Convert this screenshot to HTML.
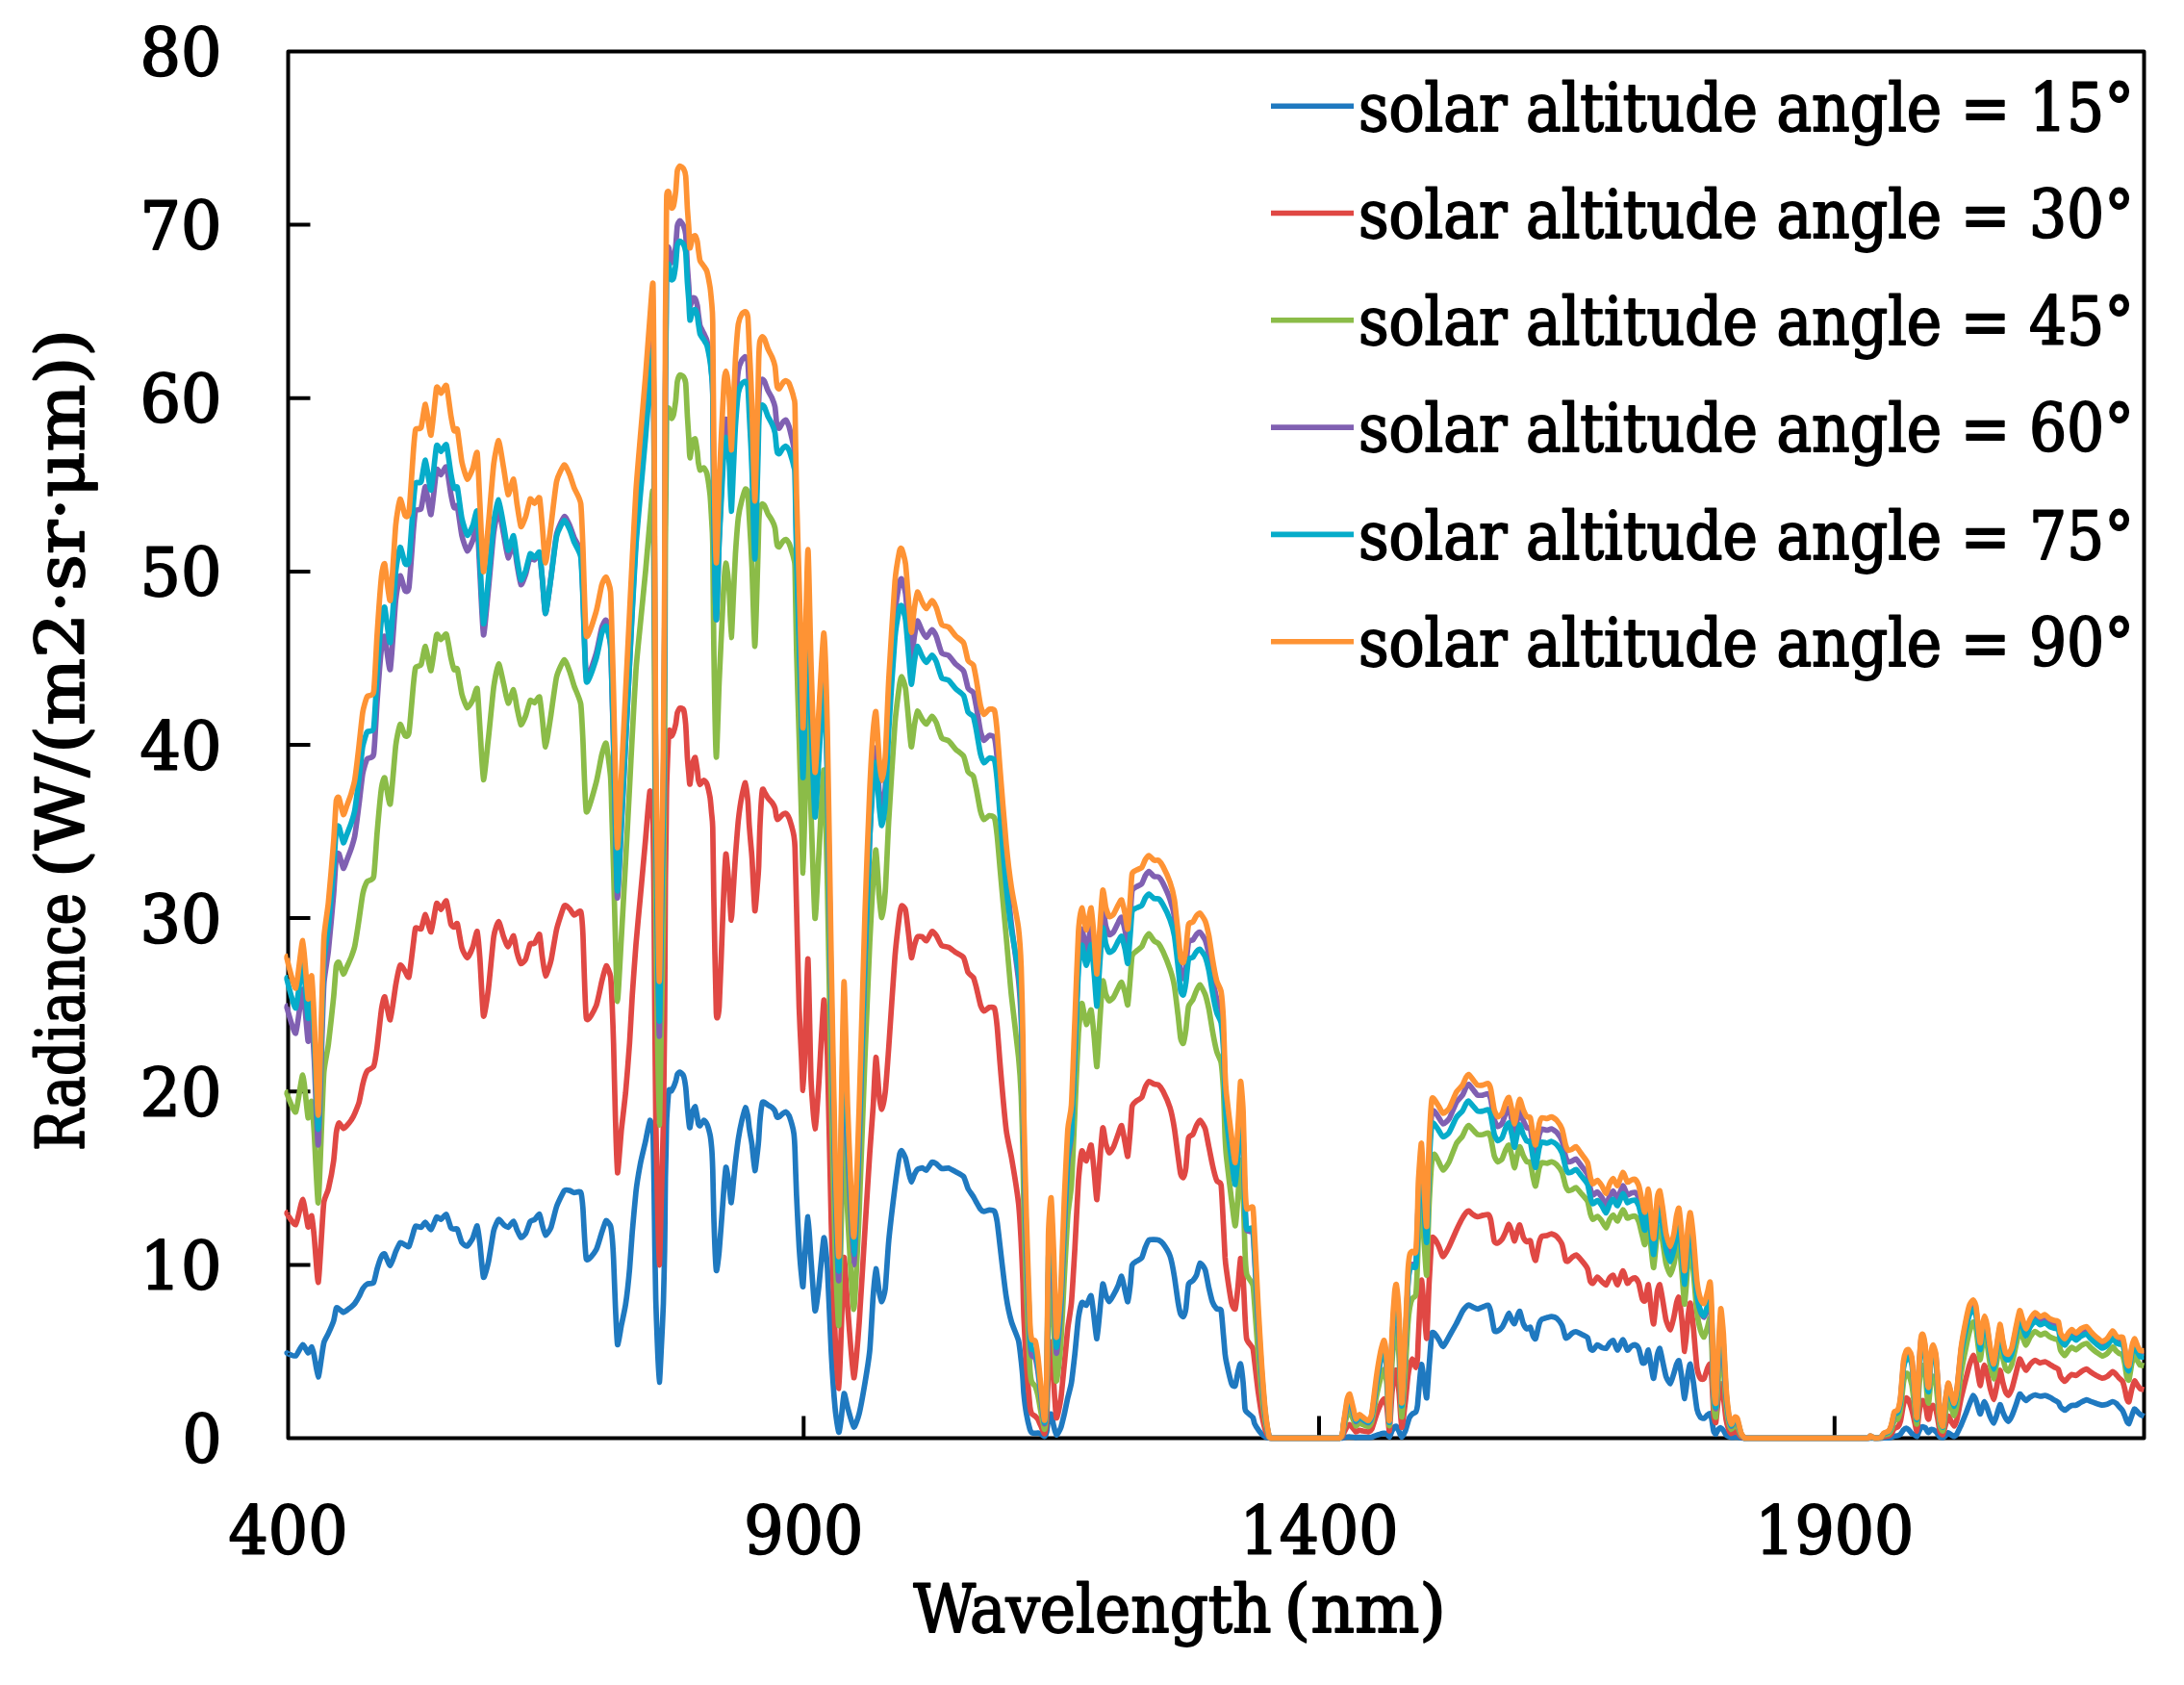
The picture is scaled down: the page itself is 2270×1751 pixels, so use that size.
<!DOCTYPE html>
<html lang="en"><head><meta charset="utf-8"><title>Radiance vs Wavelength</title>
<style>html,body{margin:0;padding:0;background:#fff}svg{display:block}</style></head>
<body>
<svg width="2270" height="1751" viewBox="0 0 2270 1751">
<rect width="2270" height="1751" fill="#fff"/>
<g font-family="'DejaVu Serif Condensed','DejaVu Serif','Liberation Serif',serif" font-size="70" fill="#000" stroke="#000" stroke-width="1.8" stroke-linejoin="round">
<rect x="299.5" y="53.5" width="1929" height="1441" fill="none" stroke="#000" stroke-width="4"/>
<path d="M299.5,1314.4h23 M299.5,1134.2h23 M299.5,954.1h23 M299.5,774.0h23 M299.5,593.9h23 M299.5,413.8h23 M299.5,233.6h23 M835.3,1494.5v-23 M1371,1494.5v-23 M1906.8,1494.5v-23" stroke="#000" stroke-width="4" fill="none"/>
<text x="230.5" y="1520.0" text-anchor="end" textLength="41" lengthAdjust="spacingAndGlyphs">0</text>
<text x="230.5" y="1339.9" text-anchor="end" textLength="85" lengthAdjust="spacingAndGlyphs">10</text>
<text x="230.5" y="1159.8" text-anchor="end" textLength="85" lengthAdjust="spacingAndGlyphs">20</text>
<text x="230.5" y="979.6" text-anchor="end" textLength="85" lengthAdjust="spacingAndGlyphs">30</text>
<text x="230.5" y="799.5" text-anchor="end" textLength="85" lengthAdjust="spacingAndGlyphs">40</text>
<text x="230.5" y="619.4" text-anchor="end" textLength="85" lengthAdjust="spacingAndGlyphs">50</text>
<text x="230.5" y="439.2" text-anchor="end" textLength="85" lengthAdjust="spacingAndGlyphs">60</text>
<text x="230.5" y="259.1" text-anchor="end" textLength="85" lengthAdjust="spacingAndGlyphs">70</text>
<text x="230.5" y="79.0" text-anchor="end" textLength="85" lengthAdjust="spacingAndGlyphs">80</text>
<text x="237.5" y="1614.5" textLength="124" lengthAdjust="spacingAndGlyphs">400</text>
<text x="773.3" y="1614.5" textLength="124" lengthAdjust="spacingAndGlyphs">900</text>
<text x="1288.5" y="1614.5" textLength="165" lengthAdjust="spacingAndGlyphs">1400</text>
<text x="1824.3" y="1614.5" textLength="165" lengthAdjust="spacingAndGlyphs">1900</text>
<text x="949.5" y="1695.5" textLength="372" lengthAdjust="spacingAndGlyphs">Wavelength</text>
<text x="1334.5" y="1695.5" textLength="168.5" lengthAdjust="spacingAndGlyphs">(nm)</text>
<text transform="translate(86.5,1196) rotate(-90)" textLength="268" lengthAdjust="spacingAndGlyphs">Radiance</text>
<text transform="translate(86.5,912) rotate(-90)" textLength="570" lengthAdjust="spacingAndGlyphs">(W/(m2·sr·μm))</text>
<g fill="none" stroke-width="5.7" stroke-linejoin="round" stroke-linecap="butt">
<path stroke="#1F79C0" d="M299.5,1405.8C298.2,1405.8 298.2,1405.8 298.2,1406.1C298.9,1406.4 305.9,1409.8 307.4,1409.0C308.9,1408.2 313.5,1397.5 314.7,1397.3C315.9,1397.0 319.4,1405.8 320.2,1406.0C321.0,1406.2 323.3,1399.4 323.9,1399.6C324.5,1399.9 326.0,1406.0 326.6,1408.8C327.2,1411.6 330.0,1430.6 330.7,1430.9C331.4,1431.1 333.5,1415.1 334.0,1411.9C334.5,1408.7 336.0,1397.5 336.7,1395.1C337.4,1392.7 340.4,1387.7 341.3,1385.7C342.2,1383.7 346.1,1374.9 346.8,1372.5C347.5,1370.2 349.0,1360.6 349.5,1359.4C350.0,1358.3 351.6,1359.7 352.3,1360.1C353.0,1360.5 356.1,1363.6 356.8,1363.8C357.5,1363.9 359.8,1362.1 360.5,1361.6C361.2,1361.1 364.4,1358.8 365.1,1358.2C365.8,1357.6 368.1,1355.5 368.8,1354.5C369.5,1353.5 372.6,1348.5 373.3,1347.1C374.0,1345.8 376.3,1340.3 377.0,1339.2C377.7,1338.0 380.6,1335.0 381.6,1334.4C382.6,1333.8 387.5,1334.0 388.4,1332.6C389.3,1331.2 391.2,1321.3 391.9,1318.9C392.6,1316.4 395.8,1306.8 396.5,1305.4C397.2,1303.9 399.1,1302.3 399.9,1303.2C400.7,1304.1 404.6,1315.3 405.6,1315.1C406.6,1314.9 410.4,1302.8 411.3,1300.7C412.2,1298.6 415.0,1292.1 415.9,1291.4C416.8,1290.8 420.2,1293.2 421.0,1293.6C421.8,1293.9 424.3,1296.4 425.1,1295.2C425.9,1294.0 429.1,1282.4 429.7,1280.5C430.3,1278.6 431.2,1274.5 431.9,1274.1C432.6,1273.6 436.8,1275.7 437.7,1275.4C438.6,1275.0 441.3,1270.0 442.2,1270.2C443.1,1270.4 447.0,1278.3 448.0,1277.8C449.0,1277.3 452.8,1265.8 453.7,1264.8C454.6,1263.8 457.4,1267.3 458.3,1267.1C459.2,1266.8 463.1,1261.3 464.0,1262.1C464.9,1262.9 467.9,1274.5 468.6,1275.8C469.3,1277.2 471.4,1277.0 472.0,1277.2C472.6,1277.3 474.7,1276.2 475.4,1277.4C476.1,1278.7 479.1,1289.7 480.0,1291.2C480.9,1292.8 484.7,1295.3 485.7,1294.9C486.7,1294.5 490.6,1288.2 491.5,1286.4C492.4,1284.5 495.3,1273.4 496.0,1273.9C496.7,1274.5 498.2,1287.6 498.8,1292.4C499.4,1297.2 501.7,1325.5 502.5,1327.3C503.3,1329.0 506.5,1316.5 507.5,1312.1C508.5,1307.8 512.2,1282.9 513.2,1278.8C514.2,1274.8 517.4,1267.8 518.3,1267.3C519.2,1266.7 522.6,1271.9 523.5,1272.6C524.4,1273.3 527.2,1275.7 528.1,1275.3C529.0,1275.0 533.0,1268.8 533.8,1269.0C534.6,1269.2 536.6,1276.5 537.3,1278.0C538.0,1279.5 540.6,1285.6 541.4,1286.0C542.2,1286.3 545.5,1283.2 546.4,1281.8C547.3,1280.3 550.2,1270.8 551.0,1269.5C551.8,1268.2 554.7,1268.1 555.6,1267.4C556.5,1266.7 560.1,1261.2 560.8,1261.7C561.5,1262.2 563.0,1271.1 563.6,1273.0C564.2,1275.0 566.2,1283.5 567.0,1283.7C567.8,1283.9 571.7,1278.1 572.7,1275.5C573.7,1272.8 577.3,1257.3 578.5,1253.9C579.7,1250.5 585.3,1238.7 586.5,1237.2C587.7,1235.7 591.3,1237.0 592.2,1237.1C593.1,1237.3 595.8,1239.1 596.8,1239.3C597.8,1239.4 602.8,1237.4 603.6,1238.9C604.4,1240.3 605.4,1249.5 605.9,1255.7C606.4,1262.0 608.2,1304.5 609.4,1308.3C610.6,1312.2 618.3,1301.1 619.7,1298.6C621.1,1296.2 624.5,1283.6 625.4,1280.9C626.3,1278.1 629.2,1269.0 630.0,1268.4C630.8,1267.8 634.0,1272.5 634.6,1274.0C635.2,1275.5 635.9,1282.2 636.2,1285.3C636.5,1288.4 637.4,1301.7 637.7,1308.1C638.0,1314.6 639.2,1349.0 639.6,1357.1C640.0,1365.1 641.2,1395.7 641.8,1397.4C642.4,1399.2 645.2,1380.2 646.0,1376.5C646.8,1372.7 649.4,1361.0 650.2,1355.8C651.0,1350.6 653.8,1325.2 654.4,1318.4C655.0,1311.6 656.6,1287.3 657.2,1280.1C657.8,1272.9 660.3,1244.8 661.0,1238.5C661.7,1232.1 664.6,1214.5 665.5,1209.7C666.4,1205.0 670.1,1189.8 671.0,1185.7C671.9,1181.6 674.8,1164.9 675.5,1164.2C676.2,1163.6 678.3,1172.0 678.7,1178.1C679.1,1184.1 679.6,1221.0 679.8,1231.5C680.0,1242.0 680.4,1284.2 680.6,1294.9C680.8,1305.6 681.4,1341.3 681.6,1350.3C681.8,1359.3 682.9,1387.1 683.2,1394.9C683.5,1402.6 684.9,1435.9 685.3,1436.3C685.7,1436.7 687.0,1407.1 687.4,1399.8C687.8,1392.4 689.2,1363.5 689.5,1354.4C689.8,1345.3 690.6,1307.8 690.8,1298.8C691.0,1289.8 691.2,1261.2 691.3,1254.6C691.4,1247.9 691.5,1230.4 691.6,1224.6C691.7,1218.8 692.3,1195.5 692.4,1189.9C692.5,1184.3 692.7,1167.3 693.0,1162.2C693.3,1157.1 694.8,1135.9 695.2,1133.3C695.6,1130.7 697.5,1133.9 697.9,1133.6C698.3,1133.2 699.7,1130.4 700.1,1129.6C700.5,1128.7 701.9,1124.9 702.3,1123.7C702.7,1122.6 703.6,1117.3 704.0,1116.4C704.4,1115.5 706.1,1113.9 706.7,1114.1C707.3,1114.2 710.0,1116.7 710.5,1118.1C711.0,1119.5 712.3,1126.8 712.7,1129.8C713.1,1132.7 714.1,1147.5 714.4,1150.8C714.7,1154.1 715.8,1164.4 716.0,1166.3C716.2,1168.2 716.7,1172.8 717.1,1171.7C717.5,1170.7 719.4,1157.1 719.9,1155.1C720.4,1153.2 722.2,1149.6 722.6,1150.1C723.0,1150.7 724.5,1159.5 724.8,1161.1C725.1,1162.7 725.6,1167.3 725.9,1168.1C726.2,1168.9 727.1,1170.1 727.6,1169.8C728.1,1169.4 730.8,1164.3 731.4,1164.1C732.0,1163.9 734.1,1166.5 734.7,1167.9C735.3,1169.2 737.5,1176.9 738.0,1179.2C738.5,1181.4 739.4,1189.7 739.7,1193.0C740.0,1196.3 740.6,1209.4 740.8,1215.7C741.0,1222.1 741.6,1254.3 741.9,1263.7C742.2,1273.1 744.0,1316.7 744.5,1320.0C745.0,1323.3 746.9,1306.4 747.5,1300.2C748.1,1294.1 750.7,1257.9 751.2,1251.6C751.7,1245.4 752.4,1234.2 752.7,1230.8C753.0,1227.3 754.2,1213.8 754.5,1213.0C754.8,1212.2 756.1,1219.9 756.4,1221.9C756.7,1223.8 757.9,1232.2 758.2,1234.7C758.5,1237.2 759.7,1250.3 760.1,1249.8C760.5,1249.4 761.8,1233.6 762.2,1229.8C762.6,1225.9 763.9,1211.3 764.4,1207.1C764.9,1202.9 766.8,1187.3 767.4,1183.5C768.0,1179.7 770.3,1167.6 771.0,1164.7C771.7,1161.8 774.1,1151.4 774.7,1151.0C775.3,1150.5 776.9,1157.7 777.3,1159.6C777.7,1161.5 778.4,1169.8 778.7,1171.9C779.0,1174.0 780.2,1181.2 780.5,1182.8C780.8,1184.4 781.2,1186.5 781.6,1189.6C782.0,1192.6 784.1,1216.0 784.6,1216.5C785.1,1217.0 787.1,1198.2 787.5,1195.3C787.9,1192.4 788.4,1186.7 788.6,1184.1C788.8,1181.5 789.4,1170.0 789.7,1166.5C790.0,1163.1 791.8,1147.9 792.3,1146.1C792.8,1144.2 794.3,1145.5 794.8,1145.7C795.3,1145.9 797.4,1147.8 798.1,1148.3C798.8,1148.8 801.8,1150.3 802.5,1150.9C803.2,1151.5 805.1,1153.8 805.5,1154.5C805.9,1155.3 806.7,1158.7 806.9,1159.3C807.1,1159.9 807.7,1160.9 808.0,1161.0C808.3,1161.1 809.4,1160.8 809.9,1160.5C810.4,1160.2 812.9,1157.8 813.5,1157.3C814.1,1156.8 816.2,1155.2 816.8,1155.4C817.4,1155.6 819.5,1158.2 820.1,1159.3C820.7,1160.5 822.5,1166.4 823.0,1168.1C823.5,1169.8 824.9,1175.9 825.2,1178.5C825.5,1181.0 826.1,1190.8 826.3,1196.5C826.5,1202.2 827.5,1233.2 827.9,1242.1C828.3,1251.1 830.1,1288.5 830.6,1296.0C831.1,1303.4 832.6,1321.3 833.0,1325.0C833.4,1328.7 834.3,1338.7 834.6,1337.0C834.9,1335.2 836.0,1312.3 836.5,1305.8C837.0,1299.3 839.2,1263.9 839.8,1264.3C840.4,1264.7 842.3,1301.0 843.0,1309.8C843.7,1318.6 846.4,1359.6 847.1,1362.1C847.8,1364.6 850.2,1344.3 851.0,1337.5C851.8,1330.7 855.5,1288.1 856.3,1286.3C857.1,1284.6 859.3,1307.3 860.0,1318.0C860.7,1328.7 863.3,1392.3 864.0,1405.4C864.7,1418.5 867.3,1456.1 868.0,1463.6C868.7,1471.1 871.2,1487.6 871.8,1488.4C872.4,1489.2 874.0,1476.1 874.5,1472.5C875.0,1468.9 876.7,1449.0 877.3,1448.1C877.9,1447.2 880.1,1459.4 881.0,1462.5C881.9,1465.7 886.3,1482.4 887.4,1483.0C888.5,1483.6 892.0,1473.1 893.0,1469.0C894.0,1464.9 898.0,1443.1 899.0,1437.2C900.0,1431.3 903.2,1411.5 904.0,1403.4C904.8,1395.3 906.9,1354.9 907.5,1347.2C908.1,1339.6 909.8,1319.0 910.4,1318.5C911.0,1318.0 913.2,1338.7 913.7,1341.8C914.2,1344.9 915.9,1352.8 916.5,1352.6C917.1,1352.4 919.4,1345.0 920.1,1339.3C920.8,1333.5 922.9,1298.3 923.8,1288.8C924.7,1279.3 929.2,1241.5 930.2,1233.5C931.2,1225.6 934.2,1204.1 934.8,1200.7C935.4,1197.3 936.6,1195.4 937.2,1195.7C937.8,1196.0 940.5,1201.5 941.2,1203.7C941.9,1205.9 944.4,1218.1 944.9,1220.3C945.4,1222.5 946.8,1228.3 947.3,1228.3C947.8,1228.3 949.8,1221.6 950.4,1220.4C951.0,1219.2 952.8,1216.0 953.5,1215.3C954.2,1214.7 957.8,1213.6 958.6,1213.6C959.4,1213.7 961.9,1216.6 962.8,1216.0C963.7,1215.5 967.8,1208.3 968.7,1207.7C969.6,1207.1 972.4,1208.8 973.3,1209.4C974.2,1210.0 977.6,1213.9 978.8,1214.3C980.0,1214.7 984.8,1213.6 986.1,1213.9C987.4,1214.3 992.0,1217.0 993.4,1217.7C994.8,1218.5 1000.4,1221.1 1001.6,1222.7C1002.8,1224.3 1005.3,1233.5 1006.2,1235.4C1007.1,1237.2 1011.0,1242.3 1011.7,1243.5C1012.4,1244.7 1013.8,1247.6 1014.5,1248.7C1015.2,1249.9 1018.3,1255.5 1019.0,1256.4C1019.7,1257.3 1021.9,1258.8 1022.7,1258.9C1023.5,1259.0 1027.2,1257.4 1028.2,1257.4C1029.2,1257.4 1033.0,1257.8 1033.7,1258.9C1034.4,1260.0 1035.9,1266.6 1036.4,1269.6C1036.9,1272.7 1038.4,1286.0 1039.2,1293.0C1040.0,1300.0 1044.7,1340.1 1045.8,1347.3C1046.9,1354.6 1050.1,1369.5 1051.3,1373.6C1052.5,1377.8 1057.7,1389.4 1058.6,1393.0C1059.5,1396.6 1061.0,1410.5 1061.4,1414.2C1061.8,1417.8 1063.0,1430.6 1063.2,1433.6C1063.4,1436.6 1063.8,1444.6 1064.1,1447.8C1064.4,1451.0 1066.2,1465.6 1066.8,1469.0C1067.4,1472.4 1070.0,1483.8 1070.5,1485.6C1071.0,1487.3 1071.8,1488.3 1072.3,1488.7C1072.8,1489.0 1075.4,1489.4 1076.0,1489.4C1076.6,1489.5 1078.2,1488.9 1078.8,1489.0C1079.4,1489.1 1081.8,1490.2 1082.4,1490.5C1083.0,1490.8 1085.2,1492.9 1085.7,1492.6C1086.2,1492.4 1087.5,1489.6 1087.9,1487.9C1088.3,1486.1 1089.3,1475.0 1089.7,1473.4C1090.1,1471.7 1092.0,1468.8 1092.5,1469.5C1093.0,1470.3 1094.7,1479.9 1095.2,1481.8C1095.7,1483.8 1097.3,1491.2 1098.0,1491.3C1098.7,1491.5 1101.9,1485.6 1102.6,1483.6C1103.3,1481.7 1105.5,1472.5 1106.2,1469.6C1106.9,1466.8 1109.2,1455.0 1109.9,1452.1C1110.6,1449.2 1112.9,1441.1 1113.6,1437.0C1114.3,1433.0 1116.5,1413.0 1117.2,1406.9C1117.9,1400.7 1120.2,1373.8 1120.9,1369.1C1121.6,1364.3 1123.8,1354.7 1124.5,1353.6C1125.2,1352.5 1128.2,1357.1 1129.1,1356.4C1130.0,1355.8 1133.4,1345.1 1134.1,1346.5C1134.8,1347.8 1136.9,1367.3 1137.4,1371.3C1137.9,1375.4 1139.6,1391.8 1140.1,1391.2C1140.6,1390.6 1142.4,1370.3 1142.9,1365.2C1143.4,1360.0 1145.6,1336.1 1146.2,1334.4C1146.8,1332.6 1148.7,1343.9 1149.3,1345.5C1149.9,1347.2 1152.2,1352.7 1152.9,1352.7C1153.6,1352.7 1156.7,1346.9 1157.5,1345.4C1158.3,1344.0 1161.4,1337.9 1162.1,1336.2C1162.8,1334.5 1165.1,1325.8 1165.8,1326.3C1166.5,1326.8 1168.8,1339.3 1169.4,1341.7C1170.0,1344.1 1171.7,1353.3 1172.2,1352.7C1172.7,1352.0 1174.5,1337.9 1174.9,1334.5C1175.3,1331.1 1176.1,1316.7 1176.7,1314.6C1177.3,1312.4 1180.4,1311.3 1181.3,1310.6C1182.2,1310.0 1186.0,1308.3 1186.8,1307.0C1187.6,1305.7 1189.8,1297.6 1190.5,1295.9C1191.2,1294.3 1193.3,1289.4 1194.1,1288.7C1194.9,1288.0 1198.7,1288.2 1199.6,1288.2C1200.5,1288.2 1203.4,1288.3 1204.2,1288.6C1205.0,1289.0 1207.7,1290.8 1208.8,1292.3C1209.9,1293.8 1215.0,1302.0 1216.1,1305.1C1217.2,1308.2 1220.0,1322.8 1220.7,1327.1C1221.4,1331.4 1223.8,1349.5 1224.4,1352.9C1225.0,1356.4 1226.6,1364.2 1227.1,1365.6C1227.6,1366.9 1229.4,1368.7 1229.9,1368.3C1230.4,1367.8 1232.1,1363.1 1232.6,1360.1C1233.1,1357.1 1234.6,1337.4 1235.3,1334.8C1236.0,1332.1 1239.2,1331.7 1239.9,1330.8C1240.6,1329.9 1242.9,1326.9 1243.6,1325.2C1244.3,1323.6 1246.5,1313.0 1247.3,1312.5C1248.1,1312.0 1251.9,1317.4 1252.7,1319.7C1253.5,1322.0 1255.7,1335.1 1256.4,1338.0C1257.1,1341.0 1259.4,1350.8 1260.1,1352.8C1260.8,1354.8 1263.9,1359.4 1264.7,1360.2C1265.5,1361.0 1268.6,1359.4 1269.2,1361.8C1269.8,1364.3 1271.2,1383.3 1271.6,1387.4C1272.0,1391.4 1273.0,1404.4 1273.3,1407.0C1273.6,1409.5 1274.1,1412.9 1274.7,1415.7C1275.3,1418.5 1279.4,1436.1 1280.2,1438.3C1281.0,1440.5 1283.3,1441.0 1283.9,1440.0C1284.5,1438.9 1286.1,1428.2 1286.6,1426.2C1287.1,1424.1 1288.9,1416.3 1289.4,1417.3C1289.9,1418.2 1291.7,1432.9 1292.1,1437.1C1292.5,1441.3 1293.7,1461.1 1294.0,1463.8C1294.3,1466.5 1295.1,1466.6 1295.8,1467.4C1296.5,1468.2 1301.5,1471.9 1302.2,1473.0C1302.9,1474.0 1303.5,1478.2 1304.0,1479.4C1304.5,1480.5 1307.0,1484.7 1307.7,1485.6C1308.4,1486.6 1310.7,1489.5 1311.4,1490.2C1312.1,1490.9 1314.3,1492.6 1315.0,1493.0C1315.7,1493.4 1318.1,1494.2 1318.7,1494.3C1319.3,1494.4 1318.7,1494.5 1321.4,1494.5C1328.0,1494.5 1385.2,1494.5 1392.0,1494.5C1396.5,1494.5 1395.8,1494.1 1396.5,1494.0C1397.2,1493.9 1399.5,1493.4 1400.1,1493.3C1400.7,1493.2 1402.3,1493.0 1402.9,1493.1C1403.5,1493.1 1406.0,1493.4 1406.6,1493.5C1407.2,1493.5 1408.7,1493.8 1409.3,1493.8C1409.9,1493.8 1412.3,1493.6 1413.0,1493.6C1413.7,1493.6 1415.8,1493.6 1416.6,1493.7C1417.4,1493.7 1421.3,1493.8 1422.1,1493.7C1422.9,1493.7 1425.1,1493.6 1425.8,1493.4C1426.5,1493.2 1429.6,1491.9 1430.4,1491.6C1431.2,1491.3 1434.2,1490.4 1434.9,1490.2C1435.6,1489.9 1438.0,1489.3 1438.6,1489.3C1439.2,1489.3 1440.9,1489.5 1441.4,1489.8C1441.9,1490.2 1443.6,1493.6 1444.1,1493.3C1444.6,1493.1 1446.3,1487.9 1446.8,1486.9C1447.3,1486.0 1449.2,1483.3 1449.6,1482.8C1450.0,1482.4 1451.0,1481.8 1451.4,1482.3C1451.8,1482.7 1453.7,1486.8 1454.2,1487.8C1454.7,1488.8 1456.3,1493.4 1456.9,1493.4C1457.5,1493.3 1460.0,1488.6 1460.6,1487.2C1461.2,1485.9 1462.9,1479.4 1463.3,1478.1C1463.7,1476.8 1464.8,1473.4 1465.2,1472.7C1465.6,1471.9 1467.3,1469.9 1467.9,1469.4C1468.5,1468.9 1471.1,1468.1 1471.6,1467.3C1472.1,1466.4 1473.2,1461.7 1473.4,1460.1C1473.6,1458.5 1473.9,1453.0 1474.3,1449.2C1474.7,1445.4 1476.8,1418.8 1477.4,1417.8C1478.0,1416.9 1480.2,1435.5 1480.7,1438.6C1481.2,1441.7 1482.5,1454.2 1482.9,1452.6C1483.3,1450.9 1484.8,1426.0 1485.3,1420.0C1485.8,1414.1 1487.6,1389.4 1488.1,1386.3C1488.6,1383.2 1490.1,1384.9 1490.8,1385.4C1491.5,1385.9 1494.6,1390.8 1495.4,1392.0C1496.2,1393.3 1499.0,1399.6 1500.0,1399.3C1501.0,1399.0 1505.2,1390.5 1506.4,1388.3C1507.6,1386.2 1512.5,1377.8 1513.7,1375.5C1514.9,1373.2 1519.2,1364.3 1520.1,1362.7C1521.0,1361.2 1523.2,1358.7 1523.8,1358.1C1524.4,1357.5 1525.8,1356.1 1526.5,1356.1C1527.2,1356.2 1530.3,1358.0 1531.1,1358.4C1531.9,1358.7 1534.8,1360.2 1535.7,1360.2C1536.6,1360.2 1540.2,1358.5 1541.2,1358.1C1542.2,1357.8 1546.0,1355.9 1546.7,1356.3C1547.4,1356.8 1548.8,1360.3 1549.4,1362.7C1550.0,1365.0 1552.4,1380.6 1553.1,1382.4C1553.8,1384.3 1556.0,1383.3 1556.7,1383.1C1557.4,1382.8 1560.6,1380.2 1561.3,1379.2C1562.0,1378.2 1564.4,1373.1 1565.0,1371.8C1565.6,1370.5 1567.7,1364.5 1568.3,1364.5C1568.9,1364.6 1570.9,1370.9 1571.4,1371.9C1571.9,1372.9 1573.6,1376.0 1574.1,1375.6C1574.6,1375.3 1576.4,1369.3 1576.9,1368.2C1577.4,1367.0 1579.0,1362.0 1579.6,1362.7C1580.2,1363.4 1582.6,1373.9 1583.3,1375.5C1584.0,1377.2 1586.3,1380.7 1587.0,1381.0C1587.7,1381.4 1590.0,1378.5 1590.6,1379.2C1591.2,1379.8 1592.9,1387.3 1593.4,1388.4C1593.9,1389.5 1595.5,1392.3 1596.1,1391.1C1596.7,1390.0 1599.2,1377.3 1599.8,1375.5C1600.4,1373.7 1601.8,1371.5 1602.5,1371.0C1603.2,1370.4 1607.1,1369.4 1608.0,1369.1C1608.9,1368.9 1611.7,1368.1 1612.6,1368.2C1613.5,1368.3 1617.1,1369.2 1618.1,1370.0C1619.1,1370.9 1622.8,1375.6 1623.6,1377.4C1624.4,1379.2 1626.7,1389.1 1627.3,1390.2C1627.9,1391.3 1629.4,1389.7 1630.0,1389.3C1630.6,1388.9 1633.0,1386.1 1633.7,1385.6C1634.4,1385.1 1637.3,1383.7 1638.2,1383.8C1639.1,1383.8 1642.6,1385.9 1643.7,1386.5C1644.8,1387.1 1649.3,1388.8 1650.1,1390.1C1650.9,1391.4 1652.4,1400.0 1652.9,1401.2C1653.4,1402.3 1654.9,1403.4 1655.6,1403.0C1656.3,1402.7 1659.4,1397.8 1660.2,1397.5C1661.0,1397.3 1664.0,1399.9 1664.8,1400.3C1665.6,1400.6 1668.7,1401.6 1669.4,1401.2C1670.1,1400.8 1672.3,1396.5 1673.0,1395.7C1673.7,1395.0 1676.0,1392.3 1676.7,1392.9C1677.4,1393.6 1680.4,1403.1 1681.3,1403.0C1682.2,1402.9 1685.9,1392.0 1686.8,1392.0C1687.7,1392.0 1690.7,1402.3 1691.4,1403.0C1692.1,1403.7 1694.3,1399.9 1695.0,1399.4C1695.7,1398.9 1698.9,1397.3 1699.6,1397.5C1700.3,1397.7 1702.6,1399.7 1703.3,1401.3C1704.0,1402.9 1706.3,1414.4 1706.9,1415.7C1707.5,1417.0 1709.1,1417.0 1709.7,1415.8C1710.3,1414.7 1712.7,1402.6 1713.3,1402.9C1713.9,1403.3 1715.6,1416.9 1716.1,1419.6C1716.6,1422.2 1718.2,1433.4 1718.8,1432.4C1719.4,1431.3 1721.9,1411.3 1722.5,1408.4C1723.1,1405.6 1724.7,1400.7 1725.2,1401.2C1725.7,1401.7 1727.4,1411.4 1728.0,1414.1C1728.6,1416.7 1730.9,1428.2 1731.6,1430.3C1732.3,1432.5 1735.5,1438.1 1736.2,1437.8C1736.9,1437.5 1739.3,1428.6 1739.9,1426.8C1740.5,1425.0 1742.1,1418.9 1742.6,1417.7C1743.1,1416.6 1744.6,1412.7 1745.1,1414.1C1745.6,1415.5 1747.7,1429.3 1748.2,1432.8C1748.7,1436.4 1750.5,1453.7 1751.0,1453.3C1751.5,1452.9 1753.8,1431.6 1754.3,1428.4C1754.8,1425.2 1756.3,1416.9 1756.8,1417.6C1757.3,1418.3 1759.5,1432.3 1760.1,1436.5C1760.7,1440.7 1763.1,1461.0 1763.8,1464.3C1764.5,1467.6 1766.8,1472.0 1767.5,1472.9C1768.2,1473.7 1770.4,1474.2 1771.1,1473.9C1771.8,1473.7 1774.2,1470.8 1774.8,1470.3C1775.4,1469.9 1777.1,1468.4 1777.5,1469.0C1777.9,1469.5 1779.1,1474.6 1779.4,1476.3C1779.7,1478.0 1780.8,1486.3 1781.2,1487.5C1781.6,1488.8 1783.0,1490.4 1783.4,1490.3C1783.8,1490.1 1785.3,1486.2 1785.8,1485.6C1786.3,1485.0 1788.0,1483.7 1788.5,1483.7C1789.0,1483.8 1790.8,1485.8 1791.3,1486.5C1791.8,1487.1 1793.5,1490.3 1794.0,1490.9C1794.5,1491.4 1796.3,1492.6 1796.8,1492.9C1797.3,1493.1 1798.9,1493.6 1799.5,1493.7C1800.1,1493.7 1802.6,1493.4 1803.2,1493.4C1803.8,1493.4 1805.3,1493.4 1805.9,1493.5C1806.5,1493.6 1808.9,1494.1 1809.6,1494.2C1810.3,1494.3 1812.9,1494.5 1813.3,1494.5C1813.5,1494.5 1813.3,1494.5 1813.5,1494.5C1825.0,1494.5 1929.3,1494.5 1941.0,1494.5C1943.9,1494.5 1943.2,1494.4 1943.9,1494.4C1944.6,1494.4 1948.0,1494.5 1949.0,1494.5C1950.0,1494.5 1954.1,1494.5 1954.9,1494.5C1955.7,1494.4 1957.1,1494.3 1957.8,1494.2C1958.5,1494.2 1962.3,1494.1 1963.0,1494.1C1963.7,1494.0 1965.4,1493.7 1965.9,1493.5C1966.4,1493.4 1968.2,1492.6 1968.8,1492.4C1969.4,1492.3 1971.9,1492.1 1972.5,1491.9C1973.1,1491.7 1974.9,1490.8 1975.4,1490.3C1975.9,1489.7 1977.9,1486.5 1978.4,1486.0C1978.9,1485.4 1980.8,1484.0 1981.3,1484.0C1981.8,1484.0 1983.4,1485.3 1983.9,1485.8C1984.4,1486.4 1986.6,1489.3 1987.1,1489.8C1987.6,1490.2 1988.8,1490.3 1989.3,1490.5C1989.8,1490.8 1991.8,1493.0 1992.3,1492.7C1992.8,1492.4 1994.1,1488.3 1994.5,1487.4C1994.9,1486.6 1996.3,1484.0 1996.7,1483.6C1997.1,1483.1 1998.2,1482.7 1998.6,1482.7C1999.0,1482.8 2000.7,1483.2 2001.1,1483.6C2001.5,1484.0 2003.0,1487.2 2003.3,1487.6C2003.6,1488.1 2004.4,1488.7 2004.7,1488.5C2005.0,1488.3 2006.5,1485.9 2006.9,1485.6C2007.3,1485.4 2008.6,1485.5 2009.1,1485.7C2009.6,1485.9 2011.6,1487.3 2012.1,1487.8C2012.6,1488.2 2013.8,1490.1 2014.2,1490.6C2014.6,1491.1 2015.9,1493.0 2016.4,1493.3C2016.9,1493.6 2018.9,1494.0 2019.4,1494.0C2019.9,1493.9 2021.1,1492.8 2021.6,1492.4C2022.1,1491.9 2024.4,1489.0 2024.9,1488.8C2025.4,1488.7 2026.8,1490.2 2027.4,1490.6C2028.0,1490.9 2030.5,1492.7 2031.1,1492.7C2031.7,1492.6 2033.3,1491.1 2034.0,1490.0C2034.7,1488.9 2037.5,1482.6 2038.4,1480.7C2039.3,1478.7 2042.8,1470.0 2043.6,1468.0C2044.4,1466.0 2046.5,1460.0 2047.2,1458.4C2047.9,1456.8 2050.3,1450.4 2050.9,1450.1C2051.5,1449.8 2053.3,1453.9 2053.8,1455.1C2054.3,1456.2 2055.6,1461.7 2056.0,1463.0C2056.4,1464.3 2057.8,1469.6 2058.2,1469.5C2058.6,1469.5 2060.0,1463.7 2060.4,1462.6C2060.8,1461.4 2062.1,1456.5 2062.6,1456.6C2063.1,1456.6 2065.0,1461.8 2065.5,1463.2C2066.0,1464.6 2067.9,1470.7 2068.5,1472.1C2069.1,1473.5 2071.5,1479.1 2072.1,1479.0C2072.7,1478.9 2074.5,1473.1 2075.1,1471.4C2075.7,1469.6 2078.1,1460.0 2078.7,1459.6C2079.3,1459.2 2081.1,1465.8 2081.6,1467.0C2082.1,1468.3 2084.1,1472.8 2084.6,1473.7C2085.1,1474.6 2086.9,1477.3 2087.5,1477.0C2088.1,1476.8 2090.5,1472.8 2091.2,1471.2C2091.9,1469.6 2094.9,1461.3 2095.6,1459.3C2096.3,1457.3 2098.6,1449.4 2099.2,1448.7C2099.8,1448.0 2101.6,1451.2 2102.2,1451.8C2102.8,1452.3 2105.1,1455.3 2105.8,1455.3C2106.5,1455.3 2109.3,1452.3 2110.2,1451.8C2111.1,1451.2 2114.4,1449.5 2115.3,1449.5C2116.2,1449.4 2119.6,1450.9 2120.5,1451.0C2121.4,1451.1 2124.7,1450.1 2125.6,1450.2C2126.5,1450.3 2129.8,1451.7 2130.7,1452.1C2131.6,1452.5 2134.3,1454.3 2135.1,1454.8C2135.9,1455.3 2138.9,1456.8 2139.5,1457.4C2140.1,1458.1 2141.1,1461.3 2141.7,1462.0C2142.3,1462.7 2145.4,1465.5 2146.1,1465.5C2146.8,1465.6 2149.1,1463.2 2149.8,1462.7C2150.5,1462.3 2152.7,1460.7 2153.4,1460.5C2154.1,1460.3 2156.9,1460.6 2157.8,1460.3C2158.7,1460.0 2162.0,1457.7 2163.0,1457.2C2164.0,1456.7 2167.9,1454.7 2168.8,1454.6C2169.7,1454.5 2172.3,1456.0 2173.2,1456.4C2174.1,1456.7 2178.0,1458.1 2179.1,1458.5C2180.2,1458.8 2183.9,1460.0 2184.9,1460.1C2185.9,1460.1 2189.1,1459.5 2190.1,1459.2C2191.1,1458.9 2195.0,1456.6 2195.9,1456.5C2196.8,1456.4 2199.0,1457.9 2199.6,1458.4C2200.2,1458.8 2201.9,1461.0 2202.5,1461.7C2203.1,1462.4 2205.7,1465.1 2206.2,1465.9C2206.7,1466.8 2208.0,1470.0 2208.4,1471.0C2208.8,1472.0 2210.2,1476.2 2210.6,1476.9C2211.0,1477.7 2212.3,1479.9 2212.8,1479.4C2213.3,1478.9 2215.2,1472.5 2215.7,1471.2C2216.2,1469.8 2218.1,1464.5 2218.6,1464.1C2219.1,1463.8 2221.1,1466.5 2221.6,1467.0C2222.1,1467.5 2223.9,1469.4 2224.5,1469.9C2225.1,1470.3 2228.1,1471.6 2228.5,1471.8"/>
<path stroke="#E04844" d="M299.5,1259.6C298.2,1259.8 298.2,1259.9 298.2,1261.0C298.9,1262.2 305.9,1273.8 307.4,1272.5C308.9,1271.2 313.5,1246.1 314.7,1246.3C315.9,1246.6 319.4,1273.5 320.2,1275.0C321.0,1276.5 323.3,1262.4 323.9,1263.4C324.5,1264.3 326.0,1279.0 326.6,1285.2C327.2,1291.5 330.0,1332.5 330.7,1332.7C331.4,1332.9 333.5,1294.8 334.0,1287.3C334.5,1279.8 336.0,1253.5 336.7,1248.9C337.4,1244.3 340.4,1239.5 341.3,1235.6C342.2,1231.8 346.1,1211.5 346.8,1206.2C347.5,1200.9 349.0,1180.7 349.5,1177.2C350.0,1173.7 351.6,1167.4 352.3,1167.0C353.0,1166.6 356.1,1172.4 356.8,1172.6C357.5,1172.9 359.8,1170.5 360.5,1169.7C361.2,1168.9 364.4,1165.1 365.1,1163.9C365.8,1162.8 368.1,1158.6 368.8,1156.9C369.5,1155.2 372.6,1147.8 373.3,1145.1C374.0,1142.4 376.3,1129.7 377.0,1126.8C377.7,1123.9 380.6,1114.6 381.6,1113.0C382.6,1111.3 387.5,1110.4 388.4,1108.2C389.3,1106.0 391.2,1093.9 391.9,1088.5C392.6,1083.2 395.8,1053.4 396.5,1048.6C397.2,1043.9 399.1,1034.9 399.9,1035.9C400.7,1036.9 404.6,1060.9 405.6,1059.8C406.6,1058.7 410.4,1028.8 411.3,1023.7C412.2,1018.6 415.0,1004.4 415.9,1003.1C416.8,1001.8 420.2,1008.2 421.0,1009.3C421.8,1010.4 424.3,1017.7 425.1,1015.0C425.9,1012.4 429.1,984.6 429.7,980.0C430.3,975.4 431.2,965.6 431.9,964.3C432.6,963.0 436.8,966.5 437.7,965.3C438.6,964.0 441.3,950.2 442.2,950.5C443.1,950.8 447.0,969.4 448.0,968.4C449.0,967.3 452.8,941.1 453.7,939.0C454.6,936.9 457.4,945.3 458.3,945.1C459.2,944.8 463.1,934.9 464.0,936.3C464.9,937.6 467.9,957.7 468.6,960.1C469.3,962.6 471.4,963.3 472.0,963.3C472.6,963.3 474.7,958.2 475.4,960.1C476.1,962.0 479.1,981.6 480.0,984.7C480.9,987.9 484.7,995.5 485.7,995.4C486.7,995.3 490.6,986.5 491.5,984.0C492.4,981.6 495.3,966.9 496.0,968.0C496.7,969.0 498.2,988.1 498.8,996.0C499.4,1003.9 501.7,1052.8 502.5,1055.8C503.3,1058.7 506.5,1036.4 507.5,1029.0C508.5,1021.5 512.2,979.6 513.2,973.1C514.2,966.7 517.4,957.6 518.3,957.7C519.2,957.8 522.6,971.4 523.5,973.8C524.4,976.1 527.2,984.0 528.1,983.9C529.0,983.8 533.0,971.9 533.8,972.4C534.6,973.0 536.6,987.2 537.3,989.8C538.0,992.5 540.6,1000.8 541.4,1001.4C542.2,1002.0 545.5,998.6 546.4,996.7C547.3,994.9 550.2,982.4 551.0,980.9C551.8,979.5 554.7,981.2 555.6,980.3C556.5,979.4 560.1,969.7 560.8,970.9C561.5,972.1 563.0,990.0 563.6,993.9C564.2,997.8 566.2,1013.7 567.0,1014.1C567.8,1014.5 571.7,1002.5 572.7,998.2C573.7,993.8 577.3,970.9 578.5,965.8C579.7,960.7 585.3,943.2 586.5,941.3C587.7,939.3 591.3,943.7 592.2,944.6C593.1,945.5 595.8,950.7 596.8,950.9C597.8,951.2 602.8,945.5 603.6,947.2C604.4,949.0 605.4,960.8 605.9,970.8C606.4,980.8 608.2,1051.2 609.4,1057.9C610.6,1064.6 618.3,1048.4 619.7,1045.0C621.1,1041.6 624.5,1023.9 625.4,1020.1C626.3,1016.4 629.2,1004.1 630.0,1003.6C630.8,1003.1 634.0,1011.2 634.6,1014.7C635.2,1018.2 635.9,1036.2 636.2,1042.5C636.5,1048.7 637.4,1073.6 637.7,1084.2C638.0,1094.8 639.2,1148.0 639.6,1160.1C640.0,1172.2 641.2,1217.7 641.8,1218.8C642.4,1220.0 645.2,1180.3 646.0,1172.8C646.8,1165.4 649.4,1143.9 650.2,1135.9C651.0,1127.8 653.8,1092.6 654.4,1083.4C655.0,1074.3 656.6,1043.3 657.2,1034.1C657.8,1024.9 660.3,990.7 661.0,981.5C661.7,972.4 664.6,942.5 665.5,932.6C666.4,922.7 670.1,881.6 671.0,871.7C671.9,861.7 674.8,823.8 675.5,822.1C676.2,820.3 678.3,841.7 678.7,852.0C679.1,862.3 679.6,918.4 679.8,936.8C680.0,955.1 680.4,1035.5 680.6,1055.6C680.8,1075.8 681.4,1144.3 681.6,1160.9C681.8,1177.4 682.9,1225.6 683.2,1239.4C683.5,1253.2 684.9,1314.0 685.3,1314.5C685.7,1315.0 687.0,1258.4 687.4,1245.0C687.8,1231.6 689.2,1182.4 689.5,1165.8C689.8,1149.3 690.6,1078.1 690.8,1060.7C691.0,1043.4 691.2,986.2 691.3,973.0C691.4,959.8 691.5,924.8 691.6,914.4C691.7,904.0 692.3,867.0 692.4,857.9C692.5,848.8 692.7,822.3 693.0,813.5C693.3,804.7 694.8,764.3 695.2,759.9C695.6,755.6 697.5,765.1 697.9,765.1C698.3,765.2 699.7,761.9 700.1,760.8C700.5,759.7 701.9,754.5 702.3,752.7C702.7,750.9 703.6,742.3 704.0,740.8C704.4,739.2 706.1,736.2 706.7,735.9C707.3,735.6 710.0,735.8 710.5,737.4C711.0,738.9 712.3,748.5 712.7,753.0C713.1,757.4 714.1,782.2 714.4,786.9C714.7,791.6 715.8,802.7 716.0,805.2C716.2,807.7 716.7,815.9 717.1,814.9C717.5,813.8 719.4,795.8 719.9,793.3C720.4,790.8 722.2,786.5 722.6,787.1C723.0,787.8 724.5,798.5 724.8,800.7C725.1,802.8 725.6,809.3 725.9,810.6C726.2,811.9 727.1,815.4 727.6,815.4C728.1,815.4 730.8,810.9 731.4,810.9C732.0,810.8 734.1,812.8 734.7,814.4C735.3,816.0 737.5,825.7 738.0,828.5C738.5,831.3 739.4,843.1 739.7,845.9C740.0,848.8 740.6,852.5 740.8,860.3C741.0,868.0 741.6,914.6 741.9,932.0C742.2,949.3 744.0,1042.5 744.5,1052.8C745.0,1063.1 746.9,1055.3 747.5,1046.4C748.1,1037.4 750.7,965.1 751.2,953.4C751.7,941.6 752.4,921.5 752.7,915.6C753.0,909.6 754.2,888.4 754.5,887.4C754.8,886.4 756.1,900.8 756.4,904.4C756.7,908.0 757.9,922.5 758.2,927.2C758.5,931.8 759.7,956.4 760.1,956.1C760.5,955.9 761.8,930.8 762.2,924.8C762.6,918.8 763.9,896.1 764.4,889.6C764.9,883.1 766.8,858.1 767.4,852.5C768.0,846.9 770.3,831.0 771.0,827.5C771.7,824.0 774.1,813.0 774.7,813.4C775.3,813.8 776.9,828.1 777.3,832.0C777.7,836.0 778.4,852.9 778.7,857.1C779.0,861.3 780.2,875.4 780.5,878.5C780.8,881.6 781.2,885.4 781.6,891.5C782.0,897.6 784.1,944.2 784.6,946.4C785.1,948.6 787.1,920.2 787.5,916.0C787.9,911.8 788.4,904.7 788.6,899.9C788.8,895.1 789.4,869.8 789.7,862.7C790.0,855.7 791.8,824.9 792.3,821.3C792.8,817.8 794.3,822.6 794.8,823.3C795.3,824.0 797.4,828.0 798.1,829.0C798.8,830.0 801.8,833.1 802.5,834.0C803.2,835.0 805.1,838.6 805.5,839.9C805.9,841.2 806.7,847.4 806.9,848.5C807.1,849.5 807.7,851.4 808.0,851.6C808.3,851.7 809.4,850.7 809.9,850.2C810.4,849.7 812.9,846.9 813.5,846.4C814.1,846.0 816.2,844.9 816.8,845.3C817.4,845.6 819.5,848.7 820.1,850.0C820.7,851.2 822.5,857.5 823.0,859.2C823.5,860.9 824.9,866.9 825.2,868.8C825.5,870.8 826.1,874.5 826.3,881.2C826.5,887.8 827.5,927.8 827.9,942.8C828.3,957.7 830.1,1033.2 830.6,1047.2C831.1,1061.2 832.6,1091.0 833.0,1098.7C833.4,1106.4 834.3,1133.3 834.6,1133.1C834.9,1132.9 836.0,1108.7 836.5,1096.5C837.0,1084.2 839.2,994.2 839.8,996.5C840.4,998.9 842.3,1106.4 843.0,1122.2C843.7,1138.1 846.4,1172.6 847.1,1173.0C847.8,1173.4 850.2,1139.1 851.0,1127.1C851.8,1115.1 855.5,1042.0 856.3,1039.3C857.1,1036.6 859.3,1076.3 860.0,1097.3C860.7,1118.2 863.3,1245.5 864.0,1271.7C864.7,1298.0 867.3,1373.1 868.0,1388.5C868.7,1403.8 871.2,1443.5 871.8,1442.7C872.4,1441.9 874.0,1391.7 874.5,1379.5C875.0,1367.2 876.7,1308.6 877.3,1306.7C877.9,1304.8 880.1,1346.8 881.0,1358.1C881.9,1369.3 886.3,1430.2 887.4,1431.7C888.5,1433.2 892.0,1388.7 893.0,1374.9C894.0,1361.1 898.0,1294.0 899.0,1278.1C900.0,1262.2 903.2,1209.7 904.0,1198.2C904.8,1186.7 906.9,1159.3 907.5,1150.3C908.1,1141.4 909.8,1099.9 910.4,1098.8C911.0,1097.6 913.2,1132.9 913.7,1137.7C914.2,1142.6 915.9,1153.0 916.5,1152.7C917.1,1152.5 919.4,1140.9 920.1,1135.0C920.8,1129.2 922.9,1100.3 923.8,1087.6C924.7,1074.9 929.2,1006.3 930.2,994.0C931.2,981.8 934.2,956.7 934.8,951.9C935.4,947.2 936.6,941.9 937.2,941.3C937.8,940.8 940.5,942.9 941.2,945.9C941.9,949.0 944.4,970.9 944.9,975.3C945.4,979.7 946.8,994.7 947.3,995.3C947.8,995.9 949.8,984.2 950.4,982.3C951.0,980.3 952.8,974.4 953.5,973.7C954.2,972.9 957.8,973.2 958.6,973.5C959.4,973.9 961.9,978.1 962.8,977.7C963.7,977.2 967.8,968.5 968.7,968.0C969.6,967.5 972.4,971.0 973.3,972.3C974.2,973.6 977.6,981.6 978.8,982.6C980.0,983.7 984.8,983.7 986.1,984.4C987.4,985.0 992.0,988.9 993.4,989.8C994.8,990.8 1000.4,993.3 1001.6,995.2C1002.8,997.1 1005.3,1008.8 1006.2,1010.6C1007.1,1012.5 1011.0,1014.5 1011.7,1015.8C1012.4,1017.0 1013.8,1022.4 1014.5,1025.0C1015.2,1027.5 1018.3,1041.8 1019.0,1044.1C1019.7,1046.5 1021.9,1050.6 1022.7,1050.8C1023.5,1051.1 1027.2,1047.1 1028.2,1046.8C1029.2,1046.6 1033.0,1046.2 1033.7,1048.0C1034.4,1049.8 1035.9,1061.8 1036.4,1066.6C1036.9,1071.5 1038.4,1092.7 1039.2,1102.4C1040.0,1112.0 1044.7,1164.7 1045.8,1173.8C1046.9,1182.8 1050.1,1195.8 1051.3,1202.7C1052.5,1209.6 1057.7,1242.4 1058.6,1250.3C1059.5,1258.3 1061.0,1283.6 1061.4,1291.1C1061.8,1298.5 1063.0,1326.3 1063.2,1333.2C1063.4,1340.0 1063.8,1360.0 1064.1,1367.7C1064.4,1375.3 1066.2,1409.9 1066.8,1418.3C1067.4,1426.8 1070.0,1457.1 1070.5,1461.6C1071.0,1466.2 1071.8,1468.2 1072.3,1469.1C1072.8,1470.1 1075.4,1471.2 1076.0,1471.7C1076.6,1472.3 1078.2,1473.8 1078.8,1474.8C1079.4,1475.9 1081.8,1481.6 1082.4,1482.9C1083.0,1484.3 1085.2,1490.6 1085.7,1489.8C1086.2,1489.1 1087.5,1480.7 1087.9,1474.7C1088.3,1468.7 1089.3,1430.2 1089.7,1423.0C1090.1,1415.8 1092.0,1393.4 1092.5,1394.6C1093.0,1395.8 1094.7,1429.1 1095.2,1436.2C1095.7,1443.4 1097.3,1471.9 1098.0,1473.5C1098.7,1475.1 1101.9,1458.7 1102.6,1453.7C1103.3,1448.7 1105.5,1424.7 1106.2,1418.0C1106.9,1411.4 1109.2,1385.5 1109.9,1379.8C1110.6,1374.0 1112.9,1361.3 1113.6,1353.8C1114.3,1346.4 1116.5,1308.7 1117.2,1297.3C1117.9,1285.9 1120.2,1235.9 1120.9,1226.8C1121.6,1217.7 1123.8,1197.9 1124.5,1196.1C1125.2,1194.2 1128.2,1206.9 1129.1,1206.3C1130.0,1205.7 1133.4,1188.6 1134.1,1189.8C1134.8,1191.0 1136.9,1214.3 1137.4,1219.4C1137.9,1224.5 1139.6,1247.5 1140.1,1246.6C1140.6,1245.7 1142.4,1216.1 1142.9,1209.4C1143.4,1202.7 1145.6,1174.0 1146.2,1172.1C1146.8,1170.2 1148.7,1185.7 1149.3,1188.1C1149.9,1190.4 1152.2,1197.6 1152.9,1198.0C1153.6,1198.3 1156.7,1193.3 1157.5,1191.6C1158.3,1189.9 1161.4,1180.7 1162.1,1178.7C1162.8,1176.7 1165.1,1168.9 1165.8,1169.7C1166.5,1170.5 1168.8,1185.0 1169.4,1187.8C1170.0,1190.7 1171.7,1202.9 1172.2,1201.6C1172.7,1200.3 1174.5,1178.0 1174.9,1173.4C1175.3,1168.7 1176.1,1152.3 1176.7,1149.7C1177.3,1147.0 1180.4,1144.8 1181.3,1144.0C1182.2,1143.1 1186.0,1141.6 1186.8,1140.3C1187.6,1139.0 1189.8,1130.7 1190.5,1129.3C1191.2,1127.8 1193.3,1124.1 1194.1,1123.8C1194.9,1123.6 1198.7,1126.2 1199.6,1126.6C1200.5,1126.9 1203.4,1126.8 1204.2,1127.5C1205.0,1128.1 1207.7,1131.8 1208.8,1133.9C1209.9,1136.0 1215.0,1147.7 1216.1,1151.2C1217.2,1154.8 1220.0,1168.8 1220.7,1173.3C1221.4,1177.8 1223.8,1196.8 1224.4,1201.0C1225.0,1205.2 1226.6,1217.9 1227.1,1219.9C1227.6,1222.0 1229.4,1224.2 1229.9,1223.6C1230.4,1223.1 1232.1,1217.2 1232.6,1213.6C1233.1,1209.9 1234.6,1185.9 1235.3,1182.7C1236.0,1179.6 1239.2,1180.0 1239.9,1178.8C1240.6,1177.6 1242.9,1170.9 1243.6,1169.6C1244.3,1168.3 1246.5,1163.8 1247.3,1164.1C1248.1,1164.4 1251.9,1170.6 1252.7,1173.1C1253.5,1175.6 1255.7,1188.2 1256.4,1191.5C1257.1,1194.8 1259.4,1206.8 1260.1,1210.0C1260.8,1213.2 1263.9,1225.1 1264.7,1227.0C1265.5,1229.0 1268.6,1227.5 1269.2,1231.7C1269.8,1235.8 1271.2,1266.3 1271.6,1273.1C1272.0,1279.8 1273.0,1302.5 1273.3,1306.7C1273.6,1310.8 1274.1,1315.3 1274.7,1319.6C1275.3,1323.9 1279.4,1350.9 1280.2,1354.5C1281.0,1358.1 1283.3,1361.5 1283.9,1360.1C1284.5,1358.7 1286.1,1343.1 1286.6,1338.4C1287.1,1333.7 1288.9,1308.6 1289.4,1307.7C1289.9,1306.8 1291.7,1323.1 1292.1,1328.4C1292.5,1333.8 1293.7,1361.4 1294.0,1367.1C1294.3,1372.8 1295.1,1388.4 1295.8,1391.5C1296.5,1394.6 1301.5,1399.2 1302.2,1401.3C1302.9,1403.4 1303.5,1410.9 1304.0,1415.0C1304.5,1419.0 1307.0,1441.1 1307.7,1446.1C1308.4,1451.0 1310.7,1466.4 1311.4,1470.0C1312.1,1473.5 1314.3,1483.5 1315.0,1485.6C1315.7,1487.7 1318.1,1492.5 1318.7,1493.3C1319.3,1494.1 1318.7,1494.4 1321.4,1494.5C1328.0,1494.5 1385.2,1494.5 1392.0,1494.5C1396.5,1494.1 1395.8,1490.7 1396.5,1489.6C1397.2,1488.5 1399.5,1483.3 1400.1,1482.4C1400.7,1481.6 1402.3,1480.2 1402.9,1480.4C1403.5,1480.6 1406.0,1484.0 1406.6,1484.6C1407.2,1485.3 1408.7,1487.8 1409.3,1488.0C1409.9,1488.1 1412.3,1486.4 1413.0,1486.3C1413.7,1486.2 1415.8,1486.8 1416.6,1487.0C1417.4,1487.1 1421.3,1488.2 1422.1,1488.0C1422.9,1487.8 1425.1,1486.6 1425.8,1485.1C1426.5,1483.5 1429.6,1473.2 1430.4,1470.9C1431.2,1468.5 1434.2,1460.9 1434.9,1459.4C1435.6,1457.8 1438.0,1453.5 1438.6,1453.6C1439.2,1453.8 1440.9,1458.3 1441.4,1461.2C1441.9,1464.2 1443.6,1488.0 1444.1,1486.8C1444.6,1485.6 1446.3,1453.0 1446.8,1447.6C1447.3,1442.3 1449.2,1429.1 1449.6,1427.0C1450.0,1424.9 1451.0,1422.5 1451.4,1424.4C1451.8,1426.3 1453.7,1442.5 1454.2,1447.8C1454.7,1453.1 1456.3,1482.5 1456.9,1483.4C1457.5,1484.3 1460.0,1462.4 1460.6,1457.7C1461.2,1452.9 1462.9,1434.0 1463.3,1430.5C1463.7,1427.1 1464.8,1421.3 1465.2,1419.6C1465.6,1418.0 1467.3,1412.1 1467.9,1412.2C1468.5,1412.3 1471.1,1421.2 1471.6,1421.0C1472.1,1420.8 1473.2,1413.3 1473.4,1410.3C1473.6,1407.4 1473.9,1395.4 1474.3,1388.2C1474.7,1381.0 1476.8,1332.3 1477.4,1330.3C1478.0,1328.4 1480.2,1361.2 1480.7,1366.6C1481.2,1372.0 1482.5,1393.4 1482.9,1390.6C1483.3,1387.7 1484.8,1343.9 1485.3,1334.6C1485.8,1325.4 1487.6,1292.4 1488.1,1288.1C1488.6,1283.8 1490.1,1286.4 1490.8,1287.0C1491.5,1287.6 1494.6,1293.3 1495.4,1295.0C1496.2,1296.7 1499.0,1305.9 1500.0,1305.9C1501.0,1305.9 1505.2,1297.4 1506.4,1294.9C1507.6,1292.4 1512.5,1281.1 1513.7,1278.5C1514.9,1275.8 1519.2,1267.3 1520.1,1265.7C1521.0,1264.0 1523.2,1260.8 1523.8,1260.1C1524.4,1259.4 1525.8,1258.1 1526.5,1258.3C1527.2,1258.5 1530.3,1261.6 1531.1,1262.1C1531.9,1262.7 1534.8,1264.3 1535.7,1264.4C1536.6,1264.5 1540.2,1263.1 1541.2,1262.9C1542.2,1262.7 1546.0,1261.6 1546.7,1262.0C1547.4,1262.4 1548.8,1264.9 1549.4,1267.4C1550.0,1269.9 1552.4,1287.8 1553.1,1290.0C1553.8,1292.2 1556.0,1292.0 1556.7,1291.8C1557.4,1291.6 1560.6,1288.7 1561.3,1287.7C1562.0,1286.6 1564.4,1281.6 1565.0,1280.2C1565.6,1278.8 1567.7,1272.0 1568.3,1272.0C1568.9,1272.0 1570.9,1278.7 1571.4,1280.3C1571.9,1281.9 1573.6,1289.6 1574.1,1289.6C1574.6,1289.6 1576.4,1281.7 1576.9,1280.2C1577.4,1278.7 1579.0,1272.4 1579.6,1272.9C1580.2,1273.4 1582.6,1284.2 1583.3,1285.8C1584.0,1287.4 1586.3,1290.1 1587.0,1290.4C1587.7,1290.7 1590.0,1288.3 1590.6,1289.4C1591.2,1290.5 1592.9,1300.6 1593.4,1302.4C1593.9,1304.2 1595.5,1310.7 1596.1,1309.7C1596.7,1308.6 1599.2,1293.4 1599.8,1291.2C1600.4,1289.0 1601.8,1285.5 1602.5,1284.9C1603.2,1284.2 1607.1,1284.2 1608.0,1284.0C1608.9,1283.7 1611.7,1282.0 1612.6,1282.1C1613.5,1282.2 1617.1,1283.9 1618.1,1284.9C1619.1,1285.9 1622.8,1290.9 1623.6,1293.1C1624.4,1295.4 1626.7,1308.1 1627.3,1309.7C1627.9,1311.2 1629.4,1310.8 1630.0,1310.5C1630.6,1310.3 1633.0,1307.4 1633.7,1306.8C1634.4,1306.3 1637.3,1303.8 1638.2,1304.1C1639.1,1304.3 1642.6,1308.3 1643.7,1309.6C1644.8,1310.9 1649.3,1316.6 1650.1,1318.6C1650.9,1320.6 1652.4,1330.2 1652.9,1331.6C1653.4,1332.9 1654.9,1333.9 1655.6,1333.5C1656.3,1333.1 1659.4,1327.2 1660.2,1327.0C1661.0,1326.8 1664.0,1330.8 1664.8,1331.6C1665.6,1332.3 1668.7,1335.6 1669.4,1335.3C1670.1,1334.9 1672.3,1328.9 1673.0,1328.0C1673.7,1327.1 1676.0,1324.5 1676.7,1325.2C1677.4,1325.8 1680.4,1335.6 1681.3,1335.2C1682.2,1334.8 1685.9,1320.7 1686.8,1320.6C1687.7,1320.4 1690.7,1332.6 1691.4,1333.4C1692.1,1334.3 1694.3,1330.3 1695.0,1329.8C1695.7,1329.3 1698.9,1327.6 1699.6,1327.9C1700.3,1328.3 1702.6,1331.6 1703.3,1333.5C1704.0,1335.5 1706.3,1348.2 1706.9,1349.8C1707.5,1351.4 1709.1,1353.1 1709.7,1351.8C1710.3,1350.4 1712.7,1334.4 1713.3,1335.1C1713.9,1335.7 1715.6,1355.5 1716.1,1359.2C1716.6,1362.8 1718.2,1377.2 1718.8,1375.7C1719.4,1374.2 1721.9,1346.1 1722.5,1342.5C1723.1,1338.8 1724.7,1334.5 1725.2,1335.1C1725.7,1335.8 1727.4,1346.7 1728.0,1350.0C1728.6,1353.3 1730.9,1368.8 1731.6,1371.7C1732.3,1374.6 1735.5,1382.3 1736.2,1382.0C1736.9,1381.7 1739.3,1370.7 1739.9,1368.2C1740.5,1365.6 1742.1,1355.5 1742.6,1353.7C1743.1,1351.9 1744.6,1346.6 1745.1,1348.3C1745.6,1350.0 1747.7,1367.6 1748.2,1372.6C1748.7,1377.7 1750.5,1404.6 1751.0,1404.4C1751.5,1404.1 1753.8,1374.5 1754.3,1370.0C1754.8,1365.5 1756.3,1353.3 1756.8,1354.2C1757.3,1355.1 1759.5,1373.9 1760.1,1379.9C1760.7,1385.9 1763.1,1416.4 1763.8,1421.2C1764.5,1425.9 1766.8,1431.7 1767.5,1432.7C1768.2,1433.7 1770.4,1433.7 1771.1,1432.7C1771.8,1431.7 1774.2,1423.1 1774.8,1421.8C1775.4,1420.4 1777.1,1416.3 1777.5,1417.6C1777.9,1418.8 1779.1,1431.0 1779.4,1435.7C1779.7,1440.5 1780.8,1466.5 1781.2,1470.3C1781.6,1474.1 1783.0,1479.5 1783.4,1478.2C1783.8,1476.9 1785.3,1459.2 1785.8,1455.6C1786.3,1452.0 1788.0,1438.4 1788.5,1438.0C1789.0,1437.7 1790.8,1448.3 1791.3,1451.6C1791.8,1454.9 1793.5,1471.6 1794.0,1474.7C1794.5,1477.7 1796.3,1484.2 1796.8,1485.5C1797.3,1486.9 1798.9,1489.5 1799.5,1489.7C1800.1,1489.9 1802.6,1488.0 1803.2,1487.9C1803.8,1487.8 1805.3,1488.0 1805.9,1488.5C1806.5,1488.9 1808.9,1492.3 1809.6,1492.9C1810.3,1493.4 1812.9,1494.4 1813.3,1494.5C1813.5,1494.5 1813.3,1494.5 1813.5,1494.5C1825.0,1494.5 1929.3,1494.5 1941.0,1494.5C1943.9,1494.4 1943.2,1493.8 1943.9,1493.8C1944.6,1493.8 1948.0,1494.4 1949.0,1494.5C1950.0,1494.5 1954.1,1494.4 1954.9,1494.3C1955.7,1494.1 1957.1,1493.1 1957.8,1492.9C1958.5,1492.7 1962.3,1492.4 1963.0,1492.1C1963.7,1491.8 1965.4,1490.4 1965.9,1489.7C1966.4,1489.0 1968.2,1485.2 1968.8,1484.5C1969.4,1483.9 1971.9,1483.7 1972.5,1482.9C1973.1,1482.2 1974.9,1478.6 1975.4,1476.5C1975.9,1474.4 1977.9,1461.6 1978.4,1459.5C1978.9,1457.3 1980.8,1453.1 1981.3,1452.7C1981.8,1452.4 1983.4,1454.3 1983.9,1455.4C1984.4,1456.5 1986.6,1463.3 1987.1,1465.0C1987.6,1466.7 1988.8,1472.2 1989.3,1474.2C1989.8,1476.2 1991.8,1487.5 1992.3,1487.0C1992.8,1486.6 1994.1,1471.8 1994.5,1469.1C1994.9,1466.4 1996.3,1458.4 1996.7,1457.1C1997.1,1455.9 1998.2,1455.1 1998.6,1455.3C1999.0,1455.5 2000.7,1457.7 2001.1,1459.2C2001.5,1460.8 2003.0,1471.2 2003.3,1472.5C2003.6,1473.9 2004.4,1475.4 2004.7,1474.6C2005.0,1473.7 2006.5,1464.2 2006.9,1462.9C2007.3,1461.7 2008.6,1460.3 2009.1,1460.5C2009.6,1460.7 2011.6,1463.7 2012.1,1465.1C2012.6,1466.4 2013.8,1473.5 2014.2,1475.5C2014.6,1477.6 2015.9,1486.4 2016.4,1487.7C2016.9,1489.1 2018.9,1491.2 2019.4,1490.7C2019.9,1490.2 2021.1,1484.3 2021.6,1482.5C2022.1,1480.8 2024.4,1472.3 2024.9,1471.7C2025.4,1471.1 2026.8,1474.9 2027.4,1475.8C2028.0,1476.7 2030.5,1481.9 2031.1,1481.9C2031.7,1481.8 2033.3,1477.5 2034.0,1474.9C2034.7,1472.2 2037.5,1456.5 2038.4,1452.6C2039.3,1448.7 2042.8,1434.7 2043.6,1431.6C2044.4,1428.5 2046.5,1420.0 2047.2,1417.9C2047.9,1415.8 2050.3,1408.7 2050.9,1408.5C2051.5,1408.2 2053.3,1413.0 2053.8,1414.8C2054.3,1416.6 2055.6,1426.2 2056.0,1428.4C2056.4,1430.7 2057.8,1439.9 2058.2,1439.9C2058.6,1439.8 2060.0,1429.5 2060.4,1427.6C2060.8,1425.7 2062.1,1418.5 2062.6,1418.5C2063.1,1418.5 2065.0,1425.3 2065.5,1427.5C2066.0,1429.6 2067.9,1440.1 2068.5,1442.5C2069.1,1444.9 2071.5,1454.4 2072.1,1454.4C2072.7,1454.3 2074.5,1444.7 2075.1,1442.0C2075.7,1439.2 2078.1,1424.6 2078.7,1424.0C2079.3,1423.5 2081.1,1434.1 2081.6,1436.2C2082.1,1438.2 2084.1,1445.3 2084.6,1446.5C2085.1,1447.8 2086.9,1450.3 2087.5,1450.0C2088.1,1449.6 2090.5,1445.1 2091.2,1442.9C2091.9,1440.7 2094.9,1428.8 2095.6,1426.0C2096.3,1423.2 2098.6,1413.0 2099.2,1412.2C2099.8,1411.5 2101.6,1416.6 2102.2,1417.7C2102.8,1418.7 2105.1,1424.0 2105.8,1424.0C2106.5,1424.0 2109.3,1418.6 2110.2,1417.7C2111.1,1416.7 2114.4,1413.7 2115.3,1413.6C2116.2,1413.5 2119.6,1416.2 2120.5,1416.3C2121.4,1416.4 2124.7,1414.8 2125.6,1415.0C2126.5,1415.1 2129.8,1417.4 2130.7,1418.0C2131.6,1418.5 2134.3,1420.1 2135.1,1420.6C2135.9,1421.0 2138.9,1422.2 2139.5,1423.1C2140.1,1424.0 2141.1,1429.6 2141.7,1430.7C2142.3,1431.9 2145.4,1435.5 2146.1,1435.5C2146.8,1435.6 2149.1,1431.9 2149.8,1431.3C2150.5,1430.6 2152.7,1428.5 2153.4,1428.3C2154.1,1428.2 2156.9,1429.7 2157.8,1429.4C2158.7,1429.1 2162.0,1426.1 2163.0,1425.5C2164.0,1424.9 2167.9,1422.7 2168.8,1422.7C2169.7,1422.7 2172.3,1425.3 2173.2,1425.9C2174.1,1426.5 2178.0,1428.9 2179.1,1429.5C2180.2,1430.0 2183.9,1432.1 2184.9,1432.2C2185.9,1432.3 2189.1,1431.0 2190.1,1430.4C2191.1,1429.8 2195.0,1425.5 2195.9,1425.4C2196.8,1425.2 2199.0,1428.0 2199.6,1428.6C2200.2,1429.2 2201.9,1431.3 2202.5,1431.9C2203.1,1432.5 2205.7,1434.5 2206.2,1435.6C2206.7,1436.6 2208.0,1441.7 2208.4,1443.3C2208.8,1444.9 2210.2,1452.4 2210.6,1453.6C2211.0,1454.8 2212.3,1457.6 2212.8,1456.7C2213.3,1455.8 2215.2,1445.6 2215.7,1443.7C2216.2,1441.7 2218.1,1435.4 2218.6,1435.1C2219.1,1434.7 2221.1,1438.7 2221.6,1439.4C2222.1,1440.1 2223.9,1442.7 2224.5,1443.1C2225.1,1443.5 2228.1,1444.0 2228.5,1444.1"/>
<path stroke="#8BBC48" d="M299.5,1134.5C298.2,1134.6 298.2,1134.5 298.2,1136.4C298.9,1138.3 305.9,1157.3 307.4,1155.6C308.9,1153.9 313.5,1116.6 314.7,1117.1C315.9,1117.6 319.4,1159.0 320.2,1161.5C321.0,1164.0 323.3,1142.9 323.9,1144.4C324.5,1145.8 326.0,1168.4 326.6,1177.9C327.2,1187.4 330.0,1250.2 330.7,1250.1C331.4,1250.0 333.5,1189.4 334.0,1177.1C334.5,1164.8 336.0,1122.2 336.7,1113.9C337.4,1105.6 340.4,1092.3 341.3,1085.3C342.2,1078.3 346.1,1043.1 346.8,1035.7C347.5,1028.4 349.0,1006.6 349.5,1003.4C350.0,1000.1 351.6,999.3 352.3,1000.1C353.0,1000.9 356.1,1011.8 356.8,1012.2C357.5,1012.7 359.8,1006.5 360.5,1004.8C361.2,1003.2 364.4,996.4 365.1,994.4C365.8,992.5 368.1,986.5 368.8,982.9C369.5,979.3 372.6,959.5 373.3,954.7C374.0,949.9 376.3,932.8 377.0,929.3C377.7,925.8 380.6,917.7 381.6,916.0C382.6,914.4 387.5,915.5 388.4,911.0C389.3,906.5 391.2,874.6 391.9,866.3C392.6,858.0 395.8,824.0 396.5,818.7C397.2,813.5 399.1,806.9 399.9,808.4C400.7,809.9 404.6,838.5 405.6,835.5C406.6,832.5 410.4,782.4 411.3,775.0C412.2,767.5 415.0,753.8 415.9,752.8C416.8,751.9 420.2,763.9 421.0,764.6C421.8,765.4 424.3,765.9 425.1,761.0C425.9,756.2 429.1,717.0 429.7,711.0C430.3,705.0 431.2,695.7 431.9,693.9C432.6,692.0 436.8,692.6 437.7,690.6C438.6,688.6 441.3,671.2 442.2,671.7C443.1,672.3 447.0,698.0 448.0,696.9C449.0,695.8 452.8,662.7 453.7,659.8C454.6,656.9 457.4,664.7 458.3,664.7C459.2,664.6 463.1,657.5 464.0,659.2C464.9,660.8 467.9,679.9 468.6,683.2C469.3,686.5 471.4,694.7 472.0,695.8C472.6,696.9 474.7,693.0 475.4,695.3C476.1,697.6 479.1,717.4 480.0,721.1C480.9,724.7 484.7,735.0 485.7,735.6C486.7,736.1 490.6,729.1 491.5,727.4C492.4,725.6 495.3,713.0 496.0,715.6C496.7,718.2 498.2,747.5 498.8,756.0C499.4,764.5 501.7,809.0 502.5,810.2C503.3,811.3 506.5,777.4 507.5,768.7C508.5,760.1 512.2,720.8 513.2,713.7C514.2,706.7 517.4,690.3 518.3,690.0C519.2,689.7 522.6,707.0 523.5,710.7C524.4,714.4 527.2,730.3 528.1,730.8C529.0,731.3 533.0,716.3 533.8,716.7C534.6,717.1 536.6,732.1 537.3,735.4C538.0,738.7 540.6,752.3 541.4,753.1C542.2,753.8 545.5,745.9 546.4,743.6C547.3,741.4 550.2,729.2 551.0,728.0C551.8,726.8 554.7,730.7 555.6,730.3C556.5,730.0 560.1,722.9 560.8,724.3C561.5,725.7 563.0,741.5 563.6,746.1C564.2,750.8 566.2,776.3 567.0,776.0C567.8,775.7 571.7,749.0 572.7,742.5C573.7,735.9 577.3,708.5 578.5,703.4C579.7,698.2 585.3,686.1 586.5,685.6C587.7,685.2 591.3,695.7 592.2,698.1C593.1,700.6 595.8,710.0 596.8,713.0C597.8,716.0 602.8,726.4 603.6,731.5C604.4,736.5 605.4,759.1 605.9,769.2C606.4,779.3 608.2,839.6 609.4,843.5C610.6,847.5 618.3,818.4 619.7,813.1C621.1,807.8 624.5,788.2 625.4,784.5C626.3,780.9 629.2,770.4 630.0,772.5C630.8,774.5 634.0,800.1 634.6,807.5C635.2,814.8 635.9,845.7 636.2,854.3C636.5,862.9 637.4,892.2 637.7,903.0C638.0,913.7 639.2,961.8 639.6,974.2C640.0,986.5 641.2,1040.7 641.8,1040.5C642.4,1040.3 645.2,984.6 646.0,971.6C646.8,958.6 649.4,909.8 650.2,896.0C651.0,882.1 653.8,829.4 654.4,817.4C655.0,805.5 656.6,774.5 657.2,763.6C657.8,752.7 660.3,706.8 661.0,696.5C661.7,686.2 664.6,658.3 665.5,649.0C666.4,639.8 670.1,603.0 671.0,593.4C671.9,583.7 674.8,549.0 675.5,541.6C676.2,534.2 678.3,503.7 678.7,510.9C679.1,518.1 679.6,595.8 679.8,621.5C680.0,647.1 680.4,765.9 680.6,795.5C680.8,825.1 681.4,926.8 681.6,950.7C681.8,974.6 682.9,1041.7 683.2,1061.3C683.5,1081.0 684.9,1168.7 685.3,1169.0C685.7,1169.2 687.0,1083.8 687.4,1064.1C687.8,1044.4 689.2,974.7 689.5,950.2C689.8,925.7 690.6,818.5 690.8,792.1C691.0,765.7 691.2,677.1 691.3,656.9C691.4,636.7 691.5,582.3 691.6,567.2C691.7,552.1 692.3,501.9 692.4,489.4C692.5,476.9 692.7,434.6 693.0,428.8C693.3,422.9 694.8,423.8 695.2,424.3C695.6,424.8 697.5,434.2 697.9,434.7C698.3,435.3 699.7,432.3 700.1,430.7C700.5,429.1 701.9,419.7 702.3,416.7C702.7,413.6 703.6,399.0 704.0,396.6C704.4,394.2 706.1,390.1 706.7,389.6C707.3,389.2 710.0,390.9 710.5,391.6C711.0,392.4 712.3,394.5 712.7,398.1C713.1,401.7 714.1,426.4 714.4,431.7C714.7,437.0 715.8,452.9 716.0,456.9C716.2,460.8 716.7,475.6 717.1,475.8C717.5,475.9 719.4,460.4 719.9,458.7C720.4,456.9 722.2,455.3 722.6,456.3C723.0,457.3 724.5,467.4 724.8,469.6C725.1,471.8 725.6,479.3 725.9,481.0C726.2,482.7 727.1,488.1 727.6,488.6C728.1,489.0 730.8,485.8 731.4,486.1C732.0,486.4 734.1,489.4 734.7,491.9C735.3,494.4 737.5,509.8 738.0,514.2C738.5,518.5 739.4,535.9 739.7,540.5C740.0,545.0 740.6,553.3 740.8,565.0C741.0,576.8 741.6,650.9 741.9,670.9C742.2,690.8 744.0,783.3 744.5,786.7C745.0,790.0 746.9,722.3 747.5,708.2C748.1,694.2 750.7,640.3 751.2,630.7C751.7,621.1 752.4,605.5 752.7,601.4C753.0,597.3 754.2,585.7 754.5,585.3C754.8,584.9 756.1,593.9 756.4,596.9C756.7,599.8 757.9,612.5 758.2,618.4C758.5,624.3 759.7,662.1 760.1,662.4C760.5,662.7 761.8,629.2 762.2,621.4C762.6,613.6 763.9,583.0 764.4,575.5C764.9,567.9 766.8,542.7 767.4,537.8C768.0,532.8 770.3,522.7 771.0,520.1C771.7,517.4 774.1,509.1 774.7,508.4C775.3,507.6 776.9,509.2 777.3,511.7C777.7,514.2 778.4,531.2 778.7,536.1C779.0,541.0 780.2,561.7 780.5,566.6C780.8,571.4 781.2,580.4 781.6,589.8C782.0,599.3 784.1,671.8 784.6,671.6C785.1,671.4 787.1,599.1 787.5,587.7C787.9,576.4 788.4,550.4 788.6,545.1C788.8,539.8 789.4,530.8 789.7,528.9C790.0,526.9 791.8,523.9 792.3,523.7C792.8,523.4 794.3,525.0 794.8,525.9C795.3,526.8 797.4,532.4 798.1,533.8C798.8,535.1 801.8,539.5 802.5,540.9C803.2,542.2 805.1,546.9 805.5,548.7C805.9,550.5 806.7,559.3 806.9,560.9C807.1,562.6 807.7,566.5 808.0,567.1C808.3,567.8 809.4,568.5 809.9,568.2C810.4,567.8 812.9,563.6 813.5,562.9C814.1,562.2 816.2,560.3 816.8,560.5C817.4,560.6 819.5,563.4 820.1,564.5C820.7,565.7 822.5,571.6 823.0,573.1C823.5,574.6 824.9,579.6 825.2,581.3C825.5,582.9 826.1,582.4 826.3,591.0C826.5,599.5 827.5,660.3 827.9,676.1C828.3,691.9 830.1,751.5 830.6,766.9C831.1,782.4 832.6,835.2 833.0,847.8C833.4,860.5 834.3,907.6 834.6,907.3C834.9,907.0 836.0,860.4 836.5,844.3C837.0,828.2 839.2,728.0 839.8,728.0C840.4,728.0 842.3,824.3 843.0,844.6C843.7,865.0 846.4,950.2 847.1,954.2C847.8,958.3 850.2,903.6 851.0,889.8C851.8,875.9 855.5,797.3 856.3,800.2C857.1,803.1 859.3,891.5 860.0,921.7C860.7,951.9 863.3,1101.9 864.0,1135.7C864.7,1169.4 867.3,1275.0 868.0,1296.7C868.7,1318.5 871.2,1380.0 871.8,1377.4C872.4,1374.7 874.0,1286.7 874.5,1267.4C875.0,1248.0 876.7,1162.9 877.3,1162.3C877.9,1161.8 880.1,1243.1 881.0,1260.9C881.9,1278.8 886.3,1360.8 887.4,1360.7C888.5,1360.6 892.0,1283.2 893.0,1259.7C894.0,1236.2 898.0,1124.3 899.0,1099.1C900.0,1073.9 903.2,996.3 904.0,979.7C904.8,963.1 906.9,923.5 907.5,914.8C908.1,906.1 909.8,881.9 910.4,883.3C911.0,884.7 913.2,923.8 913.7,930.1C914.2,936.4 915.9,953.8 916.5,953.5C917.1,953.2 919.4,936.0 920.1,926.8C920.8,917.6 922.9,867.2 923.8,851.4C924.7,835.7 929.2,764.2 930.2,751.7C931.2,739.2 934.2,716.9 934.8,712.5C935.4,708.2 936.6,703.0 937.2,703.2C937.8,703.5 940.5,710.8 941.2,715.4C941.9,720.0 944.4,748.9 944.9,754.4C945.4,759.8 946.8,776.2 947.3,776.1C947.8,776.1 949.8,757.0 950.4,753.7C951.0,750.3 952.8,739.5 953.5,739.0C954.2,738.4 957.8,746.4 958.6,747.6C959.4,748.8 961.9,752.7 962.8,752.5C963.7,752.2 967.8,744.5 968.7,744.3C969.6,744.2 972.4,749.2 973.3,751.2C974.2,753.2 977.6,765.1 978.8,766.8C980.0,768.5 984.8,768.9 986.1,770.0C987.4,771.0 992.0,777.3 993.4,778.7C994.8,780.1 1000.4,783.8 1001.6,785.9C1002.8,788.0 1005.3,800.2 1006.2,802.1C1007.1,803.9 1011.0,805.1 1011.7,806.6C1012.4,808.1 1013.8,815.4 1014.5,818.7C1015.2,821.9 1018.3,839.7 1019.0,842.7C1019.7,845.6 1021.9,851.2 1022.7,851.7C1023.5,852.1 1027.2,847.7 1028.2,847.5C1029.2,847.4 1033.0,848.2 1033.7,850.1C1034.4,851.9 1035.9,864.0 1036.4,868.5C1036.9,873.0 1038.4,890.8 1039.2,900.2C1040.0,909.6 1044.7,960.8 1045.8,973.0C1046.9,985.1 1050.1,1024.0 1051.3,1035.2C1052.5,1046.5 1057.7,1088.8 1058.6,1098.1C1059.5,1107.4 1061.0,1129.5 1061.4,1138.5C1061.8,1147.4 1063.0,1187.0 1063.2,1197.4C1063.4,1207.8 1063.8,1241.6 1064.1,1254.5C1064.4,1267.4 1066.2,1326.0 1066.8,1341.1C1067.4,1356.2 1070.0,1413.8 1070.5,1422.4C1071.0,1430.9 1071.8,1434.2 1072.3,1435.8C1072.8,1437.5 1075.4,1439.3 1076.0,1440.6C1076.6,1441.9 1078.2,1447.6 1078.8,1450.2C1079.4,1452.8 1081.8,1466.8 1082.4,1470.0C1083.0,1473.1 1085.2,1486.2 1085.7,1485.2C1086.2,1484.1 1087.5,1468.5 1087.9,1458.1C1088.3,1447.8 1089.3,1381.5 1089.7,1370.2C1090.1,1358.9 1092.0,1331.5 1092.5,1332.1C1093.0,1332.8 1094.7,1367.8 1095.2,1377.1C1095.7,1386.4 1097.3,1433.4 1098.0,1435.1C1098.7,1436.9 1101.9,1406.3 1102.6,1396.6C1103.3,1386.9 1105.5,1339.6 1106.2,1327.5C1106.9,1315.4 1109.2,1271.1 1109.9,1262.5C1110.6,1253.9 1112.9,1241.2 1113.6,1231.6C1114.3,1222.0 1116.5,1170.0 1117.2,1155.8C1117.9,1141.6 1120.2,1083.7 1120.9,1073.5C1121.6,1063.4 1123.8,1043.5 1124.5,1042.7C1125.2,1041.9 1128.2,1064.0 1129.1,1064.6C1130.0,1065.2 1133.4,1048.2 1134.1,1049.5C1134.8,1050.8 1136.9,1073.8 1137.4,1079.1C1137.9,1084.4 1139.6,1109.7 1140.1,1108.4C1140.6,1107.1 1142.4,1072.8 1142.9,1064.8C1143.4,1056.8 1145.6,1022.5 1146.2,1019.6C1146.8,1016.8 1148.7,1031.2 1149.3,1033.0C1149.9,1034.8 1152.2,1039.8 1152.9,1040.1C1153.6,1040.3 1156.7,1037.3 1157.5,1036.1C1158.3,1034.9 1161.4,1028.1 1162.1,1026.7C1162.8,1025.3 1165.1,1020.2 1165.8,1020.7C1166.5,1021.1 1168.8,1029.7 1169.4,1031.8C1170.0,1033.9 1171.7,1045.7 1172.2,1044.1C1172.7,1042.5 1174.5,1018.8 1174.9,1014.2C1175.3,1009.6 1176.1,995.5 1176.7,993.2C1177.3,990.8 1180.4,989.1 1181.3,988.2C1182.2,987.4 1186.0,984.9 1186.8,983.7C1187.6,982.5 1189.8,976.3 1190.5,975.1C1191.2,973.9 1193.3,970.0 1194.1,970.3C1194.9,970.5 1198.7,976.9 1199.6,977.8C1200.5,978.8 1203.4,979.6 1204.2,980.6C1205.0,981.6 1207.7,986.4 1208.8,988.8C1209.9,991.2 1215.0,1003.8 1216.1,1007.1C1217.2,1010.3 1220.0,1020.8 1220.7,1025.1C1221.4,1029.4 1223.8,1049.9 1224.4,1054.7C1225.0,1059.6 1226.6,1076.4 1227.1,1079.0C1227.6,1081.7 1229.4,1085.1 1229.9,1084.3C1230.4,1083.5 1232.1,1073.7 1232.6,1070.2C1233.1,1066.8 1234.6,1048.8 1235.3,1046.0C1236.0,1043.1 1239.2,1040.2 1239.9,1038.7C1240.6,1037.2 1242.9,1030.6 1243.6,1029.2C1244.3,1027.8 1246.5,1023.0 1247.3,1023.4C1248.1,1023.7 1251.9,1031.2 1252.7,1033.5C1253.5,1035.7 1255.7,1044.8 1256.4,1048.1C1257.1,1051.4 1259.4,1066.3 1260.1,1070.4C1260.8,1074.4 1263.9,1089.8 1264.7,1092.9C1265.5,1095.9 1268.6,1100.8 1269.2,1104.4C1269.8,1107.9 1271.2,1125.9 1271.6,1132.8C1272.0,1139.8 1273.0,1175.5 1273.3,1181.7C1273.6,1188.0 1274.1,1196.3 1274.7,1202.3C1275.3,1208.3 1279.4,1241.8 1280.2,1248.3C1281.0,1254.7 1283.3,1274.1 1283.9,1273.8C1284.5,1273.6 1286.1,1251.8 1286.6,1245.6C1287.1,1239.5 1288.9,1205.9 1289.4,1205.4C1289.9,1204.8 1291.7,1230.7 1292.1,1239.2C1292.5,1247.6 1293.7,1291.9 1294.0,1299.5C1294.3,1307.2 1295.1,1320.9 1295.8,1324.2C1296.5,1327.4 1301.5,1332.5 1302.2,1335.3C1302.9,1338.2 1303.5,1349.7 1304.0,1356.1C1304.5,1362.5 1307.0,1398.3 1307.7,1406.6C1308.4,1414.9 1310.7,1441.5 1311.4,1447.8C1312.1,1454.1 1314.3,1472.7 1315.0,1476.7C1315.7,1480.7 1318.1,1490.5 1318.7,1492.1C1319.3,1493.7 1318.7,1494.3 1321.4,1494.5C1328.0,1494.5 1385.2,1494.5 1392.0,1494.5C1396.5,1493.6 1395.8,1486.8 1396.5,1484.7C1397.2,1482.5 1399.5,1472.0 1400.1,1470.4C1400.7,1468.8 1402.3,1466.3 1402.9,1466.7C1403.5,1467.2 1406.0,1473.9 1406.6,1475.3C1407.2,1476.7 1408.7,1481.6 1409.3,1481.9C1409.9,1482.3 1412.3,1479.0 1413.0,1478.9C1413.7,1478.8 1415.8,1480.1 1416.6,1480.4C1417.4,1480.7 1421.3,1482.8 1422.1,1482.5C1422.9,1482.3 1425.1,1480.1 1425.8,1477.4C1426.5,1474.7 1429.6,1456.3 1430.4,1452.2C1431.2,1448.2 1434.2,1435.0 1434.9,1432.4C1435.6,1429.8 1438.0,1422.8 1438.6,1423.3C1439.2,1423.8 1440.9,1432.5 1441.4,1437.7C1441.9,1443.0 1443.6,1483.4 1444.1,1481.6C1444.6,1479.8 1446.3,1426.1 1446.8,1417.4C1447.3,1408.8 1449.2,1388.7 1449.6,1385.5C1450.0,1382.2 1451.0,1378.7 1451.4,1381.1C1451.8,1383.4 1453.7,1403.4 1454.2,1411.6C1454.7,1419.9 1456.3,1471.3 1456.9,1472.5C1457.5,1473.6 1460.0,1433.0 1460.6,1424.4C1461.2,1415.8 1462.9,1382.3 1463.3,1376.5C1463.7,1370.6 1464.8,1361.4 1465.2,1359.0C1465.6,1356.5 1467.3,1350.4 1467.9,1349.2C1468.5,1348.0 1471.1,1348.7 1471.6,1345.2C1472.1,1341.8 1473.2,1316.1 1473.4,1310.6C1473.6,1305.2 1473.9,1290.1 1474.3,1284.6C1474.7,1279.1 1476.8,1248.2 1477.4,1249.5C1478.0,1250.8 1480.2,1292.3 1480.7,1299.1C1481.2,1305.9 1482.5,1328.7 1482.9,1324.7C1483.3,1320.6 1484.8,1264.3 1485.3,1253.8C1485.8,1243.4 1487.6,1213.2 1488.1,1208.3C1488.6,1203.4 1490.1,1199.4 1490.8,1199.3C1491.5,1199.2 1494.6,1205.8 1495.4,1207.3C1496.2,1208.8 1499.0,1216.0 1500.0,1216.0C1501.0,1215.9 1505.2,1209.3 1506.4,1206.9C1507.6,1204.4 1512.5,1190.8 1513.7,1188.4C1514.9,1186.1 1519.2,1182.0 1520.1,1180.6C1521.0,1179.2 1523.2,1173.6 1523.8,1172.6C1524.4,1171.6 1525.8,1169.4 1526.5,1169.5C1527.2,1169.7 1530.3,1173.4 1531.1,1174.2C1531.9,1175.1 1534.8,1178.5 1535.7,1179.0C1536.6,1179.4 1540.2,1179.1 1541.2,1179.0C1542.2,1178.8 1546.0,1177.1 1546.7,1177.4C1547.4,1177.7 1548.8,1180.0 1549.4,1182.1C1550.0,1184.3 1552.4,1198.8 1553.1,1201.1C1553.8,1203.3 1556.0,1207.1 1556.7,1207.3C1557.4,1207.6 1560.6,1205.3 1561.3,1204.2C1562.0,1203.0 1564.4,1196.0 1565.0,1194.7C1565.6,1193.4 1567.7,1189.4 1568.3,1190.0C1568.9,1190.5 1570.9,1198.9 1571.4,1201.1C1571.9,1203.2 1573.6,1213.6 1574.1,1213.6C1574.6,1213.6 1576.4,1203.0 1576.9,1201.1C1577.4,1199.1 1579.0,1191.6 1579.6,1191.6C1580.2,1191.6 1582.6,1199.7 1583.3,1201.1C1584.0,1202.5 1586.3,1206.7 1587.0,1207.3C1587.7,1208.0 1590.0,1206.7 1590.6,1208.1C1591.2,1209.5 1592.9,1220.9 1593.4,1223.1C1593.9,1225.3 1595.5,1233.4 1596.1,1232.5C1596.7,1231.7 1599.2,1215.8 1599.8,1213.6C1600.4,1211.4 1601.8,1208.5 1602.5,1208.1C1603.2,1207.7 1607.1,1209.0 1608.0,1208.9C1608.9,1208.8 1611.7,1207.2 1612.6,1207.3C1613.5,1207.5 1617.1,1209.5 1618.1,1210.4C1619.1,1211.4 1622.8,1216.4 1623.6,1218.4C1624.4,1220.3 1626.7,1230.8 1627.3,1232.5C1627.9,1234.2 1629.4,1236.9 1630.0,1237.3C1630.6,1237.6 1633.0,1236.8 1633.7,1236.5C1634.4,1236.2 1637.3,1233.7 1638.2,1234.1C1639.1,1234.4 1642.6,1239.1 1643.7,1240.4C1644.8,1241.6 1649.3,1246.4 1650.1,1248.3C1650.9,1250.1 1652.4,1259.2 1652.9,1260.9C1653.4,1262.6 1654.9,1266.9 1655.6,1267.2C1656.3,1267.5 1659.4,1263.9 1660.2,1264.0C1661.0,1264.2 1664.0,1267.7 1664.8,1268.8C1665.6,1269.8 1668.7,1276.0 1669.4,1275.9C1670.1,1275.7 1672.3,1268.4 1673.0,1267.2C1673.7,1266.0 1676.0,1262.3 1676.7,1262.5C1677.4,1262.6 1680.4,1269.2 1681.3,1268.8C1682.2,1268.3 1685.9,1257.2 1686.8,1257.0C1687.7,1256.7 1690.7,1265.2 1691.4,1265.9C1692.1,1266.5 1694.3,1264.6 1695.0,1264.4C1695.7,1264.2 1698.9,1263.4 1699.6,1263.8C1700.3,1264.3 1702.6,1267.7 1703.3,1269.5C1704.0,1271.3 1706.3,1281.6 1706.9,1283.8C1707.5,1285.9 1709.1,1294.3 1709.7,1293.3C1710.3,1292.4 1712.7,1272.8 1713.3,1273.1C1713.9,1273.4 1715.6,1292.8 1716.1,1296.7C1716.6,1300.7 1718.2,1318.6 1718.8,1317.2C1719.4,1315.8 1721.9,1285.1 1722.5,1281.3C1723.1,1277.5 1724.7,1274.4 1725.2,1275.2C1725.7,1275.9 1727.4,1286.0 1728.0,1289.4C1728.6,1292.8 1730.9,1309.8 1731.6,1313.0C1732.3,1316.1 1735.5,1324.8 1736.2,1324.8C1736.9,1324.8 1739.3,1315.7 1739.9,1313.3C1740.5,1310.8 1742.1,1299.7 1742.6,1297.8C1743.1,1295.9 1744.6,1289.4 1745.1,1291.6C1745.6,1293.9 1747.7,1317.0 1748.2,1322.8C1748.7,1328.5 1750.5,1356.0 1751.0,1355.2C1751.5,1354.5 1753.8,1319.5 1754.3,1314.1C1754.8,1308.7 1756.3,1295.0 1756.8,1295.6C1757.3,1296.3 1759.5,1315.6 1760.1,1321.7C1760.7,1327.9 1763.1,1358.5 1763.8,1363.9C1764.5,1369.4 1766.8,1380.1 1767.5,1382.4C1768.2,1384.7 1770.4,1389.8 1771.1,1389.5C1771.8,1389.1 1774.2,1380.6 1774.8,1378.8C1775.4,1377.0 1777.1,1367.5 1777.5,1369.8C1777.9,1372.0 1779.1,1396.1 1779.4,1404.2C1779.7,1412.2 1780.8,1453.2 1781.2,1459.3C1781.6,1465.5 1783.0,1474.6 1783.4,1472.5C1783.8,1470.5 1785.3,1443.0 1785.8,1436.5C1786.3,1430.0 1788.0,1401.7 1788.5,1400.3C1789.0,1399.0 1790.8,1415.7 1791.3,1421.0C1791.8,1426.3 1793.5,1454.3 1794.0,1459.4C1794.5,1464.5 1796.3,1475.7 1796.8,1478.0C1797.3,1480.4 1798.9,1485.1 1799.5,1485.4C1800.1,1485.7 1802.6,1481.6 1803.2,1481.4C1803.8,1481.1 1805.3,1481.5 1805.9,1482.4C1806.5,1483.3 1808.9,1490.2 1809.6,1491.3C1810.3,1492.3 1812.9,1494.2 1813.3,1494.5C1813.5,1494.5 1813.3,1494.5 1813.5,1494.5C1825.0,1494.5 1929.3,1494.5 1941.0,1494.5C1943.9,1494.4 1943.2,1493.1 1943.9,1493.1C1944.6,1493.1 1948.0,1494.4 1949.0,1494.4C1950.0,1494.5 1954.1,1494.3 1954.9,1494.0C1955.7,1493.7 1957.1,1491.7 1957.8,1491.4C1958.5,1491.0 1962.3,1490.4 1963.0,1489.9C1963.7,1489.4 1965.4,1486.8 1965.9,1485.6C1966.4,1484.4 1968.2,1477.6 1968.8,1476.6C1969.4,1475.6 1971.9,1475.6 1972.5,1474.4C1973.1,1473.3 1974.9,1467.5 1975.4,1464.1C1975.9,1460.7 1977.9,1440.1 1978.4,1436.8C1978.9,1433.4 1980.8,1427.9 1981.3,1427.2C1981.8,1426.5 1983.4,1428.0 1983.9,1429.1C1984.4,1430.1 1986.6,1436.7 1987.1,1439.1C1987.6,1441.5 1988.8,1452.1 1989.3,1455.7C1989.8,1459.4 1991.8,1481.0 1992.3,1479.9C1992.8,1478.8 1994.1,1449.2 1994.5,1443.9C1994.9,1438.6 1996.3,1423.3 1996.7,1421.1C1997.1,1418.8 1998.2,1418.4 1998.6,1419.0C1999.0,1419.7 2000.7,1425.1 2001.1,1428.3C2001.5,1431.4 2003.0,1451.4 2003.3,1454.0C2003.6,1456.6 2004.4,1459.2 2004.7,1457.5C2005.0,1455.8 2006.5,1437.8 2006.9,1435.4C2007.3,1432.9 2008.6,1430.0 2009.1,1430.2C2009.6,1430.5 2011.6,1435.6 2012.1,1438.1C2012.6,1440.5 2013.8,1453.8 2014.2,1457.7C2014.6,1461.6 2015.9,1478.6 2016.4,1481.3C2016.9,1483.9 2018.9,1487.8 2019.4,1486.9C2019.9,1486.0 2021.1,1474.7 2021.6,1471.7C2022.1,1468.8 2024.4,1455.5 2024.9,1454.6C2025.4,1453.6 2026.8,1459.6 2027.4,1461.0C2028.0,1462.5 2030.5,1471.2 2031.1,1471.1C2031.7,1471.0 2033.3,1464.1 2034.0,1460.1C2034.7,1456.1 2037.5,1431.8 2038.4,1426.4C2039.3,1420.9 2042.8,1403.0 2043.6,1399.1C2044.4,1395.2 2046.5,1385.3 2047.2,1383.1C2047.9,1380.8 2050.3,1374.2 2050.9,1373.9C2051.5,1373.7 2053.3,1378.2 2053.8,1380.4C2054.3,1382.5 2055.6,1395.2 2056.0,1398.1C2056.4,1401.1 2057.8,1413.3 2058.2,1413.2C2058.6,1413.2 2060.0,1400.0 2060.4,1397.8C2060.8,1395.5 2062.1,1388.0 2062.6,1388.0C2063.1,1388.1 2065.0,1395.4 2065.5,1398.0C2066.0,1400.7 2067.9,1414.3 2068.5,1417.4C2069.1,1420.6 2071.5,1432.9 2072.1,1432.9C2072.7,1432.8 2074.5,1420.5 2075.1,1417.1C2075.7,1413.8 2078.1,1396.1 2078.7,1395.5C2079.3,1394.9 2081.1,1407.7 2081.6,1410.2C2082.1,1412.6 2084.1,1421.0 2084.6,1422.3C2085.1,1423.6 2086.9,1425.1 2087.5,1424.7C2088.1,1424.2 2090.5,1419.8 2091.2,1417.3C2091.9,1414.8 2094.9,1400.3 2095.6,1397.1C2096.3,1393.9 2098.6,1382.4 2099.2,1381.7C2099.8,1381.0 2101.6,1387.7 2102.2,1389.2C2102.8,1390.6 2105.1,1397.9 2105.8,1397.9C2106.5,1397.9 2109.3,1390.5 2110.2,1389.2C2111.1,1387.9 2114.4,1383.7 2115.3,1383.6C2116.2,1383.4 2119.6,1387.1 2120.5,1387.3C2121.4,1387.5 2124.7,1385.3 2125.6,1385.4C2126.5,1385.6 2129.8,1388.8 2130.7,1389.3C2131.6,1389.8 2134.3,1390.9 2135.1,1391.2C2135.9,1391.6 2138.9,1392.0 2139.5,1393.1C2140.1,1394.2 2141.1,1401.8 2141.7,1403.2C2142.3,1404.6 2145.4,1408.6 2146.1,1408.7C2146.8,1408.7 2149.1,1404.2 2149.8,1403.4C2150.5,1402.6 2152.7,1400.1 2153.4,1400.1C2154.1,1400.0 2156.9,1402.8 2157.8,1402.7C2158.7,1402.5 2162.0,1399.0 2163.0,1398.4C2164.0,1397.8 2167.9,1395.8 2168.8,1396.0C2169.7,1396.2 2172.3,1399.6 2173.2,1400.4C2174.1,1401.2 2178.0,1404.6 2179.1,1405.3C2180.2,1406.1 2183.9,1409.0 2184.9,1409.1C2185.9,1409.2 2189.1,1407.5 2190.1,1406.6C2191.1,1405.8 2195.0,1399.9 2195.9,1399.7C2196.8,1399.5 2199.0,1403.5 2199.6,1404.1C2200.2,1404.7 2201.9,1406.0 2202.5,1406.4C2203.1,1406.7 2205.7,1406.9 2206.2,1407.9C2206.7,1408.9 2208.0,1415.1 2208.4,1417.2C2208.8,1419.3 2210.2,1429.5 2210.6,1431.0C2211.0,1432.5 2212.3,1435.3 2212.8,1434.0C2213.3,1432.8 2215.2,1419.4 2215.7,1417.1C2216.2,1414.7 2218.1,1408.2 2218.6,1407.9C2219.1,1407.6 2221.1,1413.1 2221.6,1414.0C2222.1,1415.0 2223.9,1418.2 2224.5,1418.7C2225.1,1419.1 2228.1,1419.0 2228.5,1419.1"/>
<path stroke="#8060B2" d="M299.5,1045.1C298.2,1045.3 298.2,1044.6 298.2,1047.1C298.9,1049.7 305.9,1075.4 307.4,1073.7C308.9,1072.0 313.5,1027.4 314.7,1028.1C315.9,1028.8 319.4,1079.0 320.2,1081.8C321.0,1084.7 323.3,1058.1 323.9,1059.8C324.5,1061.5 326.0,1089.1 326.6,1100.9C327.2,1112.6 330.0,1190.1 330.7,1190.0C331.4,1189.9 333.5,1115.0 334.0,1099.9C334.5,1084.8 336.0,1032.3 336.7,1022.2C337.4,1012.2 340.4,996.7 341.3,988.3C342.2,979.9 346.1,937.9 346.8,929.0C347.5,920.2 349.0,894.0 349.5,890.2C350.0,886.4 351.6,886.1 352.3,887.2C353.0,888.2 356.1,901.7 356.8,902.3C357.5,902.9 359.8,895.6 360.5,893.7C361.2,891.9 364.4,884.0 365.1,881.7C365.8,879.4 368.1,872.4 368.8,868.2C369.5,863.9 372.6,840.2 373.3,834.5C374.0,828.7 376.3,808.2 377.0,804.1C377.7,800.0 380.6,790.5 381.6,788.7C382.6,786.9 387.5,789.1 388.4,783.8C389.3,778.6 391.2,740.1 391.9,730.1C392.6,720.2 395.8,679.4 396.5,673.2C397.2,667.0 399.1,659.4 399.9,661.4C400.7,663.4 404.6,699.1 405.6,695.7C406.6,692.3 410.4,632.6 411.3,623.8C412.2,615.1 415.0,599.3 415.9,598.4C416.8,597.5 420.2,612.6 421.0,613.7C421.8,614.8 424.3,616.0 425.1,610.3C425.9,604.7 429.1,558.2 429.7,551.1C430.3,543.9 431.2,533.0 431.9,531.0C432.6,528.9 436.8,530.7 437.7,528.4C438.6,526.1 441.3,505.2 442.2,505.8C443.1,506.3 447.0,536.2 448.0,534.7C449.0,533.1 452.8,492.4 453.7,488.6C454.6,484.9 457.4,493.6 458.3,493.3C459.2,493.0 463.1,483.5 464.0,485.3C464.9,487.1 467.9,509.4 468.6,513.2C469.3,517.0 471.4,526.4 472.0,527.6C472.6,528.8 474.7,523.6 475.4,526.2C476.1,528.8 479.1,552.2 480.0,556.3C480.9,560.5 484.7,572.2 485.7,572.6C486.7,573.1 490.6,563.7 491.5,561.3C492.4,558.9 495.3,543.0 496.0,546.0C496.7,549.0 498.2,584.3 498.8,594.5C499.4,604.8 501.7,658.1 502.5,659.8C503.3,661.6 506.5,623.7 507.5,614.1C508.5,604.5 512.2,560.9 513.2,553.3C514.2,545.7 517.4,529.5 518.3,529.7C519.2,529.9 522.6,550.6 523.5,555.1C524.4,559.6 527.2,578.9 528.1,579.6C529.0,580.4 533.0,562.8 533.8,563.4C534.6,563.9 536.6,582.1 537.3,586.1C538.0,590.1 540.6,606.7 541.4,607.6C542.2,608.6 545.5,599.5 546.4,596.9C547.3,594.2 550.2,580.0 551.0,578.6C551.8,577.3 554.7,582.2 555.6,581.9C556.5,581.6 560.1,573.5 560.8,575.2C561.5,577.0 563.0,595.9 563.6,601.5C564.2,607.1 566.2,637.7 567.0,637.5C567.8,637.3 571.7,606.9 572.7,599.5C573.7,592.1 577.3,560.6 578.5,555.0C579.7,549.4 585.3,537.6 586.5,536.8C587.7,536.0 591.3,544.1 592.2,546.1C593.1,548.1 595.8,556.3 596.8,558.8C597.8,561.2 602.8,568.3 603.6,573.6C604.4,578.8 605.4,605.1 605.9,616.7C606.4,628.4 608.2,697.8 609.4,703.4C610.6,709.0 618.3,683.5 619.7,678.9C621.1,674.3 624.5,655.6 625.4,652.5C626.3,649.4 629.2,642.9 630.0,644.5C630.8,646.2 634.0,663.7 634.6,670.7C635.2,677.6 635.9,712.3 636.2,721.7C636.5,731.2 637.4,763.8 637.7,776.0C638.0,788.1 639.2,843.1 639.6,857.3C640.0,871.4 641.2,933.2 641.8,933.1C642.4,933.1 645.2,870.6 646.0,856.2C646.8,841.8 649.4,788.0 650.2,772.9C651.0,757.7 653.8,700.8 654.4,688.0C655.0,675.2 656.6,642.3 657.2,630.6C657.8,619.0 660.3,570.3 661.0,559.0C661.7,547.7 664.6,515.5 665.5,505.0C666.4,494.4 670.1,452.9 671.0,442.0C671.9,431.0 674.8,391.8 675.5,383.4C676.2,375.0 678.3,341.8 678.7,349.0C679.1,356.1 679.6,435.0 679.8,462.9C680.0,490.9 680.4,626.0 680.6,659.6C680.8,693.1 681.4,808.9 681.6,835.7C681.8,862.5 682.9,935.4 683.2,957.2C683.5,978.9 684.9,1076.8 685.3,1076.9C685.7,1077.1 687.0,980.8 687.4,959.2C687.8,937.5 689.2,863.5 689.5,836.5C689.8,809.5 690.6,689.3 690.8,659.4C691.0,629.6 691.2,528.0 691.3,504.9C691.4,481.8 691.5,419.4 691.6,403.0C691.7,386.6 692.3,335.6 692.4,322.8C692.5,310.0 692.7,266.7 693.0,260.8C693.3,255.0 694.8,256.8 695.2,257.8C695.6,258.9 697.5,271.4 697.9,272.5C698.3,273.6 699.7,271.5 700.1,270.0C700.5,268.6 701.9,259.2 702.3,256.1C702.7,252.9 703.6,237.1 704.0,234.7C704.4,232.3 706.1,229.4 706.7,229.4C707.3,229.4 710.0,233.4 710.5,234.7C711.0,236.0 712.3,240.0 712.7,243.8C713.1,247.5 714.1,271.5 714.4,276.4C714.7,281.4 715.8,294.8 716.0,298.6C716.2,302.3 716.7,317.2 717.1,318.2C717.5,319.2 719.4,310.5 719.9,309.8C720.4,309.1 722.2,309.6 722.6,310.3C723.0,311.0 724.5,316.1 724.8,317.6C725.1,319.0 725.6,324.8 725.9,326.7C726.2,328.5 727.1,336.5 727.6,338.3C728.1,340.1 730.8,344.8 731.4,346.2C732.0,347.6 734.1,351.5 734.7,353.7C735.3,356.0 737.5,368.5 738.0,371.6C738.5,374.7 739.4,384.9 739.7,388.2C740.0,391.4 740.6,395.7 740.8,407.9C741.0,420.2 741.6,502.6 741.9,523.8C742.2,545.0 744.0,640.7 744.5,643.8C745.0,647.0 746.9,573.6 747.5,558.7C748.1,543.8 750.7,488.2 751.2,478.3C751.7,468.4 752.4,452.5 752.7,448.6C753.0,444.8 754.2,436.0 754.5,435.6C754.8,435.2 756.1,441.5 756.4,444.2C756.7,446.8 757.9,458.6 758.2,464.7C758.5,470.8 759.7,511.9 760.1,512.3C760.5,512.7 761.8,477.4 762.2,469.2C762.6,461.0 763.9,428.6 764.4,421.0C764.9,413.5 766.8,389.3 767.4,385.1C768.0,380.9 770.3,375.6 771.0,374.3C771.7,373.0 774.1,370.6 774.7,370.7C775.3,370.8 776.9,372.7 777.3,375.7C777.7,378.7 778.4,398.1 778.7,403.7C779.0,409.4 780.2,433.2 780.5,438.7C780.8,444.3 781.2,454.5 781.6,465.4C782.0,476.2 784.1,558.9 784.6,558.9C785.1,558.8 787.1,477.7 787.5,464.9C787.9,452.1 788.4,423.0 788.6,417.1C788.8,411.2 789.4,401.3 789.7,399.3C790.0,397.2 791.8,394.4 792.3,394.2C792.8,393.9 794.3,395.7 794.8,396.8C795.3,397.8 797.4,404.2 798.1,405.7C798.8,407.3 801.8,412.3 802.5,413.8C803.2,415.4 805.1,420.7 805.5,422.7C805.9,424.8 806.7,434.8 806.9,436.7C807.1,438.6 807.7,443.0 808.0,443.7C808.3,444.4 809.4,445.3 809.9,444.9C810.4,444.5 812.9,439.8 813.5,439.0C814.1,438.3 816.2,435.9 816.8,436.3C817.4,436.7 819.5,441.5 820.1,443.2C820.7,444.9 822.5,453.0 823.0,455.0C823.5,457.1 824.9,464.0 825.2,465.9C825.5,467.8 826.1,467.0 826.3,475.7C826.5,484.5 827.5,547.4 827.9,563.4C828.3,579.4 830.1,638.2 830.6,653.8C831.1,669.4 832.6,723.5 833.0,736.7C833.4,749.9 834.3,800.7 834.6,800.7C834.9,800.8 836.0,753.2 836.5,737.2C837.0,721.2 839.2,623.4 839.8,623.0C840.4,622.7 842.3,714.2 843.0,733.6C843.7,752.9 846.4,833.9 847.1,837.8C847.8,841.7 850.2,789.5 851.0,776.7C851.8,763.9 855.5,692.8 856.3,695.6C857.1,698.5 859.3,777.1 860.0,808.5C860.7,839.8 863.3,1005.7 864.0,1043.9C864.7,1082.1 867.3,1207.0 868.0,1232.8C868.7,1258.6 871.2,1334.6 871.8,1330.7C872.4,1326.9 874.0,1213.9 874.5,1190.2C875.0,1166.5 876.7,1067.5 877.3,1067.5C877.9,1067.4 880.1,1167.0 881.0,1189.2C881.9,1211.5 886.3,1314.2 887.4,1314.3C888.5,1314.3 892.0,1218.3 893.0,1190.1C894.0,1161.9 898.0,1029.7 899.0,1000.9C900.0,972.1 903.2,887.7 904.0,870.1C904.8,852.4 906.9,813.0 907.5,804.6C908.1,796.3 909.8,775.8 910.4,777.3C911.0,778.8 913.2,815.4 913.7,821.2C914.2,827.1 915.9,843.0 916.5,842.8C917.1,842.5 919.4,828.0 920.1,818.6C920.8,809.2 922.9,754.2 923.8,738.0C924.7,721.8 929.2,650.1 930.2,638.2C931.2,626.3 934.2,609.1 934.8,605.8C935.4,602.5 936.6,600.8 937.2,601.8C937.8,602.8 940.5,611.4 941.2,616.8C941.9,622.1 944.4,654.9 944.9,661.1C945.4,667.3 946.8,685.8 947.3,685.8C947.8,685.9 949.8,664.8 950.4,661.2C951.0,657.5 952.8,645.8 953.5,645.3C954.2,644.8 957.8,654.5 958.6,656.0C959.4,657.6 961.9,662.4 962.8,662.3C963.7,662.1 967.8,654.5 968.7,654.4C969.6,654.3 972.4,659.4 973.3,661.6C974.2,663.8 977.6,676.8 978.8,678.5C980.0,680.3 984.8,680.2 986.1,681.3C987.4,682.3 992.0,688.8 993.4,690.3C994.8,691.7 1000.4,695.2 1001.6,697.5C1002.8,699.7 1005.3,713.2 1006.2,715.2C1007.1,717.2 1011.0,718.1 1011.7,719.7C1012.4,721.3 1013.8,729.4 1014.5,733.0C1015.2,736.6 1018.3,756.3 1019.0,759.6C1019.7,762.9 1021.9,769.0 1022.7,769.4C1023.5,769.8 1027.2,764.4 1028.2,764.2C1029.2,764.0 1033.0,764.8 1033.7,766.9C1034.4,769.0 1035.9,782.6 1036.4,787.7C1036.9,792.8 1038.4,812.9 1039.2,823.4C1040.0,833.8 1044.7,891.1 1045.8,903.5C1046.9,916.0 1050.1,951.1 1051.3,961.4C1052.5,971.7 1057.7,1009.1 1058.6,1018.0C1059.5,1026.9 1061.0,1050.4 1061.4,1060.4C1061.8,1070.4 1063.0,1116.4 1063.2,1128.7C1063.4,1141.1 1063.8,1182.5 1064.1,1197.6C1064.4,1212.7 1066.2,1278.8 1066.8,1296.4C1067.4,1314.0 1070.0,1383.1 1070.5,1393.2C1071.0,1403.3 1071.8,1406.7 1072.3,1408.3C1072.8,1409.9 1075.4,1409.6 1076.0,1411.1C1076.6,1412.6 1078.2,1421.3 1078.8,1425.3C1079.4,1429.3 1081.8,1450.8 1082.4,1455.7C1083.0,1460.6 1085.2,1480.9 1085.7,1479.5C1086.2,1478.2 1087.5,1455.1 1087.9,1441.0C1088.3,1426.9 1089.3,1336.4 1089.7,1322.7C1090.1,1309.0 1092.0,1288.1 1092.5,1289.1C1093.0,1290.2 1094.7,1323.6 1095.2,1334.1C1095.7,1344.7 1097.3,1403.9 1098.0,1406.2C1098.7,1408.5 1101.9,1371.5 1102.6,1359.9C1103.3,1348.2 1105.5,1290.7 1106.2,1277.0C1106.9,1263.2 1109.2,1216.2 1109.9,1207.4C1110.6,1198.6 1112.9,1189.5 1113.6,1179.1C1114.3,1168.6 1116.5,1107.9 1117.2,1091.6C1117.9,1075.2 1120.2,1009.2 1120.9,997.8C1121.6,986.5 1123.8,966.5 1124.5,965.5C1125.2,964.6 1128.2,987.2 1129.1,987.1C1130.0,987.0 1133.4,963.7 1134.1,964.6C1134.8,965.4 1136.9,990.9 1137.4,996.8C1137.9,1002.7 1139.6,1030.9 1140.1,1030.1C1140.6,1029.2 1142.4,995.0 1142.9,987.4C1143.4,979.8 1145.6,947.9 1146.2,945.7C1146.8,943.4 1148.7,959.8 1149.3,962.1C1149.9,964.4 1152.2,970.8 1152.9,971.4C1153.6,972.0 1156.7,969.4 1157.5,968.3C1158.3,967.2 1161.4,960.3 1162.1,959.0C1162.8,957.6 1165.1,952.5 1165.8,953.3C1166.5,954.0 1168.8,964.5 1169.4,967.1C1170.0,969.7 1171.7,983.6 1172.2,981.9C1172.7,980.3 1174.5,953.9 1174.9,948.8C1175.3,943.7 1176.1,928.0 1176.7,925.5C1177.3,923.1 1180.4,922.1 1181.3,921.4C1182.2,920.8 1186.0,919.3 1186.8,918.2C1187.6,917.2 1189.8,910.9 1190.5,909.7C1191.2,908.6 1193.3,905.4 1194.1,905.5C1194.9,905.6 1198.7,910.3 1199.6,910.8C1200.5,911.3 1203.4,910.6 1204.2,911.3C1205.0,911.9 1207.7,915.8 1208.8,917.9C1209.9,920.1 1215.0,931.5 1216.1,934.7C1217.2,937.8 1220.0,948.3 1220.7,952.9C1221.4,957.4 1223.8,979.8 1224.4,985.1C1225.0,990.5 1226.6,1009.2 1227.1,1012.0C1227.6,1014.8 1229.4,1017.4 1229.9,1016.7C1230.4,1015.9 1232.1,1007.0 1232.6,1003.6C1233.1,1000.2 1234.6,981.5 1235.3,979.1C1236.0,976.7 1239.2,977.5 1239.9,976.8C1240.6,976.1 1242.9,971.7 1243.6,971.0C1244.3,970.2 1246.5,968.1 1247.3,968.7C1248.1,969.3 1251.9,975.0 1252.7,977.1C1253.5,979.2 1255.7,988.2 1256.4,991.6C1257.1,995.0 1259.4,1010.6 1260.1,1014.8C1260.8,1019.0 1263.9,1035.0 1264.7,1038.1C1265.5,1041.1 1268.6,1045.3 1269.2,1049.0C1269.8,1052.6 1271.2,1071.1 1271.6,1078.6C1272.0,1086.1 1273.0,1125.7 1273.3,1132.5C1273.6,1139.3 1274.1,1148.2 1274.7,1154.4C1275.3,1160.6 1279.4,1194.9 1280.2,1201.5C1281.0,1208.1 1283.3,1228.2 1283.9,1227.8C1284.5,1227.4 1286.1,1203.9 1286.6,1197.2C1287.1,1190.5 1288.9,1154.7 1289.4,1153.5C1289.9,1152.3 1291.7,1175.1 1292.1,1184.0C1292.5,1192.9 1293.7,1243.6 1294.0,1252.1C1294.3,1260.5 1295.1,1275.4 1295.8,1278.0C1296.5,1280.6 1301.5,1278.5 1302.2,1281.2C1302.9,1283.8 1303.5,1299.3 1304.0,1307.6C1304.5,1316.0 1307.0,1363.0 1307.7,1374.0C1308.4,1384.9 1310.7,1420.9 1311.4,1429.5C1312.1,1438.1 1314.3,1463.7 1315.0,1469.3C1315.7,1474.8 1318.1,1488.8 1318.7,1491.1C1319.3,1493.4 1318.7,1494.2 1321.4,1494.5C1328.0,1494.5 1385.2,1494.5 1392.0,1494.5C1396.5,1493.2 1395.8,1483.6 1396.5,1480.6C1397.2,1477.5 1399.5,1462.6 1400.1,1460.3C1400.7,1458.1 1402.3,1454.8 1402.9,1455.5C1403.5,1456.2 1406.0,1465.9 1406.6,1467.8C1407.2,1469.8 1408.7,1476.7 1409.3,1477.2C1409.9,1477.7 1412.3,1473.4 1413.0,1473.2C1413.7,1473.1 1415.8,1475.0 1416.6,1475.5C1417.4,1475.9 1421.3,1478.9 1422.1,1478.6C1422.9,1478.2 1425.1,1475.5 1425.8,1472.0C1426.5,1468.4 1429.6,1444.6 1430.4,1439.4C1431.2,1434.2 1434.2,1417.8 1434.9,1414.6C1435.6,1411.3 1438.0,1402.8 1438.6,1403.5C1439.2,1404.2 1440.9,1415.4 1441.4,1422.2C1441.9,1428.9 1443.6,1480.4 1444.1,1478.1C1444.6,1475.8 1446.3,1407.7 1446.8,1396.8C1447.3,1385.8 1449.2,1360.8 1449.6,1356.5C1450.0,1352.3 1451.0,1347.4 1451.4,1349.5C1451.8,1351.5 1453.7,1369.1 1454.2,1379.1C1454.7,1389.1 1456.3,1459.5 1456.9,1460.9C1457.5,1462.4 1460.0,1406.3 1460.6,1395.0C1461.2,1383.7 1462.9,1342.3 1463.3,1335.4C1463.7,1328.5 1464.8,1320.0 1465.2,1318.1C1465.6,1316.1 1467.3,1314.5 1467.9,1314.0C1468.5,1313.5 1471.1,1316.6 1471.6,1312.9C1472.1,1309.2 1473.2,1279.2 1473.4,1272.9C1473.6,1266.6 1473.9,1248.8 1474.3,1242.7C1474.7,1236.6 1476.8,1203.8 1477.4,1205.2C1478.0,1206.5 1480.2,1250.3 1480.7,1257.5C1481.2,1264.6 1482.5,1289.4 1482.9,1284.5C1483.3,1279.6 1484.8,1214.7 1485.3,1203.2C1485.8,1191.7 1487.6,1161.4 1488.1,1157.0C1488.6,1152.7 1490.1,1154.3 1490.8,1154.7C1491.5,1155.1 1494.6,1160.1 1495.4,1161.3C1496.2,1162.5 1499.0,1168.0 1500.0,1168.0C1501.0,1168.1 1505.2,1164.2 1506.4,1162.2C1507.6,1160.2 1512.5,1147.8 1513.7,1145.6C1514.9,1143.5 1519.2,1139.5 1520.1,1138.0C1521.0,1136.6 1523.2,1130.8 1523.8,1129.8C1524.4,1128.7 1525.8,1126.6 1526.5,1126.8C1527.2,1127.0 1530.3,1131.3 1531.1,1132.3C1531.9,1133.3 1534.8,1137.4 1535.7,1137.9C1536.6,1138.4 1540.2,1138.2 1541.2,1138.1C1542.2,1138.0 1546.0,1136.2 1546.7,1136.6C1547.4,1136.9 1548.8,1139.6 1549.4,1142.0C1550.0,1144.4 1552.4,1160.9 1553.1,1163.5C1553.8,1166.1 1556.0,1170.4 1556.7,1170.7C1557.4,1171.1 1560.6,1168.5 1561.3,1167.3C1562.0,1166.0 1564.4,1158.2 1565.0,1156.8C1565.6,1155.4 1567.7,1150.9 1568.3,1151.6C1568.9,1152.2 1570.9,1161.8 1571.4,1164.2C1571.9,1166.6 1573.6,1178.4 1574.1,1178.4C1574.6,1178.4 1576.4,1166.6 1576.9,1164.4C1577.4,1162.2 1579.0,1153.8 1579.6,1153.8C1580.2,1153.9 1582.6,1163.0 1583.3,1164.6C1584.0,1166.2 1586.3,1171.1 1587.0,1171.8C1587.7,1172.6 1590.0,1171.2 1590.6,1172.8C1591.2,1174.4 1592.9,1187.2 1593.4,1189.7C1593.9,1192.2 1595.5,1201.4 1596.1,1200.4C1596.7,1199.5 1599.2,1181.8 1599.8,1179.3C1600.4,1176.9 1601.8,1173.7 1602.5,1173.3C1603.2,1172.9 1607.1,1174.5 1608.0,1174.5C1608.9,1174.5 1611.7,1172.8 1612.6,1173.0C1613.5,1173.2 1617.1,1175.6 1618.1,1176.8C1619.1,1178.0 1622.8,1183.7 1623.6,1185.9C1624.4,1188.2 1626.7,1200.1 1627.3,1202.0C1627.9,1203.9 1629.4,1207.0 1630.0,1207.4C1630.6,1207.8 1633.0,1207.0 1633.7,1206.7C1634.4,1206.5 1637.3,1203.9 1638.2,1204.3C1639.1,1204.7 1642.6,1210.1 1643.7,1211.6C1644.8,1213.0 1649.3,1218.6 1650.1,1220.7C1650.9,1222.8 1652.4,1233.0 1652.9,1234.9C1653.4,1236.8 1654.9,1241.6 1655.6,1242.0C1656.3,1242.3 1659.4,1238.5 1660.2,1238.7C1661.0,1238.9 1664.0,1242.9 1664.8,1244.1C1665.6,1245.3 1668.7,1252.4 1669.4,1252.2C1670.1,1252.1 1672.3,1244.1 1673.0,1242.8C1673.7,1241.5 1676.0,1237.5 1676.7,1237.7C1677.4,1237.9 1680.4,1245.4 1681.3,1244.9C1682.2,1244.4 1685.9,1232.4 1686.8,1232.1C1687.7,1231.8 1690.7,1241.0 1691.4,1241.7C1692.1,1242.4 1694.3,1240.1 1695.0,1239.9C1695.7,1239.7 1698.9,1238.6 1699.6,1239.0C1700.3,1239.5 1702.6,1243.2 1703.3,1245.1C1704.0,1247.1 1706.3,1258.4 1706.9,1260.8C1707.5,1263.2 1709.1,1272.3 1709.7,1271.2C1710.3,1270.2 1712.7,1248.3 1713.3,1248.6C1713.9,1249.0 1715.6,1270.4 1716.1,1274.8C1716.6,1279.2 1718.2,1298.9 1718.8,1297.4C1719.4,1295.8 1721.9,1261.5 1722.5,1257.3C1723.1,1253.1 1724.7,1249.6 1725.2,1250.3C1725.7,1251.1 1727.4,1262.3 1728.0,1266.0C1728.6,1269.8 1730.9,1288.6 1731.6,1292.2C1732.3,1295.7 1735.5,1305.2 1736.2,1305.2C1736.9,1305.2 1739.3,1294.9 1739.9,1292.2C1740.5,1289.4 1742.1,1277.0 1742.6,1274.8C1743.1,1272.6 1744.6,1265.6 1745.1,1267.5C1745.6,1269.5 1747.7,1290.7 1748.2,1296.2C1748.7,1301.8 1750.5,1330.1 1751.0,1329.3C1751.5,1328.5 1753.8,1292.7 1754.3,1287.5C1754.8,1282.3 1756.3,1270.8 1756.8,1271.8C1757.3,1272.8 1759.5,1292.2 1760.1,1298.7C1760.7,1305.2 1763.1,1338.2 1763.8,1343.9C1764.5,1349.7 1766.8,1360.6 1767.5,1362.9C1768.2,1365.1 1770.4,1369.2 1771.1,1369.0C1771.8,1368.8 1774.2,1361.9 1774.8,1360.4C1775.4,1359.0 1777.1,1350.9 1777.5,1353.2C1777.9,1355.4 1779.1,1376.6 1779.4,1385.2C1779.7,1393.9 1780.8,1442.0 1781.2,1449.0C1781.6,1456.0 1783.0,1466.2 1783.4,1463.4C1783.8,1460.6 1785.3,1425.7 1785.8,1418.3C1786.3,1410.8 1788.0,1381.6 1788.5,1380.2C1789.0,1378.8 1790.8,1396.5 1791.3,1402.7C1791.8,1408.9 1793.5,1443.1 1794.0,1449.5C1794.5,1455.8 1796.3,1469.8 1796.8,1472.7C1797.3,1475.7 1798.9,1481.8 1799.5,1482.1C1800.1,1482.4 1802.6,1476.3 1803.2,1475.9C1803.8,1475.5 1805.3,1476.1 1805.9,1477.4C1806.5,1478.7 1808.9,1488.4 1809.6,1489.9C1810.3,1491.4 1812.9,1494.1 1813.3,1494.5C1813.5,1494.5 1813.3,1494.5 1813.5,1494.5C1825.0,1494.5 1929.3,1494.5 1941.0,1494.5C1943.9,1494.3 1943.2,1492.4 1943.9,1492.4C1944.6,1492.4 1948.0,1494.3 1949.0,1494.4C1950.0,1494.5 1954.1,1494.2 1954.9,1493.8C1955.7,1493.4 1957.1,1490.4 1957.8,1489.8C1958.5,1489.3 1962.3,1488.5 1963.0,1487.8C1963.7,1487.1 1965.4,1483.3 1965.9,1481.7C1966.4,1480.0 1968.2,1470.7 1968.8,1469.4C1969.4,1468.1 1971.9,1468.5 1972.5,1467.1C1973.1,1465.7 1974.9,1458.2 1975.4,1453.9C1975.9,1449.5 1977.9,1423.0 1978.4,1418.8C1978.9,1414.7 1980.8,1409.0 1981.3,1407.8C1981.8,1406.7 1983.4,1406.0 1983.9,1406.5C1984.4,1406.9 1986.6,1410.0 1987.1,1412.8C1987.6,1415.7 1988.8,1432.6 1989.3,1438.1C1989.8,1443.5 1991.8,1475.0 1992.3,1473.7C1992.8,1472.4 1994.1,1431.1 1994.5,1423.7C1994.9,1416.4 1996.3,1395.3 1996.7,1392.2C1997.1,1389.1 1998.2,1388.5 1998.6,1389.4C1999.0,1390.3 2000.7,1397.9 2001.1,1402.3C2001.5,1406.6 2003.0,1434.4 2003.3,1438.0C2003.6,1441.5 2004.4,1444.8 2004.7,1442.2C2005.0,1439.7 2006.5,1413.2 2006.9,1409.4C2007.3,1405.6 2008.6,1400.1 2009.1,1400.1C2009.6,1400.1 2011.6,1406.0 2012.1,1409.4C2012.6,1412.8 2013.8,1432.2 2014.2,1438.0C2014.6,1443.7 2015.9,1469.7 2016.4,1473.7C2016.9,1477.7 2018.9,1483.5 2019.4,1482.2C2019.9,1480.9 2021.1,1463.3 2021.6,1459.4C2022.1,1455.5 2024.4,1439.9 2024.9,1438.7C2025.4,1437.6 2026.8,1444.7 2027.4,1446.5C2028.0,1448.4 2030.5,1459.5 2031.1,1459.4C2031.7,1459.3 2033.3,1450.2 2034.0,1445.1C2034.7,1439.9 2037.5,1408.7 2038.4,1402.3C2039.3,1395.8 2042.8,1377.6 2043.6,1373.7C2044.4,1369.8 2046.5,1361.1 2047.2,1359.4C2047.9,1357.6 2050.3,1354.3 2050.9,1354.4C2051.5,1354.5 2053.3,1358.4 2053.8,1360.8C2054.3,1363.2 2055.6,1377.5 2056.0,1380.8C2056.4,1384.2 2057.8,1398.0 2058.2,1398.0C2058.6,1398.0 2060.0,1383.3 2060.4,1380.8C2060.8,1378.4 2062.1,1370.9 2062.6,1370.9C2063.1,1370.9 2065.0,1378.0 2065.5,1380.8C2066.0,1383.6 2067.9,1398.8 2068.5,1402.3C2069.1,1405.7 2071.5,1419.4 2072.1,1419.4C2072.7,1419.4 2074.5,1405.9 2075.1,1402.3C2075.7,1398.7 2078.1,1380.0 2078.7,1379.4C2079.3,1378.7 2081.1,1392.6 2081.6,1395.1C2082.1,1397.7 2084.1,1406.7 2084.6,1408.0C2085.1,1409.3 2086.9,1409.9 2087.5,1409.4C2088.1,1408.9 2090.5,1404.8 2091.2,1402.3C2091.9,1399.7 2094.9,1384.2 2095.6,1380.8C2096.3,1377.5 2098.6,1365.8 2099.2,1365.1C2099.8,1364.5 2101.6,1372.0 2102.2,1373.7C2102.8,1375.4 2105.1,1383.6 2105.8,1383.6C2106.5,1383.6 2109.3,1375.2 2110.2,1373.7C2111.1,1372.2 2114.4,1367.5 2115.3,1367.3C2116.2,1367.1 2119.6,1371.4 2120.5,1371.6C2121.4,1371.7 2124.7,1369.2 2125.6,1369.4C2126.5,1369.6 2129.8,1373.2 2130.7,1373.7C2131.6,1374.2 2134.3,1374.9 2135.1,1375.2C2135.9,1375.4 2138.9,1375.4 2139.5,1376.5C2140.1,1377.7 2141.1,1386.4 2141.7,1387.9C2142.3,1389.5 2145.4,1393.7 2146.1,1393.7C2146.8,1393.7 2149.1,1388.8 2149.8,1387.9C2150.5,1387.1 2152.7,1384.4 2153.4,1384.4C2154.1,1384.4 2156.9,1388.0 2157.8,1387.9C2158.7,1387.9 2162.0,1384.2 2163.0,1383.6C2164.0,1383.1 2167.9,1381.2 2168.8,1381.5C2169.7,1381.8 2172.3,1385.6 2173.2,1386.6C2174.1,1387.5 2178.0,1391.3 2179.1,1392.2C2180.2,1393.1 2183.9,1396.4 2184.9,1396.5C2185.9,1396.6 2189.1,1394.7 2190.1,1393.7C2191.1,1392.7 2195.0,1386.0 2195.9,1385.8C2196.8,1385.5 2199.0,1390.3 2199.6,1390.9C2200.2,1391.4 2201.9,1392.1 2202.5,1392.2C2203.1,1392.3 2205.7,1391.3 2206.2,1392.2C2206.7,1393.1 2208.0,1399.9 2208.4,1402.3C2208.8,1404.6 2210.2,1416.3 2210.6,1418.0C2211.0,1419.6 2212.3,1422.2 2212.8,1420.8C2213.3,1419.4 2215.2,1404.7 2215.7,1402.3C2216.2,1399.8 2218.1,1393.8 2218.6,1393.7C2219.1,1393.6 2221.1,1399.7 2221.6,1400.8C2222.1,1401.9 2223.9,1405.4 2224.5,1405.9C2225.1,1406.3 2228.1,1405.9 2228.5,1405.9"/>
<path stroke="#06ACCA" d="M299.5,1015.8C298.2,1016.0 298.2,1014.9 298.2,1017.7C298.9,1020.6 305.9,1049.0 307.4,1047.5C308.9,1045.9 313.5,999.3 314.7,1000.2C315.9,1001.2 319.4,1054.8 320.2,1058.0C321.0,1061.1 323.3,1033.3 323.9,1035.2C324.5,1037.1 326.0,1066.6 326.6,1079.0C327.2,1091.5 330.0,1173.6 330.7,1173.6C331.4,1173.6 333.5,1094.9 334.0,1079.1C334.5,1063.2 336.0,1008.2 336.7,997.7C337.4,987.2 340.4,971.4 341.3,962.8C342.2,954.2 346.1,910.8 346.8,901.7C347.5,892.6 349.0,865.4 349.5,861.5C350.0,857.7 351.6,857.7 352.3,858.9C353.0,860.2 356.1,874.9 356.8,875.7C357.5,876.4 359.8,869.1 360.5,867.2C361.2,865.4 364.4,857.5 365.1,855.2C365.8,852.9 368.1,845.9 368.8,841.6C369.5,837.2 372.6,812.9 373.3,807.0C374.0,801.1 376.3,780.1 377.0,775.9C377.7,771.7 380.6,762.3 381.6,760.5C382.6,758.8 387.5,761.8 388.4,756.4C389.3,751.1 391.2,711.4 391.9,701.2C392.6,691.0 395.8,649.1 396.5,642.8C397.2,636.5 399.1,629.0 399.9,631.2C400.7,633.4 404.6,671.0 405.6,667.7C406.6,664.3 410.4,603.2 411.3,594.3C412.2,585.4 415.0,569.5 415.9,568.7C416.8,568.0 420.2,584.2 421.0,585.5C421.8,586.8 424.3,588.4 425.1,582.7C425.9,577.0 429.1,529.7 429.7,522.5C430.3,515.2 431.2,504.1 431.9,502.2C432.6,500.2 436.8,502.8 437.7,500.7C438.6,498.5 441.3,477.6 442.2,478.3C443.1,479.1 447.0,510.6 448.0,509.3C449.0,507.9 452.8,467.0 453.7,463.4C454.6,459.8 457.4,469.3 458.3,469.2C459.2,469.1 463.1,460.2 464.0,462.3C464.9,464.3 467.9,487.9 468.6,491.9C469.3,496.0 471.4,506.0 472.0,507.3C472.6,508.7 474.7,503.9 475.4,506.7C476.1,509.4 479.1,533.9 480.0,538.4C480.9,542.9 484.7,555.5 485.7,556.2C486.7,556.9 490.6,548.2 491.5,545.9C492.4,543.7 495.3,528.1 496.0,531.3C496.7,534.5 498.2,570.6 498.8,581.1C499.4,591.6 501.7,646.2 502.5,648.1C503.3,650.1 506.5,612.3 507.5,602.7C508.5,593.2 512.2,549.8 513.2,542.3C514.2,534.8 517.4,519.2 518.3,519.5C519.2,519.9 522.6,541.5 523.5,546.2C524.4,550.9 527.2,571.0 528.1,571.9C529.0,572.9 533.0,555.9 533.8,556.7C534.6,557.4 536.6,576.1 537.3,580.3C538.0,584.4 540.6,601.6 541.4,602.7C542.2,603.9 545.5,595.3 546.4,592.9C547.3,590.4 550.2,576.7 551.0,575.5C551.8,574.3 554.7,579.8 555.6,579.6C556.5,579.5 560.1,572.1 560.8,574.0C561.5,575.9 563.0,595.1 563.6,600.9C564.2,606.6 566.2,637.5 567.0,637.5C567.8,637.5 571.7,607.8 572.7,600.5C573.7,593.3 577.3,562.6 578.5,557.3C579.7,551.9 585.3,541.4 586.5,540.8C587.7,540.2 591.3,548.4 592.2,550.5C593.1,552.5 595.8,560.9 596.8,563.4C597.8,565.9 602.8,573.3 603.6,578.6C604.4,583.8 605.4,610.0 605.9,621.7C606.4,633.3 608.2,702.4 609.4,708.0C610.6,713.7 618.3,688.7 619.7,684.3C621.1,679.8 624.5,661.4 625.4,658.4C626.3,655.4 629.2,649.7 630.0,650.8C630.8,651.9 634.0,664.2 634.6,670.3C635.2,676.5 635.9,710.1 636.2,719.3C636.5,728.4 637.4,759.9 637.7,771.8C638.0,783.7 639.2,837.6 639.6,851.4C640.0,865.3 641.2,925.8 641.8,925.8C642.4,925.8 645.2,865.0 646.0,851.1C646.8,837.1 649.4,785.2 650.2,770.7C651.0,756.2 653.8,701.8 654.4,689.6C655.0,677.4 656.6,646.2 657.2,635.2C657.8,624.1 660.3,577.9 661.0,567.1C661.7,556.3 664.6,525.0 665.5,514.8C666.4,504.6 670.1,464.6 671.0,454.1C671.9,443.5 674.8,405.6 675.5,397.5C676.2,389.5 678.3,358.2 678.7,364.6C679.1,371.0 679.6,442.2 679.8,468.8C680.0,495.3 680.4,626.8 680.6,659.3C680.8,691.9 681.4,804.7 681.6,830.5C681.8,856.4 682.9,925.5 683.2,946.2C683.5,967.0 684.9,1061.2 685.3,1061.3C685.7,1061.4 687.0,967.8 687.4,947.0C687.8,926.3 689.2,856.8 689.5,830.9C689.8,805.0 690.6,688.4 690.8,659.3C691.0,630.2 691.2,530.5 691.3,507.9C691.4,485.3 691.5,424.0 691.6,408.4C691.7,392.7 692.3,346.2 692.4,334.4C692.5,322.6 692.7,282.9 693.0,277.6C693.3,272.3 694.8,274.1 695.2,275.3C695.6,276.4 697.5,289.3 697.9,290.5C698.3,291.7 699.7,290.0 700.1,288.6C700.5,287.3 701.9,278.5 702.3,275.5C702.7,272.4 703.6,257.2 704.0,254.9C704.4,252.7 706.1,250.6 706.7,250.5C707.3,250.4 710.0,252.9 710.5,253.9C711.0,254.9 712.3,258.1 712.7,261.6C713.1,265.1 714.1,288.1 714.4,292.9C714.7,297.6 715.8,310.3 716.0,313.8C716.2,317.4 716.7,331.9 717.1,332.7C717.5,333.5 719.4,323.9 719.9,322.9C720.4,321.9 722.2,321.5 722.6,321.9C723.0,322.4 724.5,326.7 724.8,328.0C725.1,329.3 725.6,334.8 725.9,336.5C726.2,338.2 727.1,345.6 727.6,347.1C728.1,348.6 730.8,352.0 731.4,353.0C732.0,354.1 734.1,356.8 734.7,358.8C735.3,360.8 737.5,372.0 738.0,374.9C738.5,377.8 739.4,387.4 739.7,390.6C740.0,393.7 740.6,397.7 740.8,409.8C741.0,421.9 741.6,503.9 741.9,524.9C742.2,546.0 744.0,640.3 744.5,643.8C745.0,647.3 746.9,577.5 747.5,563.7C748.1,549.9 750.7,499.5 751.2,490.5C751.7,481.5 752.4,467.2 752.7,464.0C753.0,460.7 754.2,454.5 754.5,454.4C754.8,454.4 756.1,460.7 756.4,463.4C756.7,466.0 757.9,477.9 758.2,484.0C758.5,490.1 759.7,530.7 760.1,531.2C760.5,531.7 761.8,497.4 762.2,489.4C762.6,481.5 763.9,450.1 764.4,442.8C764.9,435.5 766.8,412.3 767.4,408.4C768.0,404.4 770.3,399.9 771.0,398.8C771.7,397.7 774.1,396.1 774.7,396.4C775.3,396.6 776.9,398.6 777.3,401.5C777.7,404.5 778.4,423.5 778.7,429.0C779.0,434.6 780.2,457.9 780.5,463.4C780.8,468.8 781.2,478.8 781.6,489.4C782.0,500.0 784.1,581.0 784.6,581.0C785.1,581.0 787.1,501.9 787.5,489.4C787.9,477.0 788.4,448.6 788.6,442.8C788.8,437.1 789.4,427.5 789.7,425.6C790.0,423.6 791.8,421.0 792.3,420.8C792.8,420.6 794.3,422.4 794.8,423.5C795.3,424.5 797.4,430.9 798.1,432.5C798.8,434.0 801.8,439.2 802.5,440.8C803.2,442.3 805.1,447.6 805.5,449.7C805.9,451.7 806.7,461.5 806.9,463.4C807.1,465.2 807.7,469.6 808.0,470.3C808.3,471.0 809.4,472.0 809.9,471.6C810.4,471.2 812.9,466.9 813.5,466.2C814.1,465.5 816.2,463.6 816.8,463.7C817.4,463.9 819.5,466.6 820.1,467.7C820.7,468.9 822.5,475.1 823.0,476.7C823.5,478.2 824.9,483.8 825.2,485.3C825.5,486.9 826.1,485.6 826.3,494.0C826.5,502.4 827.5,563.3 827.9,578.7C828.3,594.2 830.1,650.6 830.6,665.7C831.1,680.7 832.6,732.9 833.0,745.8C833.4,758.6 834.3,808.1 834.6,808.1C834.9,808.2 836.0,761.6 836.5,745.9C837.0,730.3 839.2,634.6 839.8,634.5C840.4,634.4 842.3,725.5 843.0,744.7C843.7,764.0 846.4,844.7 847.1,848.8C847.8,852.8 850.2,802.2 851.0,790.0C851.8,777.7 855.5,710.5 856.3,712.4C857.1,714.2 859.3,781.3 860.0,810.4C860.7,839.5 863.3,998.7 864.0,1035.8C864.7,1072.9 867.3,1196.8 868.0,1222.5C868.7,1248.1 871.2,1324.9 871.8,1320.7C872.4,1316.5 874.0,1199.9 874.5,1175.9C875.0,1151.8 876.7,1053.2 877.3,1053.2C877.9,1053.2 880.1,1153.6 881.0,1176.1C881.9,1198.6 886.3,1303.2 887.4,1303.4C888.5,1303.6 892.0,1206.3 893.0,1178.3C894.0,1150.3 898.0,1020.1 899.0,992.4C900.0,964.7 903.2,886.3 904.0,870.2C904.8,854.0 906.9,819.9 907.5,812.9C908.1,805.9 909.8,790.3 910.4,792.4C911.0,794.5 913.2,830.4 913.7,836.3C914.2,842.2 915.9,858.1 916.5,858.0C917.1,857.9 919.4,844.3 920.1,835.3C920.8,826.3 922.9,773.3 923.8,757.7C924.7,742.2 929.2,673.8 930.2,662.5C931.2,651.3 934.2,635.5 934.8,632.5C935.4,629.5 936.6,628.4 937.2,629.4C937.8,630.5 940.5,638.9 941.2,644.1C941.9,649.3 944.4,681.0 944.9,687.0C945.4,693.1 946.8,711.0 947.3,711.1C947.8,711.1 949.8,690.7 950.4,687.2C951.0,683.7 952.8,672.3 953.5,671.8C954.2,671.4 957.8,680.8 958.6,682.3C959.4,683.8 961.9,688.5 962.8,688.4C963.7,688.3 967.8,680.8 968.7,680.8C969.6,680.8 972.4,685.7 973.3,687.8C974.2,690.0 977.6,702.5 978.8,704.3C980.0,706.0 984.8,706.0 986.1,707.0C987.4,708.0 992.0,714.4 993.4,715.8C994.8,717.2 1000.4,720.7 1001.6,722.8C1002.8,725.0 1005.3,738.1 1006.2,740.1C1007.1,742.0 1011.0,742.9 1011.7,744.5C1012.4,746.1 1013.8,753.9 1014.5,757.4C1015.2,760.8 1018.3,780.0 1019.0,783.1C1019.7,786.3 1021.9,792.2 1022.7,792.7C1023.5,793.1 1027.2,787.9 1028.2,787.7C1029.2,787.5 1033.0,788.1 1033.7,790.1C1034.4,792.1 1035.9,805.2 1036.4,810.1C1036.9,815.0 1038.4,834.6 1039.2,844.6C1040.0,854.5 1044.7,909.4 1045.8,920.4C1046.9,931.3 1050.1,958.2 1051.3,966.2C1052.5,974.2 1057.7,1001.7 1058.6,1009.1C1059.5,1016.4 1061.0,1037.8 1061.4,1047.4C1061.8,1056.9 1063.0,1102.7 1063.2,1115.1C1063.4,1127.5 1063.8,1170.0 1064.1,1185.4C1064.4,1200.8 1066.2,1268.0 1066.8,1286.1C1067.4,1304.1 1070.0,1375.8 1070.5,1386.2C1071.0,1396.7 1071.8,1400.1 1072.3,1401.7C1072.8,1403.3 1075.4,1402.3 1076.0,1403.9C1076.6,1405.4 1078.2,1414.7 1078.8,1419.1C1079.4,1423.4 1081.8,1446.7 1082.4,1452.0C1083.0,1457.3 1085.2,1479.5 1085.7,1478.0C1086.2,1476.6 1087.5,1451.3 1087.9,1435.9C1088.3,1420.5 1089.3,1321.9 1089.7,1307.2C1090.1,1292.4 1092.0,1270.6 1092.5,1271.9C1093.0,1273.2 1094.7,1310.2 1095.2,1321.7C1095.7,1333.2 1097.3,1397.1 1098.0,1399.9C1098.7,1402.7 1101.9,1364.7 1102.6,1352.9C1103.3,1341.1 1105.5,1282.7 1106.2,1269.0C1106.9,1255.3 1109.2,1209.4 1109.9,1201.1C1110.6,1192.8 1112.9,1186.3 1113.6,1176.6C1114.3,1167.0 1116.5,1109.1 1117.2,1093.8C1117.9,1078.6 1120.2,1017.2 1120.9,1007.2C1121.6,997.1 1123.8,982.4 1124.5,982.1C1125.2,981.7 1128.2,1003.3 1129.1,1003.2C1130.0,1003.2 1133.4,980.9 1134.1,981.8C1134.8,982.7 1136.9,1007.5 1137.4,1013.2C1137.9,1019.0 1139.6,1046.3 1140.1,1045.5C1140.6,1044.7 1142.4,1011.8 1142.9,1004.5C1143.4,997.2 1145.6,966.5 1146.2,964.3C1146.8,962.2 1148.7,978.2 1149.3,980.4C1149.9,982.7 1152.2,989.1 1152.9,989.6C1153.6,990.2 1156.7,988.0 1157.5,987.0C1158.3,986.0 1161.4,979.5 1162.1,978.3C1162.8,977.0 1165.1,972.3 1165.8,973.0C1166.5,973.8 1168.8,984.1 1169.4,986.6C1170.0,989.1 1171.7,1002.6 1172.2,1001.1C1172.7,999.5 1174.5,974.2 1174.9,969.4C1175.3,964.5 1176.1,949.4 1176.7,947.1C1177.3,944.8 1180.4,944.1 1181.3,943.5C1182.2,942.9 1186.0,941.7 1186.8,940.8C1187.6,939.8 1189.8,934.0 1190.5,932.9C1191.2,931.9 1193.3,929.0 1194.1,929.1C1194.9,929.1 1198.7,933.4 1199.6,933.8C1200.5,934.3 1203.4,933.4 1204.2,934.0C1205.0,934.5 1207.7,938.1 1208.8,940.1C1209.9,942.0 1215.0,952.7 1216.1,955.7C1217.2,958.6 1220.0,968.6 1220.7,972.9C1221.4,977.2 1223.8,998.7 1224.4,1003.8C1225.0,1008.9 1226.6,1026.8 1227.1,1029.5C1227.6,1032.2 1229.4,1034.6 1229.9,1033.9C1230.4,1033.1 1232.1,1024.4 1232.6,1021.1C1233.1,1017.8 1234.6,999.6 1235.3,997.3C1236.0,994.9 1239.2,995.5 1239.9,994.8C1240.6,994.0 1242.9,989.7 1243.6,988.9C1244.3,988.2 1246.5,986.0 1247.3,986.5C1248.1,987.0 1251.9,992.4 1252.7,994.3C1253.5,996.3 1255.7,1004.9 1256.4,1008.1C1257.1,1011.4 1259.4,1026.4 1260.1,1030.4C1260.8,1034.4 1263.9,1049.7 1264.7,1052.6C1265.5,1055.6 1268.6,1059.5 1269.2,1063.0C1269.8,1066.4 1271.2,1083.6 1271.6,1090.7C1272.0,1097.8 1273.0,1135.7 1273.3,1142.2C1273.6,1148.6 1274.1,1157.0 1274.7,1162.8C1275.3,1168.6 1279.4,1200.3 1280.2,1206.4C1281.0,1212.6 1283.3,1231.5 1283.9,1230.9C1284.5,1230.3 1286.1,1206.3 1286.6,1199.5C1287.1,1192.6 1288.9,1156.1 1289.4,1154.7C1289.9,1153.3 1291.7,1175.2 1292.1,1183.8C1292.5,1192.5 1293.7,1242.9 1294.0,1251.2C1294.3,1259.6 1295.1,1274.4 1295.8,1276.7C1296.5,1279.0 1301.5,1274.5 1302.2,1276.9C1302.9,1279.2 1303.5,1294.5 1304.0,1302.9C1304.5,1311.2 1307.0,1358.5 1307.7,1369.6C1308.4,1380.7 1310.7,1417.5 1311.4,1426.4C1312.1,1435.2 1314.3,1462.0 1315.0,1467.8C1315.7,1473.6 1318.1,1488.5 1318.7,1490.9C1319.3,1493.3 1318.7,1494.2 1321.4,1494.5C1328.0,1494.5 1385.2,1494.5 1392.0,1494.5C1396.5,1493.2 1395.8,1483.0 1396.5,1479.7C1397.2,1476.5 1399.5,1460.7 1400.1,1458.3C1400.7,1455.9 1402.3,1452.6 1402.9,1453.3C1403.5,1454.1 1406.0,1464.4 1406.6,1466.4C1407.2,1468.5 1408.7,1475.8 1409.3,1476.4C1409.9,1476.9 1412.3,1472.4 1413.0,1472.3C1413.7,1472.1 1415.8,1474.2 1416.6,1474.7C1417.4,1475.2 1421.3,1478.3 1422.1,1478.0C1422.9,1477.7 1425.1,1474.9 1425.8,1471.3C1426.5,1467.7 1429.6,1443.2 1430.4,1438.0C1431.2,1432.7 1434.2,1416.1 1434.9,1412.8C1435.6,1409.6 1438.0,1401.2 1438.6,1401.9C1439.2,1402.6 1440.9,1414.2 1441.4,1421.1C1441.9,1427.9 1443.6,1480.2 1444.1,1477.9C1444.6,1475.6 1446.3,1406.8 1446.8,1395.8C1447.3,1384.8 1449.2,1359.8 1449.6,1355.6C1450.0,1351.3 1451.0,1346.6 1451.4,1348.7C1451.8,1350.8 1453.7,1368.7 1454.2,1378.8C1454.7,1388.9 1456.3,1459.5 1456.9,1460.9C1457.5,1462.4 1460.0,1406.6 1460.6,1395.4C1461.2,1384.2 1462.9,1343.2 1463.3,1336.4C1463.7,1329.6 1464.8,1321.3 1465.2,1319.5C1465.6,1317.6 1467.3,1316.3 1467.9,1315.9C1468.5,1315.6 1471.1,1319.2 1471.6,1315.7C1472.1,1312.2 1473.2,1283.0 1473.4,1276.8C1473.6,1270.7 1473.9,1253.3 1474.3,1247.4C1474.7,1241.6 1476.8,1210.3 1477.4,1211.7C1478.0,1213.2 1480.2,1256.7 1480.7,1263.8C1481.2,1270.9 1482.5,1295.3 1482.9,1290.7C1483.3,1286.1 1484.8,1223.6 1485.3,1212.7C1485.8,1201.7 1487.6,1173.2 1488.1,1169.2C1488.6,1165.1 1490.1,1167.5 1490.8,1168.0C1491.5,1168.5 1494.6,1173.6 1495.4,1174.8C1496.2,1176.0 1499.0,1181.4 1500.0,1181.5C1501.0,1181.7 1505.2,1178.3 1506.4,1176.4C1507.6,1174.6 1512.5,1163.1 1513.7,1161.2C1514.9,1159.2 1519.2,1155.7 1520.1,1154.4C1521.0,1153.1 1523.2,1147.7 1523.8,1146.8C1524.4,1145.9 1525.8,1144.0 1526.5,1144.2C1527.2,1144.4 1530.3,1148.4 1531.1,1149.4C1531.9,1150.3 1534.8,1154.1 1535.7,1154.5C1536.6,1155.0 1540.2,1154.8 1541.2,1154.6C1542.2,1154.5 1546.0,1152.7 1546.7,1153.0C1547.4,1153.4 1548.8,1155.9 1549.4,1158.2C1550.0,1160.5 1552.4,1176.2 1553.1,1178.6C1553.8,1181.1 1556.0,1185.1 1556.7,1185.4C1557.4,1185.7 1560.6,1183.3 1561.3,1182.1C1562.0,1180.8 1564.4,1173.3 1565.0,1171.9C1565.6,1170.6 1567.7,1166.3 1568.3,1166.9C1568.9,1167.5 1570.9,1176.6 1571.4,1178.9C1571.9,1181.2 1573.6,1192.4 1574.1,1192.4C1574.6,1192.4 1576.4,1181.1 1576.9,1179.0C1577.4,1176.8 1579.0,1168.8 1579.6,1168.8C1580.2,1168.8 1582.6,1177.5 1583.3,1179.1C1584.0,1180.6 1586.3,1185.2 1587.0,1185.9C1587.7,1186.5 1590.0,1185.2 1590.6,1186.7C1591.2,1188.3 1592.9,1200.5 1593.4,1202.9C1593.9,1205.2 1595.5,1214.0 1596.1,1213.1C1596.7,1212.2 1599.2,1195.1 1599.8,1192.8C1600.4,1190.4 1601.8,1187.4 1602.5,1186.9C1603.2,1186.5 1607.1,1187.9 1608.0,1187.8C1608.9,1187.8 1611.7,1186.1 1612.6,1186.2C1613.5,1186.4 1617.1,1188.6 1618.1,1189.6C1619.1,1190.7 1622.8,1196.1 1623.6,1198.2C1624.4,1200.3 1626.7,1211.6 1627.3,1213.5C1627.9,1215.3 1629.4,1218.2 1630.0,1218.6C1630.6,1219.0 1633.0,1218.1 1633.7,1217.8C1634.4,1217.5 1637.3,1214.9 1638.2,1215.3C1639.1,1215.7 1642.6,1220.7 1643.7,1222.1C1644.8,1223.5 1649.3,1228.7 1650.1,1230.6C1650.9,1232.6 1652.4,1242.4 1652.9,1244.2C1653.4,1246.1 1654.9,1250.7 1655.6,1251.0C1656.3,1251.3 1659.4,1247.5 1660.2,1247.6C1661.0,1247.8 1664.0,1251.6 1664.8,1252.7C1665.6,1253.9 1668.7,1260.6 1669.4,1260.4C1670.1,1260.3 1672.3,1252.5 1673.0,1251.2C1673.7,1249.9 1676.0,1246.0 1676.7,1246.2C1677.4,1246.3 1680.4,1253.5 1681.3,1252.9C1682.2,1252.4 1685.9,1240.7 1686.8,1240.4C1687.7,1240.1 1690.7,1249.0 1691.4,1249.7C1692.1,1250.4 1694.3,1248.2 1695.0,1247.9C1695.7,1247.7 1698.9,1246.7 1699.6,1247.1C1700.3,1247.6 1702.6,1251.1 1703.3,1253.0C1704.0,1254.9 1706.3,1265.9 1706.9,1268.2C1707.5,1270.5 1709.1,1279.4 1709.7,1278.3C1710.3,1277.2 1712.7,1256.1 1713.3,1256.4C1713.9,1256.7 1715.6,1277.5 1716.1,1281.7C1716.6,1286.0 1718.2,1305.1 1718.8,1303.6C1719.4,1302.1 1721.9,1268.9 1722.5,1264.8C1723.1,1260.7 1724.7,1257.3 1725.2,1258.1C1725.7,1258.8 1727.4,1269.6 1728.0,1273.2C1728.6,1276.9 1730.9,1295.1 1731.6,1298.5C1732.3,1302.0 1735.5,1311.1 1736.2,1311.1C1736.9,1311.1 1739.3,1301.2 1739.9,1298.5C1740.5,1295.9 1742.1,1283.8 1742.6,1281.7C1743.1,1279.6 1744.6,1272.8 1745.1,1274.7C1745.6,1276.6 1747.7,1297.1 1748.2,1302.5C1748.7,1307.9 1750.5,1335.3 1751.0,1334.5C1751.5,1333.8 1753.8,1299.0 1754.3,1294.0C1754.8,1289.0 1756.3,1278.0 1756.8,1278.9C1757.3,1279.7 1759.5,1297.0 1760.1,1303.0C1760.7,1309.0 1763.1,1340.1 1763.8,1345.5C1764.5,1350.8 1766.8,1360.7 1767.5,1362.6C1768.2,1364.6 1770.4,1367.7 1771.1,1367.2C1771.8,1366.7 1774.2,1358.5 1774.8,1356.8C1775.4,1355.1 1777.1,1345.8 1777.5,1348.0C1777.9,1350.1 1779.1,1371.6 1779.4,1380.4C1779.7,1389.3 1780.8,1439.4 1781.2,1446.7C1781.6,1454.0 1783.0,1464.5 1783.4,1461.6C1783.8,1458.6 1785.3,1421.7 1785.8,1413.8C1786.3,1405.8 1788.0,1374.9 1788.5,1373.5C1789.0,1372.0 1790.8,1390.7 1791.3,1397.3C1791.8,1403.9 1793.5,1440.1 1794.0,1446.8C1794.5,1453.5 1796.3,1468.3 1796.8,1471.5C1797.3,1474.6 1798.9,1481.1 1799.5,1481.4C1800.1,1481.7 1802.6,1475.2 1803.2,1474.8C1803.8,1474.3 1805.3,1475.1 1805.9,1476.4C1806.5,1477.7 1808.9,1488.0 1809.6,1489.6C1810.3,1491.3 1812.9,1494.1 1813.3,1494.5C1813.5,1494.5 1813.3,1494.5 1813.5,1494.5C1825.0,1494.5 1929.3,1494.5 1941.0,1494.5C1943.9,1494.3 1943.2,1492.4 1943.9,1492.4C1944.6,1492.4 1948.0,1494.3 1949.0,1494.4C1950.0,1494.5 1954.1,1494.2 1954.9,1493.8C1955.7,1493.4 1957.1,1490.4 1957.8,1489.8C1958.5,1489.3 1962.3,1488.5 1963.0,1487.8C1963.7,1487.1 1965.4,1483.5 1965.9,1481.9C1966.4,1480.3 1968.2,1471.2 1968.8,1469.9C1969.4,1468.7 1971.9,1469.2 1972.5,1467.9C1973.1,1466.6 1974.9,1459.4 1975.4,1455.3C1975.9,1451.2 1977.9,1425.9 1978.4,1422.0C1978.9,1418.1 1980.8,1413.0 1981.3,1412.1C1981.8,1411.1 1983.4,1410.7 1983.9,1411.2C1984.4,1411.8 1986.6,1415.0 1987.1,1417.8C1987.6,1420.5 1988.8,1436.6 1989.3,1441.7C1989.8,1446.9 1991.8,1476.3 1992.3,1475.1C1992.8,1473.9 1994.1,1435.2 1994.5,1428.3C1994.9,1421.5 1996.3,1401.7 1996.7,1398.8C1997.1,1395.9 1998.2,1395.3 1998.6,1396.1C1999.0,1396.9 2000.7,1404.0 2001.1,1408.1C2001.5,1412.2 2003.0,1438.1 2003.3,1441.5C2003.6,1444.8 2004.4,1447.9 2004.7,1445.5C2005.0,1443.0 2006.5,1418.1 2006.9,1414.6C2007.3,1411.0 2008.6,1405.8 2009.1,1405.8C2009.6,1405.8 2011.6,1411.2 2012.1,1414.4C2012.6,1417.6 2013.8,1435.8 2014.2,1441.3C2014.6,1446.7 2015.9,1471.2 2016.4,1474.9C2016.9,1478.7 2018.9,1484.1 2019.4,1482.9C2019.9,1481.7 2021.1,1465.1 2021.6,1461.4C2022.1,1457.7 2024.4,1442.9 2024.9,1441.8C2025.4,1440.7 2026.8,1447.4 2027.4,1449.1C2028.0,1450.9 2030.5,1461.4 2031.1,1461.3C2031.7,1461.1 2033.3,1452.5 2034.0,1447.6C2034.7,1442.7 2037.5,1413.0 2038.4,1406.9C2039.3,1400.8 2042.8,1383.3 2043.6,1379.6C2044.4,1375.9 2046.5,1367.5 2047.2,1365.8C2047.9,1364.1 2050.3,1360.8 2050.9,1360.9C2051.5,1361.0 2053.3,1364.7 2053.8,1367.0C2054.3,1369.2 2055.6,1382.8 2056.0,1386.0C2056.4,1389.2 2057.8,1402.4 2058.2,1402.4C2058.6,1402.4 2060.0,1388.3 2060.4,1385.9C2060.8,1383.6 2062.1,1376.4 2062.6,1376.4C2063.1,1376.4 2065.0,1383.2 2065.5,1385.9C2066.0,1388.6 2067.9,1403.0 2068.5,1406.3C2069.1,1409.7 2071.5,1422.7 2072.1,1422.7C2072.7,1422.7 2074.5,1409.7 2075.1,1406.3C2075.7,1402.8 2078.1,1384.9 2078.7,1384.3C2079.3,1383.7 2081.1,1396.9 2081.6,1399.4C2082.1,1401.9 2084.1,1410.5 2084.6,1411.7C2085.1,1412.9 2086.9,1413.5 2087.5,1413.0C2088.1,1412.5 2090.5,1408.6 2091.2,1406.1C2091.9,1403.7 2094.9,1388.7 2095.6,1385.5C2096.3,1382.3 2098.6,1371.0 2099.2,1370.4C2099.8,1369.8 2101.6,1377.1 2102.2,1378.7C2102.8,1380.3 2105.1,1388.2 2105.8,1388.2C2106.5,1388.2 2109.3,1380.1 2110.2,1378.7C2111.1,1377.3 2114.4,1372.7 2115.3,1372.6C2116.2,1372.4 2119.6,1376.5 2120.5,1376.7C2121.4,1376.9 2124.7,1374.5 2125.6,1374.7C2126.5,1374.9 2129.8,1378.3 2130.7,1378.8C2131.6,1379.3 2134.3,1380.0 2135.1,1380.2C2135.9,1380.5 2138.9,1380.5 2139.5,1381.6C2140.1,1382.7 2141.1,1391.0 2141.7,1392.5C2142.3,1394.0 2145.4,1398.0 2146.1,1398.0C2146.8,1398.0 2149.1,1393.3 2149.8,1392.5C2150.5,1391.7 2152.7,1389.2 2153.4,1389.2C2154.1,1389.2 2156.9,1392.6 2157.8,1392.6C2158.7,1392.5 2162.0,1389.0 2163.0,1388.5C2164.0,1387.9 2167.9,1386.2 2168.8,1386.4C2169.7,1386.7 2172.3,1390.4 2173.2,1391.3C2174.1,1392.2 2178.0,1395.9 2179.1,1396.7C2180.2,1397.6 2183.9,1400.7 2184.9,1400.9C2185.9,1401.0 2189.1,1399.1 2190.1,1398.2C2191.1,1397.3 2195.0,1390.9 2195.9,1390.7C2196.8,1390.4 2199.0,1395.0 2199.6,1395.5C2200.2,1396.1 2201.9,1396.7 2202.5,1396.8C2203.1,1397.0 2205.7,1396.0 2206.2,1396.9C2206.7,1397.7 2208.0,1404.2 2208.4,1406.4C2208.8,1408.7 2210.2,1419.8 2210.6,1421.4C2211.0,1423.0 2212.3,1425.5 2212.8,1424.1C2213.3,1422.8 2215.2,1408.8 2215.7,1406.5C2216.2,1404.1 2218.1,1398.4 2218.6,1398.3C2219.1,1398.2 2221.1,1404.1 2221.6,1405.1C2222.1,1406.1 2223.9,1409.5 2224.5,1409.9C2225.1,1410.4 2228.1,1410.0 2228.5,1410.0"/>
<path stroke="#FE9334" d="M299.5,993.8C298.2,994.0 298.2,992.8 298.2,995.8C298.9,998.8 305.9,1028.5 307.4,1026.9C308.9,1025.3 313.5,976.5 314.7,977.5C315.9,978.5 319.4,1034.6 320.2,1037.9C321.0,1041.2 323.3,1012.1 323.9,1014.1C324.5,1016.1 326.0,1046.9 326.6,1059.9C327.2,1072.9 330.0,1158.8 330.7,1158.8C331.4,1158.8 333.5,1076.5 334.0,1059.9C334.5,1043.3 336.0,985.7 336.7,974.7C337.4,963.7 340.4,947.2 341.3,938.1C342.2,929.0 346.1,883.6 346.8,874.0C347.5,864.4 349.0,835.9 349.5,831.9C350.0,827.9 351.6,827.8 352.3,829.1C353.0,830.4 356.1,845.8 356.8,846.5C357.5,847.2 359.8,839.4 360.5,837.4C361.2,835.4 364.4,827.0 365.1,824.5C365.8,822.0 368.1,814.5 368.8,809.9C369.5,805.3 372.6,779.6 373.3,773.3C374.0,767.0 376.3,744.8 377.0,740.3C377.7,735.8 380.6,725.7 381.6,723.8C382.6,721.9 387.5,724.6 388.4,718.9C389.3,713.2 391.2,671.3 391.9,660.5C392.6,649.7 395.8,605.4 396.5,598.7C397.2,592.0 399.1,583.8 399.9,586.1C400.7,588.4 404.6,627.5 405.6,623.9C406.6,620.3 410.4,555.5 411.3,546.0C412.2,536.5 415.0,519.5 415.9,518.6C416.8,517.7 420.2,534.5 421.0,535.7C421.8,536.9 424.3,538.4 425.1,532.3C425.9,526.2 429.1,475.9 429.7,468.2C430.3,460.5 431.2,448.7 431.9,446.5C432.6,444.3 436.8,446.6 437.7,444.2C438.6,441.8 441.3,419.4 442.2,420.1C443.1,420.8 447.0,453.7 448.0,452.2C449.0,450.7 452.8,406.9 453.7,403.0C454.6,399.1 457.4,408.9 458.3,408.7C459.2,408.5 463.1,398.6 464.0,400.7C464.9,402.8 467.9,427.4 468.6,431.6C469.3,435.8 471.4,446.3 472.0,447.6C472.6,448.9 474.7,443.6 475.4,446.5C476.1,449.4 479.1,475.1 480.0,479.7C480.9,484.3 484.7,497.4 485.7,498.0C486.7,498.6 490.6,489.0 491.5,486.5C492.4,484.0 495.3,467.2 496.0,470.5C496.7,473.8 498.2,512.1 498.8,523.2C499.4,534.3 501.7,592.0 502.5,594.1C503.3,596.2 506.5,556.1 507.5,546.0C508.5,535.9 512.2,489.8 513.2,481.9C514.2,474.0 517.4,457.5 518.3,457.9C519.2,458.3 522.6,481.5 523.5,486.5C524.4,491.5 527.2,513.0 528.1,514.0C529.0,515.0 533.0,497.2 533.8,498.0C534.6,498.8 536.6,518.8 537.3,523.2C538.0,527.6 540.6,546.0 541.4,547.2C542.2,548.4 545.5,539.5 546.4,536.9C547.3,534.3 550.2,519.8 551.0,518.6C551.8,517.4 554.7,523.3 555.6,523.2C556.5,523.1 560.1,515.3 560.8,517.4C561.5,519.5 563.0,539.9 563.6,546.0C564.2,552.1 566.2,585.0 567.0,585.0C567.8,585.0 571.7,553.6 572.7,546.0C573.7,538.4 577.3,506.0 578.5,500.3C579.7,494.6 585.3,483.7 586.5,483.1C587.7,482.5 591.3,491.2 592.2,493.4C593.1,495.6 595.8,504.4 596.8,507.1C597.8,509.8 602.8,517.6 603.6,523.2C604.4,528.8 605.4,556.5 605.9,568.9C606.4,581.3 608.2,654.5 609.4,660.5C610.6,666.5 618.3,640.0 619.7,635.3C621.1,630.6 624.5,611.1 625.4,607.9C626.3,604.7 629.2,599.2 630.0,599.8C630.8,600.4 634.0,608.8 634.6,614.7C635.2,620.6 635.9,655.6 636.2,665.0C636.5,674.4 637.4,707.1 637.7,719.5C638.0,731.9 639.2,788.5 639.6,803.0C640.0,817.5 641.2,881.0 641.8,881.0C642.4,881.0 645.2,817.5 646.0,803.0C646.8,788.5 649.4,734.5 650.2,719.5C651.0,704.5 653.8,648.4 654.4,635.8C655.0,623.2 656.6,591.3 657.2,580.0C657.8,568.7 660.3,521.3 661.0,510.0C661.7,498.7 664.6,465.3 665.5,454.5C666.4,443.7 670.1,401.2 671.0,390.0C671.9,378.8 674.8,338.6 675.5,330.0C676.2,321.4 678.3,288.7 678.7,295.0C679.1,301.3 679.6,372.6 679.8,400.0C680.0,427.4 680.4,565.8 680.6,600.0C680.8,634.2 681.4,753.0 681.6,780.0C681.8,807.0 682.9,878.4 683.2,900.0C683.5,921.6 684.9,1020.0 685.3,1020.0C685.7,1020.0 687.0,921.6 687.4,900.0C687.8,878.4 689.2,807.0 689.5,780.0C689.8,753.0 690.6,630.6 690.8,600.0C691.0,569.4 691.2,463.9 691.3,440.0C691.4,416.1 691.5,351.2 691.6,335.0C691.7,318.8 692.3,271.9 692.4,260.0C692.5,248.1 692.7,208.1 693.0,202.7C693.3,197.3 694.8,198.8 695.2,200.0C695.6,201.2 697.5,214.7 697.9,215.9C698.3,217.1 699.7,215.2 700.1,213.7C700.5,212.2 701.9,202.8 702.3,199.5C702.7,196.2 703.6,179.9 704.0,177.5C704.4,175.1 706.1,172.7 706.7,172.5C707.3,172.3 710.0,174.4 710.5,175.3C711.0,176.2 712.3,179.3 712.7,183.0C713.1,186.7 714.1,211.0 714.4,215.9C714.7,220.8 715.8,234.1 716.0,237.9C716.2,241.7 716.7,256.9 717.1,257.7C717.5,258.5 719.4,247.8 719.9,246.7C720.4,245.6 722.2,244.7 722.6,245.1C723.0,245.5 724.5,249.8 724.8,251.1C725.1,252.4 725.6,258.1 725.9,259.9C726.2,261.7 727.1,269.4 727.6,270.9C728.1,272.4 730.8,275.4 731.4,276.4C732.0,277.4 734.1,279.9 734.7,281.9C735.3,283.9 737.5,295.4 738.0,298.4C738.5,301.4 739.4,311.5 739.7,314.8C740.0,318.1 740.6,322.2 740.8,335.1C741.0,348.0 741.6,435.5 741.9,458.0C742.2,480.5 744.0,580.9 744.5,584.7C745.0,588.5 746.9,514.6 747.5,500.0C748.1,485.4 750.7,432.4 751.2,423.0C751.7,413.6 752.4,398.6 752.7,395.2C753.0,391.8 754.2,385.7 754.5,385.7C754.8,385.7 756.1,392.4 756.4,395.2C756.7,398.0 757.9,410.7 758.2,417.2C758.5,423.7 759.7,467.0 760.1,467.5C760.5,468.0 761.8,431.5 762.2,423.0C762.6,414.5 763.9,381.1 764.4,373.3C764.9,365.5 766.8,340.8 767.4,336.6C768.0,332.4 770.3,327.6 771.0,326.4C771.7,325.2 774.1,323.5 774.7,323.8C775.3,324.1 776.9,326.2 777.3,329.3C777.7,332.4 778.4,352.7 778.7,358.6C779.0,364.5 780.2,389.4 780.5,395.2C780.8,401.0 781.2,411.7 781.6,423.0C782.0,434.3 784.1,520.6 784.6,520.6C785.1,520.6 787.1,436.3 787.5,423.0C787.9,409.7 788.4,379.4 788.6,373.3C788.8,367.2 789.4,357.0 789.7,354.9C790.0,352.8 791.8,350.0 792.3,349.8C792.8,349.6 794.3,351.6 794.8,352.7C795.3,353.8 797.4,360.6 798.1,362.3C798.8,364.0 801.8,369.5 802.5,371.1C803.2,372.7 805.1,378.4 805.5,380.6C805.9,382.8 806.7,393.2 806.9,395.2C807.1,397.2 807.7,401.8 808.0,402.6C808.3,403.4 809.4,404.4 809.9,404.0C810.4,403.6 812.9,399.0 813.5,398.2C814.1,397.4 816.2,395.6 816.8,395.6C817.4,395.6 819.5,397.2 820.1,398.2C820.7,399.2 822.5,404.8 823.0,406.2C823.5,407.6 824.9,412.8 825.2,414.3C825.5,415.8 826.1,414.1 826.3,423.0C826.5,431.9 827.5,496.6 827.9,513.0C828.3,529.4 830.1,589.1 830.6,605.0C831.1,620.9 832.6,676.4 833.0,690.0C833.4,703.6 834.3,756.5 834.6,756.5C834.9,756.5 836.0,706.7 836.5,690.0C837.0,673.3 839.2,571.0 839.8,571.0C840.4,571.0 842.3,669.2 843.0,690.0C843.7,710.8 846.4,797.8 847.1,802.3C847.8,806.8 850.2,753.0 851.0,740.0C851.8,727.0 855.5,656.2 856.3,658.0C857.1,659.8 859.3,729.2 860.0,760.0C860.7,790.8 863.3,960.4 864.0,1000.0C864.7,1039.6 867.3,1172.5 868.0,1200.0C868.7,1227.5 871.2,1310.1 871.8,1305.6C872.4,1301.1 874.0,1175.7 874.5,1150.0C875.0,1124.3 876.7,1020.0 877.3,1020.0C877.9,1020.0 880.1,1126.1 881.0,1150.0C881.9,1173.9 886.3,1285.4 887.4,1285.4C888.5,1285.4 892.0,1180.2 893.0,1150.0C894.0,1119.8 898.0,979.7 899.0,950.0C900.0,920.3 903.2,837.1 904.0,820.0C904.8,802.9 906.9,767.2 907.5,760.0C908.1,752.8 909.8,737.1 910.4,739.6C911.0,742.1 913.2,780.9 913.7,787.3C914.2,793.7 915.9,811.1 916.5,811.1C917.1,811.1 919.4,796.9 920.1,787.3C920.8,777.7 922.9,721.3 923.8,704.8C924.7,688.3 929.2,616.0 930.2,604.1C931.2,592.2 934.2,576.1 934.8,573.0C935.4,569.9 936.6,569.0 937.2,570.2C937.8,571.4 940.5,580.3 941.2,585.8C941.9,591.3 944.4,625.2 944.9,631.6C945.4,638.0 946.8,657.2 947.3,657.2C947.8,657.2 949.8,635.4 950.4,631.6C951.0,627.8 952.8,615.6 953.5,615.1C954.2,614.6 957.8,624.5 958.6,626.1C959.4,627.7 961.9,632.7 962.8,632.5C963.7,632.3 967.8,624.3 968.7,624.2C969.6,624.1 972.4,629.4 973.3,631.6C974.2,633.8 977.6,647.2 978.8,649.0C980.0,650.8 984.8,650.6 986.1,651.7C987.4,652.8 992.0,659.4 993.4,660.9C994.8,662.4 1000.4,665.9 1001.6,668.2C1002.8,670.5 1005.3,684.4 1006.2,686.5C1007.1,688.6 1011.0,689.5 1011.7,691.1C1012.4,692.7 1013.8,701.1 1014.5,704.8C1015.2,708.5 1018.3,728.9 1019.0,732.3C1019.7,735.7 1021.9,742.0 1022.7,742.4C1023.5,742.8 1027.2,737.2 1028.2,736.9C1029.2,736.6 1033.0,736.6 1033.7,738.7C1034.4,740.8 1035.9,754.6 1036.4,759.8C1036.9,765.0 1038.4,785.9 1039.2,796.4C1040.0,806.9 1044.7,865.3 1045.8,876.6C1046.9,887.9 1050.1,914.5 1051.3,922.4C1052.5,930.3 1057.7,957.1 1058.6,964.5C1059.5,971.9 1061.0,994.6 1061.4,1004.8C1061.8,1015.0 1063.0,1064.6 1063.2,1078.1C1063.4,1091.6 1063.8,1138.1 1064.1,1154.9C1064.4,1171.7 1066.2,1245.0 1066.8,1264.8C1067.4,1284.6 1070.0,1363.3 1070.5,1374.7C1071.0,1386.1 1071.8,1389.9 1072.3,1391.6C1072.8,1393.3 1075.4,1391.8 1076.0,1393.4C1076.6,1395.0 1078.2,1405.1 1078.8,1409.9C1079.4,1414.7 1081.8,1440.6 1082.4,1446.5C1083.0,1452.4 1085.2,1477.4 1085.7,1475.8C1086.2,1474.2 1087.5,1445.5 1087.9,1428.2C1088.3,1410.9 1089.3,1299.7 1089.7,1283.2C1090.1,1266.7 1092.0,1243.1 1092.5,1244.7C1093.0,1246.3 1094.7,1288.5 1095.2,1301.5C1095.7,1314.5 1097.3,1386.1 1098.0,1389.4C1098.7,1392.7 1101.9,1351.0 1102.6,1338.1C1103.3,1325.2 1105.5,1261.3 1106.2,1246.5C1106.9,1231.7 1109.2,1182.2 1109.9,1173.3C1110.6,1164.4 1112.9,1158.3 1113.6,1148.1C1114.3,1137.9 1116.5,1076.0 1117.2,1059.8C1117.9,1043.6 1120.2,978.7 1120.9,968.2C1121.6,957.7 1123.8,943.7 1124.5,943.5C1125.2,943.3 1128.2,966.4 1129.1,966.4C1130.0,966.4 1133.4,942.5 1134.1,943.5C1134.8,944.5 1136.9,971.2 1137.4,977.4C1137.9,983.6 1139.6,1013.0 1140.1,1012.2C1140.6,1011.4 1142.4,976.0 1142.9,968.2C1143.4,960.4 1145.6,927.5 1146.2,925.2C1146.8,922.9 1148.7,940.1 1149.3,942.6C1149.9,945.1 1152.2,951.9 1152.9,952.6C1153.6,953.3 1156.7,951.0 1157.5,949.9C1158.3,948.8 1161.4,942.0 1162.1,940.7C1162.8,939.4 1165.1,934.4 1165.8,935.2C1166.5,936.0 1168.8,947.2 1169.4,949.9C1170.0,952.6 1171.7,967.1 1172.2,965.5C1172.7,963.9 1174.5,936.8 1174.9,931.6C1175.3,926.4 1176.1,910.3 1176.7,907.8C1177.3,905.3 1180.4,904.7 1181.3,904.1C1182.2,903.5 1186.0,902.4 1186.8,901.4C1187.6,900.4 1189.8,894.2 1190.5,893.1C1191.2,892.0 1193.3,889.0 1194.1,889.1C1194.9,889.2 1198.7,893.6 1199.6,894.0C1200.5,894.4 1203.4,893.4 1204.2,894.0C1205.0,894.6 1207.7,898.3 1208.8,900.4C1209.9,902.5 1215.0,913.8 1216.1,916.9C1217.2,920.0 1220.0,930.6 1220.7,935.2C1221.4,939.8 1223.8,962.8 1224.4,968.2C1225.0,973.6 1226.6,992.8 1227.1,995.7C1227.6,998.6 1229.4,1001.1 1229.9,1000.3C1230.4,999.5 1232.1,990.0 1232.6,986.5C1233.1,983.0 1234.6,963.5 1235.3,960.9C1236.0,958.3 1239.2,958.9 1239.9,958.1C1240.6,957.3 1242.9,952.5 1243.6,951.7C1244.3,950.9 1246.5,948.5 1247.3,949.0C1248.1,949.5 1251.9,955.1 1252.7,957.2C1253.5,959.3 1255.7,968.4 1256.4,971.9C1257.1,975.4 1259.4,991.4 1260.1,995.7C1260.8,1000.0 1263.9,1016.4 1264.7,1019.5C1265.5,1022.6 1268.6,1026.9 1269.2,1030.5C1269.8,1034.1 1271.2,1052.2 1271.6,1059.8C1272.0,1067.4 1273.0,1107.8 1273.3,1114.7C1273.6,1121.6 1274.1,1130.5 1274.7,1136.6C1275.3,1142.7 1279.4,1176.0 1280.2,1182.4C1281.0,1188.8 1283.3,1208.9 1283.9,1208.1C1284.5,1207.3 1286.1,1180.9 1286.6,1173.3C1287.1,1165.7 1288.9,1125.5 1289.4,1123.8C1289.9,1122.1 1291.7,1145.5 1292.1,1154.9C1292.5,1164.3 1293.7,1219.1 1294.0,1228.2C1294.3,1237.3 1295.1,1253.3 1295.8,1255.7C1296.5,1258.1 1301.5,1252.3 1302.2,1254.8C1302.9,1257.3 1303.5,1274.1 1304.0,1283.2C1304.5,1292.3 1307.0,1344.2 1307.7,1356.4C1308.4,1368.6 1310.7,1409.2 1311.4,1419.0C1312.1,1428.8 1314.3,1458.4 1315.0,1464.8C1315.7,1471.2 1318.1,1487.8 1318.7,1490.5C1319.3,1493.2 1318.7,1494.1 1321.4,1494.5C1328.0,1494.5 1385.2,1494.5 1392.0,1494.5C1396.5,1493.0 1395.8,1481.7 1396.5,1478.1C1397.2,1474.5 1399.5,1456.9 1400.1,1454.3C1400.7,1451.7 1402.3,1448.0 1402.9,1448.8C1403.5,1449.6 1406.0,1461.1 1406.6,1463.4C1407.2,1465.7 1408.7,1473.8 1409.3,1474.4C1409.9,1475.0 1412.3,1470.1 1413.0,1469.9C1413.7,1469.7 1415.8,1472.0 1416.6,1472.6C1417.4,1473.2 1421.3,1476.6 1422.1,1476.3C1422.9,1476.0 1425.1,1472.9 1425.8,1468.9C1426.5,1464.9 1429.6,1438.1 1430.4,1432.3C1431.2,1426.5 1434.2,1408.3 1434.9,1404.8C1435.6,1401.3 1438.0,1392.1 1438.6,1392.9C1439.2,1393.7 1440.9,1406.5 1441.4,1414.0C1441.9,1421.5 1443.6,1478.8 1444.1,1476.3C1444.6,1473.8 1446.3,1398.5 1446.8,1386.5C1447.3,1374.5 1449.2,1347.2 1449.6,1342.6C1450.0,1338.0 1451.0,1332.9 1451.4,1335.2C1451.8,1337.5 1453.7,1357.2 1454.2,1368.2C1454.7,1379.2 1456.3,1456.3 1456.9,1457.9C1457.5,1459.5 1460.0,1398.7 1460.6,1386.5C1461.2,1374.3 1462.9,1329.8 1463.3,1322.4C1463.7,1315.0 1464.8,1306.1 1465.2,1304.1C1465.6,1302.1 1467.3,1300.7 1467.9,1300.4C1468.5,1300.1 1471.1,1304.2 1471.6,1300.4C1472.1,1296.6 1473.2,1265.0 1473.4,1258.3C1473.6,1251.6 1473.9,1232.8 1474.3,1226.5C1474.7,1220.2 1476.8,1186.5 1477.4,1188.1C1478.0,1189.7 1480.2,1237.1 1480.7,1244.8C1481.2,1252.5 1482.5,1279.0 1482.9,1274.1C1483.3,1269.2 1484.8,1201.7 1485.3,1189.9C1485.8,1178.1 1487.6,1147.5 1488.1,1143.2C1488.6,1138.9 1490.1,1141.7 1490.8,1142.3C1491.5,1142.9 1494.6,1148.3 1495.4,1149.6C1496.2,1150.9 1499.0,1156.7 1500.0,1156.9C1501.0,1157.1 1505.2,1153.4 1506.4,1151.4C1507.6,1149.4 1512.5,1137.0 1513.7,1134.9C1514.9,1132.8 1519.2,1129.0 1520.1,1127.6C1521.0,1126.2 1523.2,1120.4 1523.8,1119.4C1524.4,1118.4 1525.8,1116.4 1526.5,1116.6C1527.2,1116.8 1530.3,1121.1 1531.1,1122.1C1531.9,1123.1 1534.8,1127.1 1535.7,1127.6C1536.6,1128.1 1540.2,1127.8 1541.2,1127.6C1542.2,1127.4 1546.0,1125.5 1546.7,1125.8C1547.4,1126.1 1548.8,1128.8 1549.4,1131.3C1550.0,1133.8 1552.4,1150.7 1553.1,1153.3C1553.8,1155.9 1556.0,1160.3 1556.7,1160.6C1557.4,1160.9 1560.6,1158.2 1561.3,1156.9C1562.0,1155.6 1564.4,1147.4 1565.0,1145.9C1565.6,1144.4 1567.7,1139.7 1568.3,1140.4C1568.9,1141.1 1570.9,1150.8 1571.4,1153.3C1571.9,1155.8 1573.6,1167.9 1574.1,1167.9C1574.6,1167.9 1576.4,1155.6 1576.9,1153.3C1577.4,1151.0 1579.0,1142.3 1579.6,1142.3C1580.2,1142.3 1582.6,1151.7 1583.3,1153.3C1584.0,1154.9 1586.3,1159.9 1587.0,1160.6C1587.7,1161.3 1590.0,1159.9 1590.6,1161.5C1591.2,1163.1 1592.9,1176.3 1593.4,1178.9C1593.9,1181.5 1595.5,1190.9 1596.1,1189.9C1596.7,1188.9 1599.2,1170.5 1599.8,1167.9C1600.4,1165.3 1601.8,1162.0 1602.5,1161.5C1603.2,1161.0 1607.1,1162.5 1608.0,1162.4C1608.9,1162.3 1611.7,1160.4 1612.6,1160.6C1613.5,1160.8 1617.1,1163.0 1618.1,1164.2C1619.1,1165.4 1622.8,1171.1 1623.6,1173.4C1624.4,1175.7 1626.7,1187.9 1627.3,1189.9C1627.9,1191.9 1629.4,1195.0 1630.0,1195.4C1630.6,1195.8 1633.0,1194.8 1633.7,1194.5C1634.4,1194.2 1637.3,1191.3 1638.2,1191.7C1639.1,1192.1 1642.6,1197.5 1643.7,1199.0C1644.8,1200.5 1649.3,1206.0 1650.1,1208.2C1650.9,1210.4 1652.4,1220.9 1652.9,1222.9C1653.4,1224.9 1654.9,1229.9 1655.6,1230.2C1656.3,1230.5 1659.4,1226.3 1660.2,1226.5C1661.0,1226.7 1664.0,1230.8 1664.8,1232.0C1665.6,1233.2 1668.7,1240.5 1669.4,1240.3C1670.1,1240.1 1672.3,1231.6 1673.0,1230.2C1673.7,1228.8 1676.0,1224.5 1676.7,1224.7C1677.4,1224.9 1680.4,1232.6 1681.3,1232.0C1682.2,1231.4 1685.9,1218.6 1686.8,1218.3C1687.7,1218.0 1690.7,1227.7 1691.4,1228.4C1692.1,1229.1 1694.3,1226.8 1695.0,1226.5C1695.7,1226.2 1698.9,1225.1 1699.6,1225.6C1700.3,1226.1 1702.6,1229.9 1703.3,1232.0C1704.0,1234.1 1706.3,1246.0 1706.9,1248.5C1707.5,1251.0 1709.1,1260.7 1709.7,1259.5C1710.3,1258.3 1712.7,1235.4 1713.3,1235.7C1713.9,1236.0 1715.6,1258.6 1716.1,1263.2C1716.6,1267.8 1718.2,1288.7 1718.8,1287.0C1719.4,1285.3 1721.9,1249.3 1722.5,1244.8C1723.1,1240.3 1724.7,1236.7 1725.2,1237.5C1725.7,1238.3 1727.4,1250.0 1728.0,1254.0C1728.6,1258.0 1730.9,1277.8 1731.6,1281.5C1732.3,1285.2 1735.5,1295.2 1736.2,1295.2C1736.9,1295.2 1739.3,1284.4 1739.9,1281.5C1740.5,1278.6 1742.1,1265.5 1742.6,1263.2C1743.1,1260.9 1744.6,1253.6 1745.1,1255.6C1745.6,1257.6 1747.7,1280.0 1748.2,1285.8C1748.7,1291.6 1750.5,1321.4 1751.0,1320.6C1751.5,1319.8 1753.8,1282.0 1754.3,1276.6C1754.8,1271.2 1756.3,1259.3 1756.8,1260.1C1757.3,1260.9 1759.5,1279.4 1760.1,1285.8C1760.7,1292.2 1763.1,1325.8 1763.8,1331.6C1764.5,1337.4 1766.8,1347.8 1767.5,1349.9C1768.2,1352.0 1770.4,1355.2 1771.1,1354.5C1771.8,1353.8 1774.2,1344.6 1774.8,1342.6C1775.4,1340.6 1777.1,1330.2 1777.5,1332.5C1777.9,1334.8 1779.1,1358.4 1779.4,1368.2C1779.7,1378.0 1780.8,1433.4 1781.2,1441.5C1781.6,1449.6 1783.0,1461.2 1783.4,1457.9C1783.8,1454.6 1785.3,1413.6 1785.8,1404.8C1786.3,1396.0 1788.0,1361.6 1788.5,1360.0C1789.0,1358.4 1790.8,1379.2 1791.3,1386.5C1791.8,1393.8 1793.5,1434.1 1794.0,1441.5C1794.5,1448.9 1796.3,1465.4 1796.8,1468.9C1797.3,1472.4 1798.9,1479.6 1799.5,1479.9C1800.1,1480.2 1802.6,1473.1 1803.2,1472.6C1803.8,1472.1 1805.3,1472.9 1805.9,1474.4C1806.5,1475.9 1808.9,1487.3 1809.6,1489.1C1810.3,1490.9 1812.9,1494.0 1813.3,1494.5C1813.5,1494.5 1813.3,1494.5 1813.5,1494.5C1825.0,1494.5 1929.3,1494.5 1941.0,1494.5C1943.9,1494.3 1943.2,1492.2 1943.9,1492.2C1944.6,1492.2 1948.0,1494.3 1949.0,1494.4C1950.0,1494.5 1954.1,1494.2 1954.9,1493.7C1955.7,1493.2 1957.1,1489.9 1957.8,1489.3C1958.5,1488.7 1962.3,1487.9 1963.0,1487.1C1963.7,1486.3 1965.4,1482.3 1965.9,1480.5C1966.4,1478.7 1968.2,1468.7 1968.8,1467.3C1969.4,1465.9 1971.9,1466.5 1972.5,1465.1C1973.1,1463.7 1974.9,1455.8 1975.4,1451.2C1975.9,1446.6 1977.9,1418.8 1978.4,1414.5C1978.9,1410.2 1980.8,1404.7 1981.3,1403.6C1981.8,1402.5 1983.4,1402.2 1983.9,1402.8C1984.4,1403.4 1986.6,1407.1 1987.1,1410.1C1987.6,1413.1 1988.8,1430.8 1989.3,1436.5C1989.8,1442.2 1991.8,1474.5 1992.3,1473.2C1992.8,1471.9 1994.1,1429.4 1994.5,1421.9C1994.9,1414.4 1996.3,1392.8 1996.7,1389.6C1997.1,1386.4 1998.2,1385.8 1998.6,1386.7C1999.0,1387.6 2000.7,1395.4 2001.1,1399.9C2001.5,1404.4 2003.0,1432.8 2003.3,1436.5C2003.6,1440.2 2004.4,1443.5 2004.7,1440.9C2005.0,1438.3 2006.5,1411.1 2006.9,1407.2C2007.3,1403.3 2008.6,1397.7 2009.1,1397.7C2009.6,1397.7 2011.6,1403.7 2012.1,1407.2C2012.6,1410.7 2013.8,1430.6 2014.2,1436.5C2014.6,1442.4 2015.9,1469.1 2016.4,1473.2C2016.9,1477.3 2018.9,1483.2 2019.4,1481.9C2019.9,1480.6 2021.1,1462.5 2021.6,1458.5C2022.1,1454.5 2024.4,1438.5 2024.9,1437.3C2025.4,1436.1 2026.8,1443.4 2027.4,1445.3C2028.0,1447.2 2030.5,1458.6 2031.1,1458.5C2031.7,1458.4 2033.3,1449.1 2034.0,1443.8C2034.7,1438.5 2037.5,1406.5 2038.4,1399.9C2039.3,1393.3 2042.8,1374.6 2043.6,1370.6C2044.4,1366.6 2046.5,1357.7 2047.2,1355.9C2047.9,1354.1 2050.3,1350.7 2050.9,1350.8C2051.5,1350.9 2053.3,1355.0 2053.8,1357.4C2054.3,1359.8 2055.6,1374.5 2056.0,1377.9C2056.4,1381.3 2057.8,1395.5 2058.2,1395.5C2058.6,1395.5 2060.0,1380.4 2060.4,1377.9C2060.8,1375.4 2062.1,1367.7 2062.6,1367.7C2063.1,1367.7 2065.0,1375.0 2065.5,1377.9C2066.0,1380.8 2067.9,1396.3 2068.5,1399.9C2069.1,1403.5 2071.5,1417.5 2072.1,1417.5C2072.7,1417.5 2074.5,1403.6 2075.1,1399.9C2075.7,1396.2 2078.1,1377.1 2078.7,1376.4C2079.3,1375.7 2081.1,1390.0 2081.6,1392.6C2082.1,1395.2 2084.1,1404.5 2084.6,1405.8C2085.1,1407.1 2086.9,1407.7 2087.5,1407.2C2088.1,1406.7 2090.5,1402.5 2091.2,1399.9C2091.9,1397.3 2094.9,1381.3 2095.6,1377.9C2096.3,1374.5 2098.6,1362.5 2099.2,1361.8C2099.8,1361.1 2101.6,1368.9 2102.2,1370.6C2102.8,1372.3 2105.1,1380.8 2105.8,1380.8C2106.5,1380.8 2109.3,1372.1 2110.2,1370.6C2111.1,1369.1 2114.4,1364.2 2115.3,1364.0C2116.2,1363.8 2119.6,1368.2 2120.5,1368.4C2121.4,1368.6 2124.7,1366.0 2125.6,1366.2C2126.5,1366.4 2129.8,1370.1 2130.7,1370.6C2131.6,1371.1 2134.3,1371.8 2135.1,1372.1C2135.9,1372.4 2138.9,1372.3 2139.5,1373.5C2140.1,1374.7 2141.1,1383.6 2141.7,1385.2C2142.3,1386.8 2145.4,1391.1 2146.1,1391.1C2146.8,1391.1 2149.1,1386.1 2149.8,1385.2C2150.5,1384.3 2152.7,1381.6 2153.4,1381.6C2154.1,1381.6 2156.9,1385.3 2157.8,1385.2C2158.7,1385.1 2162.0,1381.4 2163.0,1380.8C2164.0,1380.2 2167.9,1378.3 2168.8,1378.6C2169.7,1378.9 2172.3,1382.8 2173.2,1383.8C2174.1,1384.8 2178.0,1388.7 2179.1,1389.6C2180.2,1390.5 2183.9,1393.9 2184.9,1394.0C2185.9,1394.1 2189.1,1392.1 2190.1,1391.1C2191.1,1390.1 2195.0,1383.3 2195.9,1383.0C2196.8,1382.7 2199.0,1387.6 2199.6,1388.2C2200.2,1388.8 2201.9,1389.5 2202.5,1389.6C2203.1,1389.7 2205.7,1388.7 2206.2,1389.6C2206.7,1390.5 2208.0,1397.5 2208.4,1399.9C2208.8,1402.3 2210.2,1414.3 2210.6,1416.0C2211.0,1417.7 2212.3,1420.3 2212.8,1418.9C2213.3,1417.5 2215.2,1402.4 2215.7,1399.9C2216.2,1397.4 2218.1,1391.2 2218.6,1391.1C2219.1,1391.0 2221.1,1397.3 2221.6,1398.4C2222.1,1399.5 2223.9,1403.1 2224.5,1403.6C2225.1,1404.1 2228.1,1403.6 2228.5,1403.6"/>
</g>
<g stroke-width="5.6" fill="none">
<path d="M1321,110.2H1407" stroke="#1F79C0"/>
<path d="M1321,221.5H1407" stroke="#E04844"/>
<path d="M1321,332.8H1407" stroke="#8BBC48"/>
<path d="M1321,444.1H1407" stroke="#8060B2"/>
<path d="M1321,555.4H1407" stroke="#06ACCA"/>
<path d="M1321,666.7H1407" stroke="#FE9334"/>
</g>
<text x="1412" y="135.5" textLength="806" lengthAdjust="spacingAndGlyphs">solar altitude angle = 15°</text>
<text x="1412" y="246.8" textLength="806" lengthAdjust="spacingAndGlyphs">solar altitude angle = 30°</text>
<text x="1412" y="358.1" textLength="806" lengthAdjust="spacingAndGlyphs">solar altitude angle = 45°</text>
<text x="1412" y="469.4" textLength="806" lengthAdjust="spacingAndGlyphs">solar altitude angle = 60°</text>
<text x="1412" y="580.7" textLength="806" lengthAdjust="spacingAndGlyphs">solar altitude angle = 75°</text>
<text x="1412" y="692.0" textLength="806" lengthAdjust="spacingAndGlyphs">solar altitude angle = 90°</text>
</g></svg>
</body></html>
